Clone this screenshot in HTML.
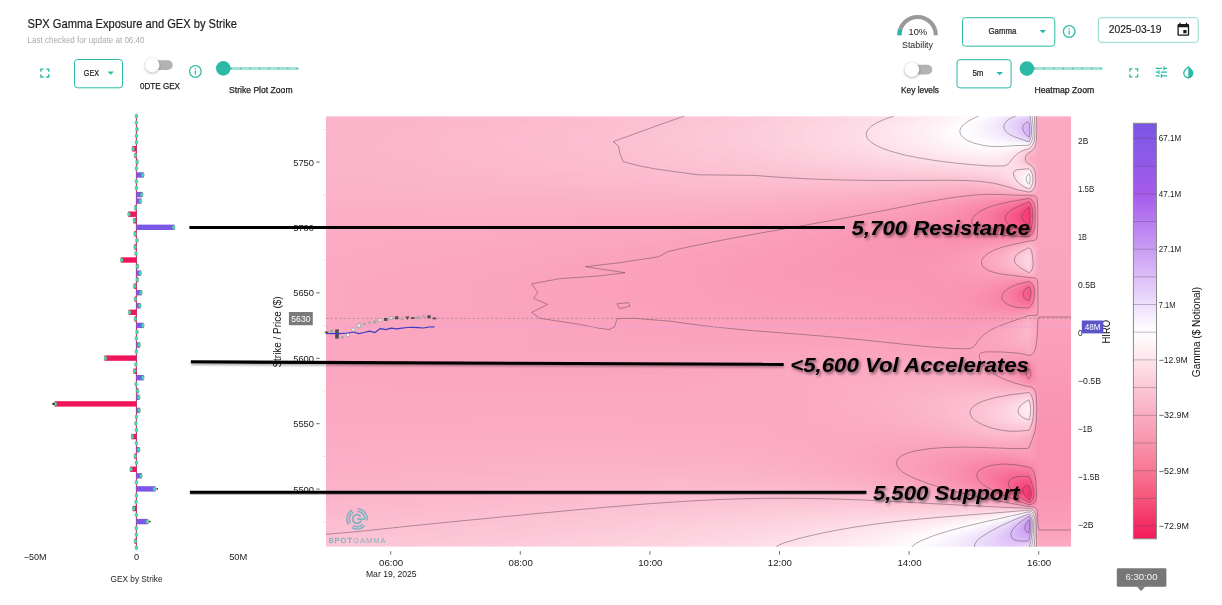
<!DOCTYPE html>
<html><head><meta charset="utf-8"><title>SPX Gamma Exposure and GEX by Strike</title>
<style>
html,body{margin:0;padding:0;background:#fff;}
body{width:1222px;height:605px;overflow:hidden;font-family:"Liberation Sans", sans-serif;}
svg{display:block;position:absolute;left:0;top:0;will-change:transform;}
svg text{font-family:"Liberation Sans", sans-serif;}
</style></head><body>
<svg width="1222" height="605" viewBox="0 0 1222 605">
<defs>
<filter id="b1" x="-50%" y="-50%" width="200%" height="200%"><feGaussianBlur stdDeviation="1"/></filter>
<filter id="b2" x="-10%" y="-300%" width="120%" height="700%"><feGaussianBlur stdDeviation="1.3"/></filter>
<linearGradient id="g0"><stop offset="0.0000" stop-color="#fbb3c9"/><stop offset="0.1244" stop-color="#fbb5cb"/><stop offset="0.2519" stop-color="#fcb9cd"/><stop offset="0.3660" stop-color="#fcbdd0"/><stop offset="0.4667" stop-color="#fcc1d3"/><stop offset="0.5540" stop-color="#fcc7d7"/><stop offset="0.6278" stop-color="#fdcedc"/><stop offset="0.6882" stop-color="#fdd5e1"/><stop offset="0.7352" stop-color="#fddce6"/><stop offset="0.7754" stop-color="#fee3eb"/><stop offset="0.8090" stop-color="#feeaf0"/><stop offset="0.8358" stop-color="#fef1f5"/><stop offset="0.8573" stop-color="#fff8fa"/><stop offset="0.8748" stop-color="#ffffff"/><stop offset="0.8895" stop-color="#fbf7fe"/><stop offset="0.9016" stop-color="#f6effd"/><stop offset="0.9110" stop-color="#f2e8fc"/><stop offset="0.9191" stop-color="#efe1fb"/><stop offset="0.9258" stop-color="#ebdbfb"/><stop offset="0.9311" stop-color="#e8d6fa"/><stop offset="0.9352" stop-color="#e6d2fa"/><stop offset="0.9385" stop-color="#e5cff9"/><stop offset="0.9412" stop-color="#e4cdf9"/><stop offset="0.9436" stop-color="#e3ccf9"/><stop offset="0.9455" stop-color="#efe2fb"/><stop offset="0.9468" stop-color="#f8f2fd"/><stop offset="0.9482" stop-color="#fffdfd"/><stop offset="0.9495" stop-color="#feeef3"/><stop offset="0.9509" stop-color="#fddfe9"/><stop offset="0.9522" stop-color="#fdd1de"/><stop offset="0.9536" stop-color="#fcc2d4"/><stop offset="0.9549" stop-color="#fbb3c9"/><stop offset="0.9559" stop-color="#fba9c2"/><stop offset="1.0000" stop-color="#fba9c2"/></linearGradient>
<linearGradient id="g1"><stop offset="0.0000" stop-color="#fbb3c9"/><stop offset="0.1244" stop-color="#fbb6cb"/><stop offset="0.2519" stop-color="#fcb9cd"/><stop offset="0.3660" stop-color="#fcbdd0"/><stop offset="0.4667" stop-color="#fcc2d4"/><stop offset="0.5540" stop-color="#fcc8d8"/><stop offset="0.6278" stop-color="#fdcfdd"/><stop offset="0.6882" stop-color="#fdd6e2"/><stop offset="0.7352" stop-color="#fddde7"/><stop offset="0.7754" stop-color="#fee5ec"/><stop offset="0.8090" stop-color="#feedf2"/><stop offset="0.8358" stop-color="#fef4f7"/><stop offset="0.8573" stop-color="#fffbfc"/><stop offset="0.8748" stop-color="#fdfbff"/><stop offset="0.8895" stop-color="#f8f3fe"/><stop offset="0.9016" stop-color="#f4eafc"/><stop offset="0.9110" stop-color="#efe3fc"/><stop offset="0.9191" stop-color="#ebdbfb"/><stop offset="0.9258" stop-color="#e7d4fa"/><stop offset="0.9311" stop-color="#e4cdf9"/><stop offset="0.9352" stop-color="#e1c9f8"/><stop offset="0.9385" stop-color="#dfc5f8"/><stop offset="0.9412" stop-color="#dec3f8"/><stop offset="0.9436" stop-color="#ddc1f7"/><stop offset="0.9455" stop-color="#ead9fa"/><stop offset="0.9468" stop-color="#f3eafc"/><stop offset="0.9482" stop-color="#fdfbfe"/><stop offset="0.9495" stop-color="#fef3f7"/><stop offset="0.9509" stop-color="#fee3eb"/><stop offset="0.9522" stop-color="#fdd4e0"/><stop offset="0.9536" stop-color="#fcc4d5"/><stop offset="0.9549" stop-color="#fbb4ca"/><stop offset="0.9559" stop-color="#fba9c2"/><stop offset="1.0000" stop-color="#fba9c2"/></linearGradient>
<linearGradient id="g2"><stop offset="0.0000" stop-color="#fbb4ca"/><stop offset="0.1244" stop-color="#fcb6cb"/><stop offset="0.2519" stop-color="#fcb9ce"/><stop offset="0.3660" stop-color="#fcbed1"/><stop offset="0.4667" stop-color="#fcc3d4"/><stop offset="0.5540" stop-color="#fcc9d9"/><stop offset="0.6278" stop-color="#fdd0de"/><stop offset="0.6882" stop-color="#fdd7e3"/><stop offset="0.7352" stop-color="#fddfe8"/><stop offset="0.7754" stop-color="#fee7ee"/><stop offset="0.8090" stop-color="#feeff3"/><stop offset="0.8358" stop-color="#fff6f9"/><stop offset="0.8573" stop-color="#fffefe"/><stop offset="0.8748" stop-color="#fbf9fe"/><stop offset="0.8895" stop-color="#f7f0fd"/><stop offset="0.9016" stop-color="#f2e8fc"/><stop offset="0.9110" stop-color="#eedffb"/><stop offset="0.9191" stop-color="#e9d7fa"/><stop offset="0.9258" stop-color="#e4cff9"/><stop offset="0.9311" stop-color="#e1c8f8"/><stop offset="0.9352" stop-color="#dec2f8"/><stop offset="0.9385" stop-color="#dbbef7"/><stop offset="0.9412" stop-color="#d9baf7"/><stop offset="0.9436" stop-color="#d8b8f6"/><stop offset="0.9455" stop-color="#e6d1f9"/><stop offset="0.9468" stop-color="#f0e3fc"/><stop offset="0.9482" stop-color="#faf5fe"/><stop offset="0.9495" stop-color="#fff7fa"/><stop offset="0.9509" stop-color="#fee7ee"/><stop offset="0.9522" stop-color="#fdd6e2"/><stop offset="0.9536" stop-color="#fcc5d6"/><stop offset="0.9549" stop-color="#fbb5ca"/><stop offset="0.9559" stop-color="#fba9c2"/><stop offset="1.0000" stop-color="#fba9c2"/></linearGradient>
<linearGradient id="g3"><stop offset="0.0000" stop-color="#fbb4ca"/><stop offset="0.1244" stop-color="#fcb6cc"/><stop offset="0.2519" stop-color="#fcbace"/><stop offset="0.3660" stop-color="#fcbed1"/><stop offset="0.4667" stop-color="#fcc3d5"/><stop offset="0.5540" stop-color="#fcc9d9"/><stop offset="0.6278" stop-color="#fdd1de"/><stop offset="0.6882" stop-color="#fdd8e3"/><stop offset="0.7352" stop-color="#fee0e9"/><stop offset="0.7754" stop-color="#fee8ef"/><stop offset="0.8090" stop-color="#fef0f4"/><stop offset="0.8358" stop-color="#fff8fa"/><stop offset="0.8573" stop-color="#ffffff"/><stop offset="0.8748" stop-color="#fbf7fe"/><stop offset="0.8895" stop-color="#f6effd"/><stop offset="0.9016" stop-color="#f1e6fc"/><stop offset="0.9110" stop-color="#eddefb"/><stop offset="0.9191" stop-color="#e8d5fa"/><stop offset="0.9258" stop-color="#e3cdf9"/><stop offset="0.9311" stop-color="#dfc5f8"/><stop offset="0.9352" stop-color="#dcbef7"/><stop offset="0.9385" stop-color="#d9b9f6"/><stop offset="0.9412" stop-color="#d6b5f6"/><stop offset="0.9436" stop-color="#d4b1f6"/><stop offset="0.9455" stop-color="#e3ccf9"/><stop offset="0.9468" stop-color="#eddefb"/><stop offset="0.9482" stop-color="#f7f1fd"/><stop offset="0.9495" stop-color="#fffafc"/><stop offset="0.9509" stop-color="#fee9ef"/><stop offset="0.9522" stop-color="#fdd8e3"/><stop offset="0.9536" stop-color="#fcc6d7"/><stop offset="0.9549" stop-color="#fbb5cb"/><stop offset="0.9559" stop-color="#fba9c2"/><stop offset="1.0000" stop-color="#fba9c2"/></linearGradient>
<linearGradient id="g4"><stop offset="0.0000" stop-color="#fbb4ca"/><stop offset="0.1244" stop-color="#fcb7cc"/><stop offset="0.2519" stop-color="#fcbace"/><stop offset="0.3660" stop-color="#fcbed1"/><stop offset="0.4667" stop-color="#fcc4d5"/><stop offset="0.5540" stop-color="#fccad9"/><stop offset="0.6278" stop-color="#fdd1de"/><stop offset="0.6882" stop-color="#fdd9e4"/><stop offset="0.7352" stop-color="#fee0e9"/><stop offset="0.7754" stop-color="#fee9ef"/><stop offset="0.8090" stop-color="#fef1f5"/><stop offset="0.8358" stop-color="#fff9fa"/><stop offset="0.8573" stop-color="#fefeff"/><stop offset="0.8748" stop-color="#faf6fe"/><stop offset="0.8895" stop-color="#f6effd"/><stop offset="0.9016" stop-color="#f2e7fc"/><stop offset="0.9110" stop-color="#eddffb"/><stop offset="0.9191" stop-color="#e9d7fa"/><stop offset="0.9258" stop-color="#e4cef9"/><stop offset="0.9311" stop-color="#dfc5f8"/><stop offset="0.9352" stop-color="#dcbef7"/><stop offset="0.9385" stop-color="#d8b8f6"/><stop offset="0.9412" stop-color="#d5b3f6"/><stop offset="0.9436" stop-color="#d2aef5"/><stop offset="0.9455" stop-color="#e1c9f8"/><stop offset="0.9468" stop-color="#ecdcfb"/><stop offset="0.9482" stop-color="#f6effd"/><stop offset="0.9495" stop-color="#fffcfd"/><stop offset="0.9509" stop-color="#feeaf0"/><stop offset="0.9522" stop-color="#fdd9e4"/><stop offset="0.9536" stop-color="#fcc7d7"/><stop offset="0.9549" stop-color="#fbb5cb"/><stop offset="0.9559" stop-color="#fba9c2"/><stop offset="1.0000" stop-color="#fba9c2"/></linearGradient>
<linearGradient id="g5"><stop offset="0.0000" stop-color="#fbb4ca"/><stop offset="0.1244" stop-color="#fcb7cc"/><stop offset="0.2519" stop-color="#fcbace"/><stop offset="0.3660" stop-color="#fcbfd1"/><stop offset="0.4667" stop-color="#fcc4d5"/><stop offset="0.5540" stop-color="#fccada"/><stop offset="0.6278" stop-color="#fdd1df"/><stop offset="0.6882" stop-color="#fdd9e4"/><stop offset="0.7352" stop-color="#fee1ea"/><stop offset="0.7754" stop-color="#fee9ef"/><stop offset="0.8090" stop-color="#fef1f5"/><stop offset="0.8358" stop-color="#fff9fb"/><stop offset="0.8573" stop-color="#fefeff"/><stop offset="0.8748" stop-color="#fbf7fe"/><stop offset="0.8895" stop-color="#f7f0fd"/><stop offset="0.9016" stop-color="#f3e9fc"/><stop offset="0.9110" stop-color="#efe2fb"/><stop offset="0.9191" stop-color="#ebdafb"/><stop offset="0.9258" stop-color="#e6d2fa"/><stop offset="0.9311" stop-color="#e2caf9"/><stop offset="0.9352" stop-color="#dec3f8"/><stop offset="0.9385" stop-color="#dabbf7"/><stop offset="0.9412" stop-color="#d6b5f6"/><stop offset="0.9436" stop-color="#d3aff5"/><stop offset="0.9455" stop-color="#e2caf8"/><stop offset="0.9468" stop-color="#ecddfb"/><stop offset="0.9482" stop-color="#f7f0fd"/><stop offset="0.9495" stop-color="#fffcfd"/><stop offset="0.9509" stop-color="#feeaf0"/><stop offset="0.9522" stop-color="#fdd8e4"/><stop offset="0.9536" stop-color="#fcc7d7"/><stop offset="0.9549" stop-color="#fbb5cb"/><stop offset="0.9559" stop-color="#fba9c2"/><stop offset="1.0000" stop-color="#fba9c2"/></linearGradient>
<linearGradient id="g6"><stop offset="0.0000" stop-color="#fbb4ca"/><stop offset="0.1244" stop-color="#fcb7cc"/><stop offset="0.2519" stop-color="#fcbace"/><stop offset="0.3660" stop-color="#fcbfd2"/><stop offset="0.4667" stop-color="#fcc4d5"/><stop offset="0.5540" stop-color="#fccada"/><stop offset="0.6278" stop-color="#fdd2df"/><stop offset="0.6882" stop-color="#fdd9e4"/><stop offset="0.7352" stop-color="#fee1ea"/><stop offset="0.7754" stop-color="#fee9ef"/><stop offset="0.8090" stop-color="#fef1f5"/><stop offset="0.8358" stop-color="#fff9fa"/><stop offset="0.8573" stop-color="#ffffff"/><stop offset="0.8748" stop-color="#fbf8fe"/><stop offset="0.8895" stop-color="#f8f2fd"/><stop offset="0.9016" stop-color="#f5ecfd"/><stop offset="0.9110" stop-color="#f2e7fc"/><stop offset="0.9191" stop-color="#eee0fb"/><stop offset="0.9258" stop-color="#ead9fa"/><stop offset="0.9311" stop-color="#e6d2fa"/><stop offset="0.9352" stop-color="#e3cbf9"/><stop offset="0.9385" stop-color="#dfc4f8"/><stop offset="0.9412" stop-color="#dbbdf7"/><stop offset="0.9436" stop-color="#d7b6f6"/><stop offset="0.9455" stop-color="#e5d0f9"/><stop offset="0.9468" stop-color="#efe2fb"/><stop offset="0.9482" stop-color="#f9f4fe"/><stop offset="0.9495" stop-color="#fff8fa"/><stop offset="0.9509" stop-color="#fee7ee"/><stop offset="0.9522" stop-color="#fdd6e2"/><stop offset="0.9536" stop-color="#fcc5d6"/><stop offset="0.9549" stop-color="#fbb4ca"/><stop offset="0.9559" stop-color="#fba8c2"/><stop offset="1.0000" stop-color="#fba8c2"/></linearGradient>
<linearGradient id="g7"><stop offset="0.0000" stop-color="#fbb4ca"/><stop offset="0.1244" stop-color="#fcb7cc"/><stop offset="0.2519" stop-color="#fcbbcf"/><stop offset="0.3660" stop-color="#fcbfd2"/><stop offset="0.4667" stop-color="#fcc4d5"/><stop offset="0.5540" stop-color="#fccada"/><stop offset="0.6278" stop-color="#fdd1df"/><stop offset="0.6882" stop-color="#fdd9e4"/><stop offset="0.7352" stop-color="#fee1e9"/><stop offset="0.7754" stop-color="#fee9ef"/><stop offset="0.8090" stop-color="#fef0f5"/><stop offset="0.8358" stop-color="#fff8fa"/><stop offset="0.8573" stop-color="#fffefe"/><stop offset="0.8748" stop-color="#fcfafe"/><stop offset="0.8895" stop-color="#faf5fe"/><stop offset="0.9016" stop-color="#f7f1fd"/><stop offset="0.9110" stop-color="#f5edfd"/><stop offset="0.9191" stop-color="#f3e8fc"/><stop offset="0.9258" stop-color="#f0e3fc"/><stop offset="0.9311" stop-color="#eddefb"/><stop offset="0.9352" stop-color="#ead8fa"/><stop offset="0.9385" stop-color="#e6d2fa"/><stop offset="0.9412" stop-color="#e3ccf9"/><stop offset="0.9436" stop-color="#dfc5f8"/><stop offset="0.9455" stop-color="#ecdcfb"/><stop offset="0.9468" stop-color="#f5edfd"/><stop offset="0.9482" stop-color="#fefeff"/><stop offset="0.9495" stop-color="#fef1f5"/><stop offset="0.9509" stop-color="#fee1ea"/><stop offset="0.9522" stop-color="#fdd2df"/><stop offset="0.9536" stop-color="#fcc3d4"/><stop offset="0.9549" stop-color="#fbb3c9"/><stop offset="0.9559" stop-color="#fba8c2"/><stop offset="1.0000" stop-color="#fba8c2"/></linearGradient>
<linearGradient id="g8"><stop offset="0.0000" stop-color="#fbb5ca"/><stop offset="0.1244" stop-color="#fcb7cc"/><stop offset="0.2519" stop-color="#fcbbcf"/><stop offset="0.3660" stop-color="#fcbfd2"/><stop offset="0.4667" stop-color="#fcc4d5"/><stop offset="0.5540" stop-color="#fccada"/><stop offset="0.6278" stop-color="#fdd1df"/><stop offset="0.6882" stop-color="#fdd9e4"/><stop offset="0.7352" stop-color="#fee0e9"/><stop offset="0.7754" stop-color="#fee8ee"/><stop offset="0.8090" stop-color="#feeff4"/><stop offset="0.8358" stop-color="#fff6f9"/><stop offset="0.8573" stop-color="#fffcfd"/><stop offset="0.8748" stop-color="#fefdff"/><stop offset="0.8895" stop-color="#fcf9fe"/><stop offset="0.9016" stop-color="#faf6fe"/><stop offset="0.9110" stop-color="#f9f4fe"/><stop offset="0.9191" stop-color="#f8f2fd"/><stop offset="0.9258" stop-color="#f6effd"/><stop offset="0.9311" stop-color="#f5ecfd"/><stop offset="0.9352" stop-color="#f3e9fc"/><stop offset="0.9385" stop-color="#f1e5fc"/><stop offset="0.9412" stop-color="#eee1fb"/><stop offset="0.9436" stop-color="#ebdbfb"/><stop offset="0.9455" stop-color="#f6effd"/><stop offset="0.9468" stop-color="#fefeff"/><stop offset="0.9482" stop-color="#fef3f7"/><stop offset="0.9495" stop-color="#fee6ed"/><stop offset="0.9509" stop-color="#fdd9e4"/><stop offset="0.9522" stop-color="#fdccdb"/><stop offset="0.9536" stop-color="#fcbfd1"/><stop offset="0.9549" stop-color="#fbb1c8"/><stop offset="0.9559" stop-color="#fba8c2"/><stop offset="1.0000" stop-color="#fba8c2"/></linearGradient>
<linearGradient id="g9"><stop offset="0.0000" stop-color="#fbb5ca"/><stop offset="0.1244" stop-color="#fcb7cc"/><stop offset="0.2519" stop-color="#fcbbcf"/><stop offset="0.3660" stop-color="#fcbfd2"/><stop offset="0.4667" stop-color="#fcc4d5"/><stop offset="0.5540" stop-color="#fccad9"/><stop offset="0.6278" stop-color="#fdd1de"/><stop offset="0.6882" stop-color="#fdd8e3"/><stop offset="0.7352" stop-color="#fddfe8"/><stop offset="0.7754" stop-color="#fee6ee"/><stop offset="0.8090" stop-color="#feeef3"/><stop offset="0.8358" stop-color="#fef4f7"/><stop offset="0.8573" stop-color="#fff9fb"/><stop offset="0.8748" stop-color="#fffdfe"/><stop offset="0.8895" stop-color="#fefeff"/><stop offset="0.9016" stop-color="#fdfcff"/><stop offset="0.9110" stop-color="#fdfbff"/><stop offset="0.9191" stop-color="#fdfcff"/><stop offset="0.9352" stop-color="#fdfcff"/><stop offset="0.9385" stop-color="#fdfbfe"/><stop offset="0.9412" stop-color="#fcfafe"/><stop offset="0.9436" stop-color="#fbf8fe"/><stop offset="0.9455" stop-color="#fff8fa"/><stop offset="0.9468" stop-color="#feedf2"/><stop offset="0.9482" stop-color="#fee3eb"/><stop offset="0.9495" stop-color="#fdd9e4"/><stop offset="0.9509" stop-color="#fdcedc"/><stop offset="0.9522" stop-color="#fcc4d5"/><stop offset="0.9536" stop-color="#fcbace"/><stop offset="0.9549" stop-color="#fbafc7"/><stop offset="0.9559" stop-color="#fba8c1"/><stop offset="1.0000" stop-color="#fba8c1"/></linearGradient>
<linearGradient id="g10"><stop offset="0.0000" stop-color="#fbb5ca"/><stop offset="0.1244" stop-color="#fcb7cc"/><stop offset="0.2519" stop-color="#fcbbce"/><stop offset="0.3660" stop-color="#fcbfd1"/><stop offset="0.4667" stop-color="#fcc4d5"/><stop offset="0.5540" stop-color="#fccad9"/><stop offset="0.6278" stop-color="#fdd0de"/><stop offset="0.6882" stop-color="#fdd7e3"/><stop offset="0.7352" stop-color="#fddee7"/><stop offset="0.7754" stop-color="#fee5ec"/><stop offset="0.8090" stop-color="#feecf1"/><stop offset="0.8358" stop-color="#fef2f5"/><stop offset="0.8573" stop-color="#fff6f9"/><stop offset="0.8748" stop-color="#fffafb"/><stop offset="0.8895" stop-color="#fffcfd"/><stop offset="0.9016" stop-color="#fffcfd"/><stop offset="0.9110" stop-color="#fffbfc"/><stop offset="0.9191" stop-color="#fff9fb"/><stop offset="0.9258" stop-color="#fff6f9"/><stop offset="0.9311" stop-color="#fef3f7"/><stop offset="0.9352" stop-color="#fef0f5"/><stop offset="0.9385" stop-color="#feeef3"/><stop offset="0.9412" stop-color="#feecf1"/><stop offset="0.9436" stop-color="#feeaf0"/><stop offset="0.9455" stop-color="#fee0e9"/><stop offset="0.9468" stop-color="#fdd8e4"/><stop offset="0.9482" stop-color="#fdd1df"/><stop offset="0.9495" stop-color="#fccad9"/><stop offset="0.9509" stop-color="#fcc3d4"/><stop offset="0.9522" stop-color="#fcbccf"/><stop offset="0.9536" stop-color="#fbb4ca"/><stop offset="0.9549" stop-color="#fbadc5"/><stop offset="0.9559" stop-color="#fba8c1"/><stop offset="1.0000" stop-color="#fba8c1"/></linearGradient>
<linearGradient id="g11"><stop offset="0.0000" stop-color="#fbb5ca"/><stop offset="0.1244" stop-color="#fcb7cc"/><stop offset="0.2519" stop-color="#fcbace"/><stop offset="0.3660" stop-color="#fcbed1"/><stop offset="0.4667" stop-color="#fcc3d5"/><stop offset="0.5540" stop-color="#fcc9d9"/><stop offset="0.6278" stop-color="#fdcfdd"/><stop offset="0.6882" stop-color="#fdd6e2"/><stop offset="0.7352" stop-color="#fddce6"/><stop offset="0.7754" stop-color="#fee3eb"/><stop offset="0.8090" stop-color="#fee9ef"/><stop offset="0.8358" stop-color="#feeff3"/><stop offset="0.8573" stop-color="#fef3f6"/><stop offset="0.8748" stop-color="#fff6f8"/><stop offset="0.8895" stop-color="#fff7f9"/><stop offset="0.9016" stop-color="#fff6f9"/><stop offset="0.9110" stop-color="#fef4f7"/><stop offset="0.9191" stop-color="#fef1f5"/><stop offset="0.9258" stop-color="#feecf1"/><stop offset="0.9311" stop-color="#fee6ed"/><stop offset="0.9352" stop-color="#fee0e9"/><stop offset="0.9385" stop-color="#fddbe5"/><stop offset="0.9412" stop-color="#fdd5e1"/><stop offset="0.9436" stop-color="#fdcfdd"/><stop offset="0.9455" stop-color="#fcc9d9"/><stop offset="0.9468" stop-color="#fcc5d6"/><stop offset="0.9482" stop-color="#fcc1d3"/><stop offset="0.9495" stop-color="#fcbcd0"/><stop offset="0.9509" stop-color="#fcb8cd"/><stop offset="0.9522" stop-color="#fbb4ca"/><stop offset="0.9536" stop-color="#fbafc7"/><stop offset="0.9549" stop-color="#fbabc3"/><stop offset="0.9559" stop-color="#fba8c1"/><stop offset="1.0000" stop-color="#fba8c1"/></linearGradient>
<linearGradient id="g12"><stop offset="0.0000" stop-color="#fbb4ca"/><stop offset="0.1244" stop-color="#fcb7cc"/><stop offset="0.2519" stop-color="#fcbace"/><stop offset="0.3660" stop-color="#fcbed1"/><stop offset="0.4667" stop-color="#fcc3d4"/><stop offset="0.5540" stop-color="#fcc8d8"/><stop offset="0.6278" stop-color="#fdcedc"/><stop offset="0.6882" stop-color="#fdd4e1"/><stop offset="0.7352" stop-color="#fddae5"/><stop offset="0.7754" stop-color="#fee0e9"/><stop offset="0.8090" stop-color="#fee6ed"/><stop offset="0.8358" stop-color="#feebf1"/><stop offset="0.8573" stop-color="#feeff4"/><stop offset="0.8748" stop-color="#fef2f5"/><stop offset="0.8895" stop-color="#fef2f6"/><stop offset="0.9016" stop-color="#fef1f5"/><stop offset="0.9110" stop-color="#feeef3"/><stop offset="0.9191" stop-color="#fee9f0"/><stop offset="0.9258" stop-color="#fee3eb"/><stop offset="0.9311" stop-color="#fddbe6"/><stop offset="0.9352" stop-color="#fdd4e0"/><stop offset="0.9385" stop-color="#fdccdb"/><stop offset="0.9412" stop-color="#fcc4d5"/><stop offset="0.9436" stop-color="#fcbbcf"/><stop offset="0.9455" stop-color="#fcb8cd"/><stop offset="0.9468" stop-color="#fcb6cb"/><stop offset="0.9482" stop-color="#fbb4ca"/><stop offset="0.9495" stop-color="#fbb2c8"/><stop offset="0.9509" stop-color="#fbb0c7"/><stop offset="0.9522" stop-color="#fbaec5"/><stop offset="0.9536" stop-color="#fbabc4"/><stop offset="0.9549" stop-color="#fba9c2"/><stop offset="0.9559" stop-color="#fba8c1"/><stop offset="1.0000" stop-color="#fba8c1"/></linearGradient>
<linearGradient id="g13"><stop offset="0.0000" stop-color="#fbb4ca"/><stop offset="0.1244" stop-color="#fcb7cc"/><stop offset="0.2519" stop-color="#fcbace"/><stop offset="0.3660" stop-color="#fcbed1"/><stop offset="0.4667" stop-color="#fcc2d4"/><stop offset="0.5540" stop-color="#fcc7d8"/><stop offset="0.6278" stop-color="#fdcddb"/><stop offset="0.6882" stop-color="#fdd3e0"/><stop offset="0.7352" stop-color="#fdd8e3"/><stop offset="0.7754" stop-color="#fddde7"/><stop offset="0.8090" stop-color="#fee3eb"/><stop offset="0.8358" stop-color="#fee7ee"/><stop offset="0.8573" stop-color="#feebf1"/><stop offset="0.8748" stop-color="#feedf2"/><stop offset="0.8895" stop-color="#feeef3"/><stop offset="0.9016" stop-color="#feecf2"/><stop offset="0.9110" stop-color="#fee9ef"/><stop offset="0.9191" stop-color="#fee4ec"/><stop offset="0.9258" stop-color="#fddde7"/><stop offset="0.9311" stop-color="#fdd5e1"/><stop offset="0.9352" stop-color="#fdccdb"/><stop offset="0.9385" stop-color="#fcc3d4"/><stop offset="0.9412" stop-color="#fcbace"/><stop offset="0.9436" stop-color="#fbb0c7"/><stop offset="0.9455" stop-color="#fbafc6"/><stop offset="0.9468" stop-color="#fbaec5"/><stop offset="0.9482" stop-color="#fbadc5"/><stop offset="0.9495" stop-color="#fbacc4"/><stop offset="0.9509" stop-color="#fbabc3"/><stop offset="0.9522" stop-color="#fbaac3"/><stop offset="0.9536" stop-color="#fba9c2"/><stop offset="0.9549" stop-color="#fba8c2"/><stop offset="0.9559" stop-color="#fba8c1"/><stop offset="1.0000" stop-color="#fba8c1"/></linearGradient>
<linearGradient id="g14"><stop offset="0.0000" stop-color="#fbb4ca"/><stop offset="0.1244" stop-color="#fcb7cc"/><stop offset="0.2519" stop-color="#fcbace"/><stop offset="0.3660" stop-color="#fcbdd0"/><stop offset="0.4667" stop-color="#fcc2d4"/><stop offset="0.5540" stop-color="#fcc6d7"/><stop offset="0.6278" stop-color="#fdccdb"/><stop offset="0.6882" stop-color="#fdd1de"/><stop offset="0.7352" stop-color="#fdd6e2"/><stop offset="0.7754" stop-color="#fddae5"/><stop offset="0.8090" stop-color="#fddfe8"/><stop offset="0.8358" stop-color="#fee3eb"/><stop offset="0.8573" stop-color="#fee6ee"/><stop offset="0.8748" stop-color="#fee8ef"/><stop offset="0.8895" stop-color="#fee9ef"/><stop offset="0.9016" stop-color="#fee8ef"/><stop offset="0.9110" stop-color="#fee5ed"/><stop offset="0.9191" stop-color="#fee0e9"/><stop offset="0.9258" stop-color="#fddae5"/><stop offset="0.9311" stop-color="#fdd2df"/><stop offset="0.9352" stop-color="#fccad9"/><stop offset="0.9385" stop-color="#fcc1d3"/><stop offset="0.9412" stop-color="#fcb8cd"/><stop offset="0.9436" stop-color="#fbafc6"/><stop offset="0.9455" stop-color="#fbaec6"/><stop offset="0.9468" stop-color="#fbadc5"/><stop offset="0.9482" stop-color="#fbacc4"/><stop offset="0.9495" stop-color="#fbabc4"/><stop offset="0.9509" stop-color="#fbabc3"/><stop offset="0.9522" stop-color="#fbaac3"/><stop offset="0.9536" stop-color="#fba9c2"/><stop offset="0.9549" stop-color="#fba8c1"/><stop offset="1.0000" stop-color="#fba8c1"/></linearGradient>
<linearGradient id="g15"><stop offset="0.0000" stop-color="#fbb4ca"/><stop offset="0.1244" stop-color="#fcb6cc"/><stop offset="0.2519" stop-color="#fcb9ce"/><stop offset="0.3660" stop-color="#fcbdd0"/><stop offset="0.4667" stop-color="#fcc1d3"/><stop offset="0.5540" stop-color="#fcc5d6"/><stop offset="0.6278" stop-color="#fccad9"/><stop offset="0.6882" stop-color="#fdcfdd"/><stop offset="0.7352" stop-color="#fdd3e0"/><stop offset="0.7754" stop-color="#fdd7e3"/><stop offset="0.8090" stop-color="#fddbe6"/><stop offset="0.8358" stop-color="#fddfe8"/><stop offset="0.8573" stop-color="#fee2ea"/><stop offset="0.8748" stop-color="#fee4ec"/><stop offset="0.9016" stop-color="#fee4ec"/><stop offset="0.9110" stop-color="#fee2ea"/><stop offset="0.9191" stop-color="#fddee8"/><stop offset="0.9258" stop-color="#fdd9e4"/><stop offset="0.9311" stop-color="#fdd3e0"/><stop offset="0.9352" stop-color="#fdcddb"/><stop offset="0.9385" stop-color="#fcc6d7"/><stop offset="0.9412" stop-color="#fcbfd2"/><stop offset="0.9436" stop-color="#fcb8cd"/><stop offset="0.9455" stop-color="#fbb6cb"/><stop offset="0.9468" stop-color="#fbb4ca"/><stop offset="0.9482" stop-color="#fbb2c8"/><stop offset="0.9495" stop-color="#fbb0c7"/><stop offset="0.9509" stop-color="#fbaec6"/><stop offset="0.9522" stop-color="#fbacc5"/><stop offset="0.9536" stop-color="#fbabc3"/><stop offset="0.9549" stop-color="#fba9c2"/><stop offset="0.9559" stop-color="#fba7c1"/><stop offset="1.0000" stop-color="#fba7c1"/></linearGradient>
<linearGradient id="g16"><stop offset="0.0000" stop-color="#fbb4ca"/><stop offset="0.1244" stop-color="#fcb6cb"/><stop offset="0.2519" stop-color="#fcb9cd"/><stop offset="0.3660" stop-color="#fcbcd0"/><stop offset="0.4667" stop-color="#fcc0d2"/><stop offset="0.5540" stop-color="#fcc4d5"/><stop offset="0.6278" stop-color="#fcc8d8"/><stop offset="0.6882" stop-color="#fdccdb"/><stop offset="0.7352" stop-color="#fdd0de"/><stop offset="0.7754" stop-color="#fdd4e0"/><stop offset="0.8090" stop-color="#fdd7e3"/><stop offset="0.8358" stop-color="#fddae5"/><stop offset="0.8573" stop-color="#fddde7"/><stop offset="0.8748" stop-color="#fddfe8"/><stop offset="0.8895" stop-color="#fee0e9"/><stop offset="0.9016" stop-color="#fee0e9"/><stop offset="0.9110" stop-color="#fddfe9"/><stop offset="0.9191" stop-color="#fddee7"/><stop offset="0.9258" stop-color="#fddbe5"/><stop offset="0.9311" stop-color="#fdd7e3"/><stop offset="0.9352" stop-color="#fdd4e0"/><stop offset="0.9385" stop-color="#fdd0de"/><stop offset="0.9412" stop-color="#fdcddb"/><stop offset="0.9436" stop-color="#fcc9d9"/><stop offset="0.9455" stop-color="#fcc4d5"/><stop offset="0.9468" stop-color="#fcc0d2"/><stop offset="0.9482" stop-color="#fcbcd0"/><stop offset="0.9495" stop-color="#fcb9cd"/><stop offset="0.9509" stop-color="#fbb5cb"/><stop offset="0.9522" stop-color="#fbb1c8"/><stop offset="0.9536" stop-color="#fbaec5"/><stop offset="0.9549" stop-color="#fbaac3"/><stop offset="0.9559" stop-color="#fba7c1"/><stop offset="1.0000" stop-color="#fba7c1"/></linearGradient>
<linearGradient id="g17"><stop offset="0.0000" stop-color="#fbb4ca"/><stop offset="0.1244" stop-color="#fcb6cb"/><stop offset="0.2519" stop-color="#fcb9cd"/><stop offset="0.3660" stop-color="#fcbccf"/><stop offset="0.4667" stop-color="#fcbfd2"/><stop offset="0.5540" stop-color="#fcc3d4"/><stop offset="0.6278" stop-color="#fcc7d7"/><stop offset="0.6882" stop-color="#fccada"/><stop offset="0.7352" stop-color="#fdcddc"/><stop offset="0.7754" stop-color="#fdd0de"/><stop offset="0.8090" stop-color="#fdd3e0"/><stop offset="0.8358" stop-color="#fdd5e1"/><stop offset="0.8573" stop-color="#fdd7e3"/><stop offset="0.8748" stop-color="#fdd9e4"/><stop offset="0.8895" stop-color="#fddbe5"/><stop offset="0.9016" stop-color="#fddce6"/><stop offset="0.9110" stop-color="#fddde7"/><stop offset="0.9191" stop-color="#fddde7"/><stop offset="0.9258" stop-color="#fddee7"/><stop offset="0.9311" stop-color="#fddde7"/><stop offset="0.9436" stop-color="#fddde7"/><stop offset="0.9455" stop-color="#fdd5e1"/><stop offset="0.9468" stop-color="#fdcfdd"/><stop offset="0.9482" stop-color="#fcc9d9"/><stop offset="0.9495" stop-color="#fcc3d5"/><stop offset="0.9509" stop-color="#fcbdd0"/><stop offset="0.9522" stop-color="#fcb7cc"/><stop offset="0.9536" stop-color="#fbb1c8"/><stop offset="0.9549" stop-color="#fbabc4"/><stop offset="0.9559" stop-color="#fba7c1"/><stop offset="1.0000" stop-color="#fba7c1"/></linearGradient>
<linearGradient id="g18"><stop offset="0.0000" stop-color="#fbb4ca"/><stop offset="0.1244" stop-color="#fbb6cb"/><stop offset="0.2519" stop-color="#fcb8cd"/><stop offset="0.3660" stop-color="#fcbbcf"/><stop offset="0.4667" stop-color="#fcbed1"/><stop offset="0.5540" stop-color="#fcc2d3"/><stop offset="0.6278" stop-color="#fcc5d6"/><stop offset="0.6882" stop-color="#fcc8d8"/><stop offset="0.7352" stop-color="#fccada"/><stop offset="0.7754" stop-color="#fdccdb"/><stop offset="0.8090" stop-color="#fdcedc"/><stop offset="0.8358" stop-color="#fdd0de"/><stop offset="0.8573" stop-color="#fdd2df"/><stop offset="0.8748" stop-color="#fdd4e0"/><stop offset="0.8895" stop-color="#fdd6e2"/><stop offset="0.9016" stop-color="#fdd8e4"/><stop offset="0.9110" stop-color="#fddbe5"/><stop offset="0.9191" stop-color="#fddde7"/><stop offset="0.9258" stop-color="#fee0e9"/><stop offset="0.9311" stop-color="#fee3eb"/><stop offset="0.9352" stop-color="#fee7ee"/><stop offset="0.9385" stop-color="#feeaf0"/><stop offset="0.9412" stop-color="#feedf3"/><stop offset="0.9436" stop-color="#fef1f5"/><stop offset="0.9455" stop-color="#fee6ed"/><stop offset="0.9468" stop-color="#fddee7"/><stop offset="0.9482" stop-color="#fdd6e2"/><stop offset="0.9495" stop-color="#fdcddc"/><stop offset="0.9509" stop-color="#fcc5d6"/><stop offset="0.9522" stop-color="#fcbdd0"/><stop offset="0.9536" stop-color="#fbb5cb"/><stop offset="0.9549" stop-color="#fbadc5"/><stop offset="0.9559" stop-color="#fba7c1"/><stop offset="1.0000" stop-color="#fba7c1"/></linearGradient>
<linearGradient id="g19"><stop offset="0.0000" stop-color="#fbb3c9"/><stop offset="0.1244" stop-color="#fbb5cb"/><stop offset="0.2519" stop-color="#fcb8cc"/><stop offset="0.3660" stop-color="#fcbace"/><stop offset="0.4667" stop-color="#fcbdd0"/><stop offset="0.5540" stop-color="#fcc0d2"/><stop offset="0.6278" stop-color="#fcc3d4"/><stop offset="0.6882" stop-color="#fcc5d6"/><stop offset="0.7352" stop-color="#fcc7d7"/><stop offset="0.7754" stop-color="#fcc8d8"/><stop offset="0.8090" stop-color="#fccad9"/><stop offset="0.8358" stop-color="#fdcbda"/><stop offset="0.8573" stop-color="#fdccdb"/><stop offset="0.8748" stop-color="#fdcedc"/><stop offset="0.8895" stop-color="#fdd1de"/><stop offset="0.9016" stop-color="#fdd4e0"/><stop offset="0.9110" stop-color="#fdd8e3"/><stop offset="0.9191" stop-color="#fddce6"/><stop offset="0.9258" stop-color="#fee2ea"/><stop offset="0.9311" stop-color="#fee8ef"/><stop offset="0.9352" stop-color="#feeef3"/><stop offset="0.9385" stop-color="#fef4f7"/><stop offset="0.9412" stop-color="#fffbfc"/><stop offset="0.9436" stop-color="#fefdff"/><stop offset="0.9455" stop-color="#fef3f7"/><stop offset="0.9468" stop-color="#fee9f0"/><stop offset="0.9482" stop-color="#fddfe9"/><stop offset="0.9495" stop-color="#fdd6e2"/><stop offset="0.9509" stop-color="#fdccdb"/><stop offset="0.9522" stop-color="#fcc2d4"/><stop offset="0.9536" stop-color="#fcb8cd"/><stop offset="0.9549" stop-color="#fbaec6"/><stop offset="0.9559" stop-color="#fba7c1"/><stop offset="1.0000" stop-color="#fba7c1"/></linearGradient>
<linearGradient id="g20"><stop offset="0.0000" stop-color="#fbb3c9"/><stop offset="0.1244" stop-color="#fbb5ca"/><stop offset="0.2519" stop-color="#fcb7cc"/><stop offset="0.3660" stop-color="#fcb9ce"/><stop offset="0.4667" stop-color="#fcbcd0"/><stop offset="0.5540" stop-color="#fcbfd1"/><stop offset="0.6278" stop-color="#fcc1d3"/><stop offset="0.6882" stop-color="#fcc3d4"/><stop offset="0.7352" stop-color="#fcc4d5"/><stop offset="0.7754" stop-color="#fcc4d5"/><stop offset="0.8090" stop-color="#fcc5d6"/><stop offset="0.8358" stop-color="#fcc5d6"/><stop offset="0.8573" stop-color="#fcc6d7"/><stop offset="0.8748" stop-color="#fcc8d8"/><stop offset="0.8895" stop-color="#fdcbda"/><stop offset="0.9016" stop-color="#fdcfdd"/><stop offset="0.9110" stop-color="#fdd4e0"/><stop offset="0.9191" stop-color="#fddae5"/><stop offset="0.9258" stop-color="#fee1ea"/><stop offset="0.9311" stop-color="#feeaf0"/><stop offset="0.9352" stop-color="#fef2f6"/><stop offset="0.9385" stop-color="#fffafb"/><stop offset="0.9412" stop-color="#fdfcff"/><stop offset="0.9436" stop-color="#f8f3fe"/><stop offset="0.9455" stop-color="#fffbfc"/><stop offset="0.9468" stop-color="#fef0f4"/><stop offset="0.9482" stop-color="#fee5ed"/><stop offset="0.9495" stop-color="#fddae5"/><stop offset="0.9509" stop-color="#fdcfdd"/><stop offset="0.9522" stop-color="#fcc4d5"/><stop offset="0.9536" stop-color="#fcb9ce"/><stop offset="0.9549" stop-color="#fbafc6"/><stop offset="0.9559" stop-color="#fba7c1"/><stop offset="1.0000" stop-color="#fba7c1"/></linearGradient>
<linearGradient id="g21"><stop offset="0.0000" stop-color="#fbb3c9"/><stop offset="0.1244" stop-color="#fbb4ca"/><stop offset="0.2519" stop-color="#fcb6cc"/><stop offset="0.3660" stop-color="#fcb9cd"/><stop offset="0.4667" stop-color="#fcbbcf"/><stop offset="0.5540" stop-color="#fcbdd0"/><stop offset="0.6278" stop-color="#fcbfd2"/><stop offset="0.6882" stop-color="#fcc0d2"/><stop offset="0.7352" stop-color="#fcc0d3"/><stop offset="0.7754" stop-color="#fcc0d3"/><stop offset="0.8090" stop-color="#fcc0d2"/><stop offset="0.8358" stop-color="#fcc0d2"/><stop offset="0.8573" stop-color="#fcc1d3"/><stop offset="0.8748" stop-color="#fcc2d4"/><stop offset="0.8895" stop-color="#fcc5d6"/><stop offset="0.9016" stop-color="#fcc9d9"/><stop offset="0.9110" stop-color="#fdcedc"/><stop offset="0.9191" stop-color="#fdd5e1"/><stop offset="0.9258" stop-color="#fddee7"/><stop offset="0.9311" stop-color="#fee7ee"/><stop offset="0.9352" stop-color="#fef0f4"/><stop offset="0.9385" stop-color="#fff9fb"/><stop offset="0.9412" stop-color="#fdfcff"/><stop offset="0.9436" stop-color="#f8f3fd"/><stop offset="0.9455" stop-color="#fffbfc"/><stop offset="0.9468" stop-color="#fef0f5"/><stop offset="0.9482" stop-color="#fee5ed"/><stop offset="0.9495" stop-color="#fddae5"/><stop offset="0.9509" stop-color="#fdcfdd"/><stop offset="0.9522" stop-color="#fcc4d5"/><stop offset="0.9536" stop-color="#fcb9ce"/><stop offset="0.9549" stop-color="#fbaec6"/><stop offset="0.9559" stop-color="#fba7c0"/><stop offset="1.0000" stop-color="#fba7c0"/></linearGradient>
<linearGradient id="g22"><stop offset="0.0000" stop-color="#fbb3c9"/><stop offset="0.1244" stop-color="#fbb4ca"/><stop offset="0.2519" stop-color="#fcb6cb"/><stop offset="0.3660" stop-color="#fcb8cd"/><stop offset="0.4667" stop-color="#fcbace"/><stop offset="0.5540" stop-color="#fcbbcf"/><stop offset="0.6278" stop-color="#fcbdd0"/><stop offset="0.7352" stop-color="#fcbdd0"/><stop offset="0.7754" stop-color="#fcbcd0"/><stop offset="0.8090" stop-color="#fcbbcf"/><stop offset="0.8358" stop-color="#fcbbcf"/><stop offset="0.8573" stop-color="#fcbace"/><stop offset="0.8748" stop-color="#fcbbcf"/><stop offset="0.8895" stop-color="#fcbed1"/><stop offset="0.9016" stop-color="#fcc2d4"/><stop offset="0.9110" stop-color="#fcc7d7"/><stop offset="0.9191" stop-color="#fdcedd"/><stop offset="0.9258" stop-color="#fdd7e3"/><stop offset="0.9311" stop-color="#fee0e9"/><stop offset="0.9352" stop-color="#fee9ef"/><stop offset="0.9385" stop-color="#fef2f6"/><stop offset="0.9412" stop-color="#fffafb"/><stop offset="0.9436" stop-color="#fdfcff"/><stop offset="0.9455" stop-color="#fef4f7"/><stop offset="0.9468" stop-color="#feeaf0"/><stop offset="0.9482" stop-color="#fee0e9"/><stop offset="0.9495" stop-color="#fdd6e2"/><stop offset="0.9509" stop-color="#fdccdb"/><stop offset="0.9522" stop-color="#fcc2d4"/><stop offset="0.9536" stop-color="#fcb8cc"/><stop offset="0.9549" stop-color="#fbaec5"/><stop offset="0.9559" stop-color="#fba7c0"/><stop offset="1.0000" stop-color="#fba7c0"/></linearGradient>
<linearGradient id="g23"><stop offset="0.0000" stop-color="#fbb2c9"/><stop offset="0.1244" stop-color="#fbb4ca"/><stop offset="0.2519" stop-color="#fbb5cb"/><stop offset="0.3660" stop-color="#fcb7cc"/><stop offset="0.4667" stop-color="#fcb9cd"/><stop offset="0.5540" stop-color="#fcbace"/><stop offset="0.6278" stop-color="#fcbbcf"/><stop offset="0.6882" stop-color="#fcbbcf"/><stop offset="0.7352" stop-color="#fcbace"/><stop offset="0.7754" stop-color="#fcb8cd"/><stop offset="0.8090" stop-color="#fcb7cc"/><stop offset="0.8358" stop-color="#fbb5cb"/><stop offset="0.8573" stop-color="#fbb4ca"/><stop offset="0.8748" stop-color="#fbb5ca"/><stop offset="0.8895" stop-color="#fcb6cc"/><stop offset="0.9016" stop-color="#fcbace"/><stop offset="0.9110" stop-color="#fcbfd1"/><stop offset="0.9191" stop-color="#fcc5d6"/><stop offset="0.9258" stop-color="#fdcddb"/><stop offset="0.9311" stop-color="#fdd5e1"/><stop offset="0.9352" stop-color="#fddce7"/><stop offset="0.9385" stop-color="#fee4ec"/><stop offset="0.9412" stop-color="#feebf0"/><stop offset="0.9436" stop-color="#fef1f5"/><stop offset="0.9455" stop-color="#fee6ed"/><stop offset="0.9468" stop-color="#fddee7"/><stop offset="0.9482" stop-color="#fdd5e1"/><stop offset="0.9495" stop-color="#fdcddc"/><stop offset="0.9509" stop-color="#fcc5d6"/><stop offset="0.9522" stop-color="#fcbdd0"/><stop offset="0.9536" stop-color="#fbb5ca"/><stop offset="0.9549" stop-color="#fbacc4"/><stop offset="0.9559" stop-color="#fba7c0"/><stop offset="1.0000" stop-color="#fba7c0"/></linearGradient>
<linearGradient id="g24"><stop offset="0.0000" stop-color="#fbb2c8"/><stop offset="0.1244" stop-color="#fbb3c9"/><stop offset="0.2519" stop-color="#fbb5ca"/><stop offset="0.3660" stop-color="#fcb6cb"/><stop offset="0.4667" stop-color="#fcb7cc"/><stop offset="0.5540" stop-color="#fcb8cd"/><stop offset="0.6882" stop-color="#fcb8cd"/><stop offset="0.7352" stop-color="#fcb7cc"/><stop offset="0.7754" stop-color="#fbb5ca"/><stop offset="0.8090" stop-color="#fbb2c9"/><stop offset="0.8358" stop-color="#fbb0c7"/><stop offset="0.8573" stop-color="#fbaec6"/><stop offset="0.8748" stop-color="#fbaec5"/><stop offset="0.8895" stop-color="#fbafc6"/><stop offset="0.9016" stop-color="#fbb1c8"/><stop offset="0.9110" stop-color="#fbb5cb"/><stop offset="0.9191" stop-color="#fcbace"/><stop offset="0.9258" stop-color="#fcc0d2"/><stop offset="0.9311" stop-color="#fcc6d6"/><stop offset="0.9352" stop-color="#fdcbda"/><stop offset="0.9385" stop-color="#fdd0de"/><stop offset="0.9412" stop-color="#fdd5e1"/><stop offset="0.9436" stop-color="#fddae4"/><stop offset="0.9455" stop-color="#fdd2df"/><stop offset="0.9468" stop-color="#fdccdb"/><stop offset="0.9482" stop-color="#fcc6d7"/><stop offset="0.9495" stop-color="#fcc1d3"/><stop offset="0.9509" stop-color="#fcbbcf"/><stop offset="0.9522" stop-color="#fbb6cb"/><stop offset="0.9536" stop-color="#fbb0c7"/><stop offset="0.9549" stop-color="#fbaac3"/><stop offset="0.9559" stop-color="#fba6c0"/><stop offset="1.0000" stop-color="#fba6c0"/></linearGradient>
<linearGradient id="g25"><stop offset="0.0000" stop-color="#fbb2c8"/><stop offset="0.1244" stop-color="#fbb3c9"/><stop offset="0.2519" stop-color="#fbb4ca"/><stop offset="0.3660" stop-color="#fbb5cb"/><stop offset="0.4667" stop-color="#fcb6cb"/><stop offset="0.5540" stop-color="#fcb7cc"/><stop offset="0.6278" stop-color="#fcb6cc"/><stop offset="0.6882" stop-color="#fbb5cb"/><stop offset="0.7352" stop-color="#fbb3c9"/><stop offset="0.7754" stop-color="#fbb1c8"/><stop offset="0.8090" stop-color="#fbaec5"/><stop offset="0.8358" stop-color="#fbabc3"/><stop offset="0.8573" stop-color="#fba8c2"/><stop offset="0.8748" stop-color="#fba7c1"/><stop offset="0.8895" stop-color="#fba7c0"/><stop offset="0.9016" stop-color="#fba8c1"/><stop offset="0.9110" stop-color="#fbaac3"/><stop offset="0.9191" stop-color="#fbadc5"/><stop offset="0.9258" stop-color="#fbb1c7"/><stop offset="0.9311" stop-color="#fbb4ca"/><stop offset="0.9352" stop-color="#fcb7cc"/><stop offset="0.9385" stop-color="#fcb9ce"/><stop offset="0.9412" stop-color="#fcbbcf"/><stop offset="0.9436" stop-color="#fcbdd0"/><stop offset="0.9455" stop-color="#fcbace"/><stop offset="0.9468" stop-color="#fcb7cc"/><stop offset="0.9482" stop-color="#fbb5ca"/><stop offset="0.9495" stop-color="#fbb2c9"/><stop offset="0.9509" stop-color="#fbb0c7"/><stop offset="0.9522" stop-color="#fbadc5"/><stop offset="0.9536" stop-color="#fbabc3"/><stop offset="0.9549" stop-color="#fba8c1"/><stop offset="0.9559" stop-color="#fba6c0"/><stop offset="1.0000" stop-color="#fba6c0"/></linearGradient>
<linearGradient id="g26"><stop offset="0.0000" stop-color="#fbb1c8"/><stop offset="0.1244" stop-color="#fbb2c8"/><stop offset="0.2519" stop-color="#fbb3c9"/><stop offset="0.3660" stop-color="#fbb4ca"/><stop offset="0.4667" stop-color="#fbb5ca"/><stop offset="0.5540" stop-color="#fbb5ca"/><stop offset="0.6278" stop-color="#fbb4ca"/><stop offset="0.6882" stop-color="#fbb3c9"/><stop offset="0.7352" stop-color="#fbb0c7"/><stop offset="0.7754" stop-color="#fbadc5"/><stop offset="0.8090" stop-color="#fbaac2"/><stop offset="0.8358" stop-color="#fba6c0"/><stop offset="0.8573" stop-color="#fba3be"/><stop offset="0.8748" stop-color="#faa0bc"/><stop offset="0.8895" stop-color="#fa9fbb"/><stop offset="0.9016" stop-color="#fa9eba"/><stop offset="0.9110" stop-color="#fa9ebb"/><stop offset="0.9191" stop-color="#fa9fbb"/><stop offset="0.9258" stop-color="#faa0bc"/><stop offset="0.9311" stop-color="#faa1bc"/><stop offset="0.9352" stop-color="#faa1bc"/><stop offset="0.9385" stop-color="#faa0bc"/><stop offset="0.9412" stop-color="#faa0bc"/><stop offset="0.9436" stop-color="#fa9fbb"/><stop offset="0.9455" stop-color="#faa0bc"/><stop offset="0.9468" stop-color="#fba1bc"/><stop offset="0.9482" stop-color="#fba2bd"/><stop offset="0.9495" stop-color="#fba3bd"/><stop offset="0.9509" stop-color="#fba3be"/><stop offset="0.9522" stop-color="#fba4bf"/><stop offset="0.9536" stop-color="#fba5bf"/><stop offset="0.9549" stop-color="#fba6c0"/><stop offset="1.0000" stop-color="#fba6c0"/></linearGradient>
<linearGradient id="g27"><stop offset="0.0000" stop-color="#fbb1c8"/><stop offset="0.1244" stop-color="#fbb2c8"/><stop offset="0.2519" stop-color="#fbb2c9"/><stop offset="0.3660" stop-color="#fbb3c9"/><stop offset="0.5540" stop-color="#fbb3c9"/><stop offset="0.6278" stop-color="#fbb2c9"/><stop offset="0.6882" stop-color="#fbb0c7"/><stop offset="0.7352" stop-color="#fbadc5"/><stop offset="0.7754" stop-color="#fbaac3"/><stop offset="0.8090" stop-color="#fba6c0"/><stop offset="0.8358" stop-color="#fba1bd"/><stop offset="0.8573" stop-color="#fa9dba"/><stop offset="0.8748" stop-color="#fa9ab7"/><stop offset="0.8895" stop-color="#fa97b5"/><stop offset="0.9016" stop-color="#fa95b4"/><stop offset="0.9110" stop-color="#fa93b2"/><stop offset="0.9191" stop-color="#fa91b1"/><stop offset="0.9258" stop-color="#fa8fb0"/><stop offset="0.9311" stop-color="#fa8dae"/><stop offset="0.9352" stop-color="#f98bad"/><stop offset="0.9385" stop-color="#f988ab"/><stop offset="0.9412" stop-color="#f985a9"/><stop offset="0.9436" stop-color="#f982a6"/><stop offset="0.9455" stop-color="#f987aa"/><stop offset="0.9468" stop-color="#f98bad"/><stop offset="0.9482" stop-color="#fa8fb0"/><stop offset="0.9495" stop-color="#fa93b3"/><stop offset="0.9509" stop-color="#fa97b6"/><stop offset="0.9522" stop-color="#fa9bb8"/><stop offset="0.9536" stop-color="#fa9fbb"/><stop offset="0.9549" stop-color="#fba3be"/><stop offset="0.9559" stop-color="#fba6c0"/><stop offset="1.0000" stop-color="#fba6c0"/></linearGradient>
<linearGradient id="g28"><stop offset="0.0000" stop-color="#fbb0c7"/><stop offset="0.1244" stop-color="#fbb1c8"/><stop offset="0.2519" stop-color="#fbb2c8"/><stop offset="0.3660" stop-color="#fbb2c9"/><stop offset="0.4667" stop-color="#fbb2c9"/><stop offset="0.5540" stop-color="#fbb2c8"/><stop offset="0.6278" stop-color="#fbb0c7"/><stop offset="0.6882" stop-color="#fbaec5"/><stop offset="0.7352" stop-color="#fbabc3"/><stop offset="0.7754" stop-color="#fba7c0"/><stop offset="0.8090" stop-color="#fba2bd"/><stop offset="0.8358" stop-color="#fa9dba"/><stop offset="0.8573" stop-color="#fa98b6"/><stop offset="0.8748" stop-color="#fa94b3"/><stop offset="0.8895" stop-color="#fa8fb0"/><stop offset="0.9016" stop-color="#f98bad"/><stop offset="0.9110" stop-color="#f988aa"/><stop offset="0.9191" stop-color="#f984a7"/><stop offset="0.9258" stop-color="#f97fa4"/><stop offset="0.9311" stop-color="#f97ba1"/><stop offset="0.9352" stop-color="#f8769e"/><stop offset="0.9385" stop-color="#f8719b"/><stop offset="0.9412" stop-color="#f86d97"/><stop offset="0.9436" stop-color="#f86894"/><stop offset="0.9455" stop-color="#f8719b"/><stop offset="0.9468" stop-color="#f9789f"/><stop offset="0.9482" stop-color="#f97fa4"/><stop offset="0.9495" stop-color="#f986a9"/><stop offset="0.9509" stop-color="#fa8dae"/><stop offset="0.9522" stop-color="#fa94b3"/><stop offset="0.9536" stop-color="#fa9ab8"/><stop offset="0.9549" stop-color="#fba1bd"/><stop offset="0.9559" stop-color="#fba6c0"/><stop offset="1.0000" stop-color="#fba6c0"/></linearGradient>
<linearGradient id="g29"><stop offset="0.0000" stop-color="#fbb0c7"/><stop offset="0.1244" stop-color="#fbb1c7"/><stop offset="0.2519" stop-color="#fbb1c8"/><stop offset="0.4667" stop-color="#fbb1c8"/><stop offset="0.5540" stop-color="#fbb0c7"/><stop offset="0.6278" stop-color="#fbaec6"/><stop offset="0.6882" stop-color="#fbabc4"/><stop offset="0.7352" stop-color="#fba8c1"/><stop offset="0.7754" stop-color="#fba4be"/><stop offset="0.8090" stop-color="#fa9fbb"/><stop offset="0.8358" stop-color="#fa99b7"/><stop offset="0.8573" stop-color="#fa94b3"/><stop offset="0.8748" stop-color="#fa8eaf"/><stop offset="0.8895" stop-color="#f989ab"/><stop offset="0.9016" stop-color="#f983a7"/><stop offset="0.9110" stop-color="#f97da3"/><stop offset="0.9191" stop-color="#f9779f"/><stop offset="0.9258" stop-color="#f8719a"/><stop offset="0.9311" stop-color="#f86a96"/><stop offset="0.9352" stop-color="#f86491"/><stop offset="0.9385" stop-color="#f75f8d"/><stop offset="0.9412" stop-color="#f75989"/><stop offset="0.9436" stop-color="#f75385"/><stop offset="0.9455" stop-color="#f7608e"/><stop offset="0.9468" stop-color="#f86995"/><stop offset="0.9482" stop-color="#f8729b"/><stop offset="0.9495" stop-color="#f97ba2"/><stop offset="0.9509" stop-color="#f984a8"/><stop offset="0.9522" stop-color="#fa8dae"/><stop offset="0.9536" stop-color="#fa96b5"/><stop offset="0.9549" stop-color="#faa0bb"/><stop offset="0.9559" stop-color="#fba6c0"/><stop offset="1.0000" stop-color="#fba6c0"/></linearGradient>
<linearGradient id="g30"><stop offset="0.0000" stop-color="#fbb0c7"/><stop offset="0.4667" stop-color="#fbb0c7"/><stop offset="0.5540" stop-color="#fbaec6"/><stop offset="0.6278" stop-color="#fbacc4"/><stop offset="0.6882" stop-color="#fba9c2"/><stop offset="0.7352" stop-color="#fba6c0"/><stop offset="0.7754" stop-color="#fba1bc"/><stop offset="0.8090" stop-color="#fa9cb9"/><stop offset="0.8358" stop-color="#fa96b4"/><stop offset="0.8573" stop-color="#fa90b0"/><stop offset="0.8748" stop-color="#f989ac"/><stop offset="0.8895" stop-color="#f983a7"/><stop offset="0.9016" stop-color="#f97ba2"/><stop offset="0.9110" stop-color="#f8749d"/><stop offset="0.9191" stop-color="#f86d97"/><stop offset="0.9258" stop-color="#f86592"/><stop offset="0.9311" stop-color="#f75d8c"/><stop offset="0.9352" stop-color="#f75688"/><stop offset="0.9385" stop-color="#f75083"/><stop offset="0.9412" stop-color="#f64b7f"/><stop offset="0.9436" stop-color="#f6457b"/><stop offset="0.9455" stop-color="#f75486"/><stop offset="0.9468" stop-color="#f75e8d"/><stop offset="0.9482" stop-color="#f86995"/><stop offset="0.9495" stop-color="#f8749c"/><stop offset="0.9509" stop-color="#f97ea4"/><stop offset="0.9522" stop-color="#f989ab"/><stop offset="0.9536" stop-color="#fa94b3"/><stop offset="0.9549" stop-color="#fa9ebb"/><stop offset="0.9559" stop-color="#fba6c0"/><stop offset="1.0000" stop-color="#fba6c0"/></linearGradient>
<linearGradient id="g31"><stop offset="0.0000" stop-color="#fbafc6"/><stop offset="0.1244" stop-color="#fbafc7"/><stop offset="0.2519" stop-color="#fbb0c7"/><stop offset="0.3660" stop-color="#fbafc6"/><stop offset="0.4667" stop-color="#fbaec6"/><stop offset="0.5540" stop-color="#fbadc5"/><stop offset="0.6278" stop-color="#fbaac3"/><stop offset="0.6882" stop-color="#fba7c1"/><stop offset="0.7352" stop-color="#fba3be"/><stop offset="0.7754" stop-color="#fa9ebb"/><stop offset="0.8090" stop-color="#fa99b7"/><stop offset="0.8358" stop-color="#fa93b2"/><stop offset="0.8573" stop-color="#fa8dae"/><stop offset="0.8748" stop-color="#f986a9"/><stop offset="0.8895" stop-color="#f97ea3"/><stop offset="0.9016" stop-color="#f8759e"/><stop offset="0.9110" stop-color="#f86d98"/><stop offset="0.9191" stop-color="#f86491"/><stop offset="0.9258" stop-color="#f75b8b"/><stop offset="0.9311" stop-color="#f75385"/><stop offset="0.9352" stop-color="#f64c80"/><stop offset="0.9385" stop-color="#f6467c"/><stop offset="0.9412" stop-color="#f64178"/><stop offset="0.9436" stop-color="#f63c75"/><stop offset="0.9455" stop-color="#f64d81"/><stop offset="0.9468" stop-color="#f75889"/><stop offset="0.9482" stop-color="#f86491"/><stop offset="0.9495" stop-color="#f86f99"/><stop offset="0.9509" stop-color="#f97ba1"/><stop offset="0.9522" stop-color="#f986aa"/><stop offset="0.9536" stop-color="#fa92b2"/><stop offset="0.9549" stop-color="#fa9eba"/><stop offset="0.9559" stop-color="#fba6c0"/><stop offset="1.0000" stop-color="#fba6c0"/></linearGradient>
<linearGradient id="g32"><stop offset="0.0000" stop-color="#fbafc6"/><stop offset="0.2519" stop-color="#fbafc6"/><stop offset="0.3660" stop-color="#fbaec6"/><stop offset="0.4667" stop-color="#fbadc5"/><stop offset="0.5540" stop-color="#fbabc4"/><stop offset="0.6278" stop-color="#fba9c2"/><stop offset="0.6882" stop-color="#fba5bf"/><stop offset="0.7352" stop-color="#fba1bc"/><stop offset="0.7754" stop-color="#fa9cb9"/><stop offset="0.8090" stop-color="#fa97b5"/><stop offset="0.8358" stop-color="#fa91b1"/><stop offset="0.8573" stop-color="#f98aac"/><stop offset="0.8748" stop-color="#f983a7"/><stop offset="0.8895" stop-color="#f97aa1"/><stop offset="0.9016" stop-color="#f8719b"/><stop offset="0.9110" stop-color="#f86894"/><stop offset="0.9191" stop-color="#f75f8d"/><stop offset="0.9258" stop-color="#f75587"/><stop offset="0.9311" stop-color="#f64d81"/><stop offset="0.9352" stop-color="#f6467c"/><stop offset="0.9385" stop-color="#f64178"/><stop offset="0.9412" stop-color="#f63c75"/><stop offset="0.9436" stop-color="#f63972"/><stop offset="0.9455" stop-color="#f6497e"/><stop offset="0.9468" stop-color="#f75587"/><stop offset="0.9482" stop-color="#f7618f"/><stop offset="0.9495" stop-color="#f86d98"/><stop offset="0.9509" stop-color="#f979a0"/><stop offset="0.9522" stop-color="#f985a9"/><stop offset="0.9536" stop-color="#fa91b1"/><stop offset="0.9549" stop-color="#fa9dba"/><stop offset="0.9559" stop-color="#fba6c0"/><stop offset="1.0000" stop-color="#fba6c0"/></linearGradient>
<linearGradient id="g33"><stop offset="0.0000" stop-color="#fbaec6"/><stop offset="0.2519" stop-color="#fbaec6"/><stop offset="0.3660" stop-color="#fbadc5"/><stop offset="0.4667" stop-color="#fbacc4"/><stop offset="0.5540" stop-color="#fbaac3"/><stop offset="0.6278" stop-color="#fba7c1"/><stop offset="0.6882" stop-color="#fba3be"/><stop offset="0.7352" stop-color="#fa9fbb"/><stop offset="0.7754" stop-color="#fa9ab8"/><stop offset="0.8090" stop-color="#fa95b4"/><stop offset="0.8358" stop-color="#fa8faf"/><stop offset="0.8573" stop-color="#f988ab"/><stop offset="0.8748" stop-color="#f981a5"/><stop offset="0.8895" stop-color="#f9789f"/><stop offset="0.9016" stop-color="#f86f99"/><stop offset="0.9110" stop-color="#f86692"/><stop offset="0.9191" stop-color="#f75c8c"/><stop offset="0.9258" stop-color="#f75385"/><stop offset="0.9311" stop-color="#f64b7f"/><stop offset="0.9352" stop-color="#f6447b"/><stop offset="0.9385" stop-color="#f63f77"/><stop offset="0.9412" stop-color="#f63b74"/><stop offset="0.9436" stop-color="#f53872"/><stop offset="0.9455" stop-color="#f6497e"/><stop offset="0.9468" stop-color="#f75587"/><stop offset="0.9482" stop-color="#f7618f"/><stop offset="0.9495" stop-color="#f86d98"/><stop offset="0.9509" stop-color="#f979a0"/><stop offset="0.9522" stop-color="#f985a9"/><stop offset="0.9536" stop-color="#fa91b1"/><stop offset="0.9549" stop-color="#fa9dba"/><stop offset="0.9559" stop-color="#fba6c0"/><stop offset="1.0000" stop-color="#fba6c0"/></linearGradient>
<linearGradient id="g34"><stop offset="0.0000" stop-color="#fbaec6"/><stop offset="0.1244" stop-color="#fbaec6"/><stop offset="0.2519" stop-color="#fbadc5"/><stop offset="0.3660" stop-color="#fbacc4"/><stop offset="0.4667" stop-color="#fbabc3"/><stop offset="0.5540" stop-color="#fba9c2"/><stop offset="0.6278" stop-color="#fba5bf"/><stop offset="0.6882" stop-color="#fba2bd"/><stop offset="0.7352" stop-color="#fa9eba"/><stop offset="0.7754" stop-color="#fa99b7"/><stop offset="0.8090" stop-color="#fa93b3"/><stop offset="0.8358" stop-color="#fa8daf"/><stop offset="0.8573" stop-color="#f987aa"/><stop offset="0.8748" stop-color="#f980a5"/><stop offset="0.8895" stop-color="#f9779f"/><stop offset="0.9016" stop-color="#f86e98"/><stop offset="0.9110" stop-color="#f86592"/><stop offset="0.9191" stop-color="#f75c8c"/><stop offset="0.9258" stop-color="#f75385"/><stop offset="0.9311" stop-color="#f64c80"/><stop offset="0.9352" stop-color="#f6467c"/><stop offset="0.9385" stop-color="#f64178"/><stop offset="0.9412" stop-color="#f63d76"/><stop offset="0.9436" stop-color="#f63a74"/><stop offset="0.9455" stop-color="#f64b7f"/><stop offset="0.9468" stop-color="#f75788"/><stop offset="0.9482" stop-color="#f86290"/><stop offset="0.9495" stop-color="#f86e98"/><stop offset="0.9509" stop-color="#f97aa1"/><stop offset="0.9522" stop-color="#f986a9"/><stop offset="0.9536" stop-color="#fa91b1"/><stop offset="0.9549" stop-color="#fa9dba"/><stop offset="0.9559" stop-color="#fba5c0"/><stop offset="1.0000" stop-color="#fba5c0"/></linearGradient>
<linearGradient id="g35"><stop offset="0.0000" stop-color="#fbaec5"/><stop offset="0.1244" stop-color="#fbadc5"/><stop offset="0.2519" stop-color="#fbadc5"/><stop offset="0.3660" stop-color="#fbacc4"/><stop offset="0.4667" stop-color="#fbaac3"/><stop offset="0.5540" stop-color="#fba7c1"/><stop offset="0.6278" stop-color="#fba4be"/><stop offset="0.6882" stop-color="#faa0bc"/><stop offset="0.7352" stop-color="#fa9cb9"/><stop offset="0.7754" stop-color="#fa97b6"/><stop offset="0.8090" stop-color="#fa92b2"/><stop offset="0.8358" stop-color="#fa8dae"/><stop offset="0.8573" stop-color="#f987aa"/><stop offset="0.8748" stop-color="#f980a5"/><stop offset="0.8895" stop-color="#f9789f"/><stop offset="0.9016" stop-color="#f86f99"/><stop offset="0.9110" stop-color="#f86793"/><stop offset="0.9191" stop-color="#f75f8d"/><stop offset="0.9258" stop-color="#f75788"/><stop offset="0.9311" stop-color="#f75083"/><stop offset="0.9352" stop-color="#f64b7f"/><stop offset="0.9385" stop-color="#f6467c"/><stop offset="0.9412" stop-color="#f64279"/><stop offset="0.9436" stop-color="#f63f77"/><stop offset="0.9455" stop-color="#f74f82"/><stop offset="0.9468" stop-color="#f75a8a"/><stop offset="0.9482" stop-color="#f86592"/><stop offset="0.9495" stop-color="#f8709a"/><stop offset="0.9509" stop-color="#f97ca2"/><stop offset="0.9522" stop-color="#f987aa"/><stop offset="0.9536" stop-color="#fa92b2"/><stop offset="0.9549" stop-color="#fa9dba"/><stop offset="0.9559" stop-color="#fba5bf"/><stop offset="1.0000" stop-color="#fba5bf"/></linearGradient>
<linearGradient id="g36"><stop offset="0.0000" stop-color="#fbadc5"/><stop offset="0.1244" stop-color="#fbadc5"/><stop offset="0.2519" stop-color="#fbacc4"/><stop offset="0.3660" stop-color="#fbabc3"/><stop offset="0.4667" stop-color="#fba9c2"/><stop offset="0.5540" stop-color="#fba6c0"/><stop offset="0.6278" stop-color="#fba3bd"/><stop offset="0.6882" stop-color="#fa9fbb"/><stop offset="0.7352" stop-color="#fa9bb8"/><stop offset="0.7754" stop-color="#fa96b5"/><stop offset="0.8090" stop-color="#fa91b1"/><stop offset="0.8358" stop-color="#fa8cae"/><stop offset="0.8573" stop-color="#f987aa"/><stop offset="0.8748" stop-color="#f981a6"/><stop offset="0.8895" stop-color="#f97aa1"/><stop offset="0.9016" stop-color="#f8729b"/><stop offset="0.9110" stop-color="#f86b96"/><stop offset="0.9191" stop-color="#f86491"/><stop offset="0.9258" stop-color="#f75d8c"/><stop offset="0.9311" stop-color="#f75788"/><stop offset="0.9352" stop-color="#f75385"/><stop offset="0.9385" stop-color="#f74e82"/><stop offset="0.9412" stop-color="#f64b7f"/><stop offset="0.9436" stop-color="#f6477c"/><stop offset="0.9455" stop-color="#f75587"/><stop offset="0.9468" stop-color="#f7608e"/><stop offset="0.9482" stop-color="#f86a95"/><stop offset="0.9495" stop-color="#f8749d"/><stop offset="0.9509" stop-color="#f97fa4"/><stop offset="0.9522" stop-color="#f989ac"/><stop offset="0.9536" stop-color="#fa94b3"/><stop offset="0.9549" stop-color="#fa9eba"/><stop offset="0.9559" stop-color="#fba5bf"/><stop offset="1.0000" stop-color="#fba5bf"/></linearGradient>
<linearGradient id="g37"><stop offset="0.0000" stop-color="#fbadc5"/><stop offset="0.1244" stop-color="#fbacc4"/><stop offset="0.2519" stop-color="#fbabc4"/><stop offset="0.3660" stop-color="#fbaac3"/><stop offset="0.4667" stop-color="#fba8c1"/><stop offset="0.5540" stop-color="#fba5bf"/><stop offset="0.6278" stop-color="#fba1bd"/><stop offset="0.6882" stop-color="#fa9dba"/><stop offset="0.7352" stop-color="#fa9ab7"/><stop offset="0.7754" stop-color="#fa95b4"/><stop offset="0.8090" stop-color="#fa91b1"/><stop offset="0.8358" stop-color="#fa8dae"/><stop offset="0.8573" stop-color="#f988ab"/><stop offset="0.8748" stop-color="#f983a7"/><stop offset="0.8895" stop-color="#f97da3"/><stop offset="0.9016" stop-color="#f8779e"/><stop offset="0.9110" stop-color="#f8719a"/><stop offset="0.9191" stop-color="#f86b96"/><stop offset="0.9258" stop-color="#f86693"/><stop offset="0.9311" stop-color="#f7618f"/><stop offset="0.9352" stop-color="#f75d8c"/><stop offset="0.9385" stop-color="#f75a8a"/><stop offset="0.9412" stop-color="#f75687"/><stop offset="0.9436" stop-color="#f75285"/><stop offset="0.9455" stop-color="#f75f8e"/><stop offset="0.9468" stop-color="#f86894"/><stop offset="0.9482" stop-color="#f8719b"/><stop offset="0.9495" stop-color="#f97aa1"/><stop offset="0.9509" stop-color="#f984a8"/><stop offset="0.9522" stop-color="#fa8dae"/><stop offset="0.9536" stop-color="#fa96b4"/><stop offset="0.9549" stop-color="#fa9fbb"/><stop offset="0.9559" stop-color="#fba5bf"/><stop offset="1.0000" stop-color="#fba5bf"/></linearGradient>
<linearGradient id="g38"><stop offset="0.0000" stop-color="#fbadc5"/><stop offset="0.1244" stop-color="#fbacc4"/><stop offset="0.2519" stop-color="#fbabc3"/><stop offset="0.3660" stop-color="#fba9c2"/><stop offset="0.4667" stop-color="#fba7c0"/><stop offset="0.5540" stop-color="#fba4be"/><stop offset="0.6278" stop-color="#faa0bc"/><stop offset="0.6882" stop-color="#fa9cb9"/><stop offset="0.7352" stop-color="#fa99b6"/><stop offset="0.7754" stop-color="#fa95b4"/><stop offset="0.8090" stop-color="#fa91b1"/><stop offset="0.8358" stop-color="#fa8dae"/><stop offset="0.8573" stop-color="#f989ac"/><stop offset="0.8748" stop-color="#f985a9"/><stop offset="0.8895" stop-color="#f981a5"/><stop offset="0.9016" stop-color="#f97ca2"/><stop offset="0.9110" stop-color="#f9789f"/><stop offset="0.9191" stop-color="#f8749c"/><stop offset="0.9258" stop-color="#f8709a"/><stop offset="0.9311" stop-color="#f86d98"/><stop offset="0.9352" stop-color="#f86b96"/><stop offset="0.9385" stop-color="#f86894"/><stop offset="0.9412" stop-color="#f86592"/><stop offset="0.9436" stop-color="#f86290"/><stop offset="0.9455" stop-color="#f86c97"/><stop offset="0.9468" stop-color="#f8749c"/><stop offset="0.9482" stop-color="#f97ba2"/><stop offset="0.9495" stop-color="#f983a7"/><stop offset="0.9509" stop-color="#f98aac"/><stop offset="0.9522" stop-color="#fa91b1"/><stop offset="0.9536" stop-color="#fa99b6"/><stop offset="0.9549" stop-color="#faa0bc"/><stop offset="0.9559" stop-color="#fba5bf"/><stop offset="1.0000" stop-color="#fba5bf"/></linearGradient>
<linearGradient id="g39"><stop offset="0.0000" stop-color="#fbacc4"/><stop offset="0.1244" stop-color="#fbabc4"/><stop offset="0.2519" stop-color="#fbaac3"/><stop offset="0.3660" stop-color="#fba8c1"/><stop offset="0.4667" stop-color="#fba6c0"/><stop offset="0.5540" stop-color="#fba3be"/><stop offset="0.6278" stop-color="#fa9fbb"/><stop offset="0.6882" stop-color="#fa9bb8"/><stop offset="0.7352" stop-color="#fa98b6"/><stop offset="0.7754" stop-color="#fa94b3"/><stop offset="0.8090" stop-color="#fa91b1"/><stop offset="0.8358" stop-color="#fa8eaf"/><stop offset="0.8573" stop-color="#f98bad"/><stop offset="0.8748" stop-color="#f988ab"/><stop offset="0.8895" stop-color="#f985a9"/><stop offset="0.9016" stop-color="#f983a7"/><stop offset="0.9110" stop-color="#f980a5"/><stop offset="0.9191" stop-color="#f97ea4"/><stop offset="0.9258" stop-color="#f97ca2"/><stop offset="0.9311" stop-color="#f97ba1"/><stop offset="0.9352" stop-color="#f979a0"/><stop offset="0.9385" stop-color="#f9789f"/><stop offset="0.9412" stop-color="#f8779e"/><stop offset="0.9436" stop-color="#f8759d"/><stop offset="0.9455" stop-color="#f97da3"/><stop offset="0.9468" stop-color="#f982a6"/><stop offset="0.9482" stop-color="#f987aa"/><stop offset="0.9495" stop-color="#fa8cae"/><stop offset="0.9509" stop-color="#fa92b1"/><stop offset="0.9522" stop-color="#fa97b5"/><stop offset="0.9536" stop-color="#fa9cb9"/><stop offset="0.9549" stop-color="#fba1bd"/><stop offset="0.9559" stop-color="#fba5bf"/><stop offset="1.0000" stop-color="#fba5bf"/></linearGradient>
<linearGradient id="g40"><stop offset="0.0000" stop-color="#fbacc4"/><stop offset="0.1244" stop-color="#fbabc3"/><stop offset="0.2519" stop-color="#fba9c2"/><stop offset="0.3660" stop-color="#fba7c1"/><stop offset="0.4667" stop-color="#fba5bf"/><stop offset="0.5540" stop-color="#fba2bd"/><stop offset="0.6278" stop-color="#fa9eba"/><stop offset="0.6882" stop-color="#fa9ab8"/><stop offset="0.7352" stop-color="#fa97b5"/><stop offset="0.7754" stop-color="#fa94b3"/><stop offset="0.8090" stop-color="#fa91b1"/><stop offset="0.8358" stop-color="#fa8fb0"/><stop offset="0.8573" stop-color="#fa8dae"/><stop offset="0.8748" stop-color="#f98cad"/><stop offset="0.8895" stop-color="#f98aac"/><stop offset="0.9016" stop-color="#f989ac"/><stop offset="0.9110" stop-color="#f989ab"/><stop offset="0.9191" stop-color="#f989ab"/><stop offset="0.9258" stop-color="#f988ab"/><stop offset="0.9311" stop-color="#f989ab"/><stop offset="0.9385" stop-color="#f989ab"/><stop offset="0.9412" stop-color="#f98aac"/><stop offset="0.9436" stop-color="#f98aac"/><stop offset="0.9455" stop-color="#fa8eaf"/><stop offset="0.9468" stop-color="#fa91b1"/><stop offset="0.9482" stop-color="#fa94b3"/><stop offset="0.9495" stop-color="#fa97b5"/><stop offset="0.9509" stop-color="#fa9ab7"/><stop offset="0.9522" stop-color="#fa9dba"/><stop offset="0.9536" stop-color="#faa0bc"/><stop offset="0.9549" stop-color="#fba3be"/><stop offset="0.9559" stop-color="#fba5bf"/><stop offset="1.0000" stop-color="#fba5bf"/></linearGradient>
<linearGradient id="g41"><stop offset="0.0000" stop-color="#fbabc4"/><stop offset="0.1244" stop-color="#fbaac3"/><stop offset="0.2519" stop-color="#fba9c2"/><stop offset="0.3660" stop-color="#fba7c0"/><stop offset="0.4667" stop-color="#fba4bf"/><stop offset="0.5540" stop-color="#faa1bc"/><stop offset="0.6278" stop-color="#fa9dba"/><stop offset="0.6882" stop-color="#fa9ab7"/><stop offset="0.7352" stop-color="#fa97b5"/><stop offset="0.7754" stop-color="#fa94b3"/><stop offset="0.8090" stop-color="#fa92b2"/><stop offset="0.8358" stop-color="#fa90b1"/><stop offset="0.8573" stop-color="#fa8fb0"/><stop offset="0.8748" stop-color="#fa8fb0"/><stop offset="0.8895" stop-color="#fa90b0"/><stop offset="0.9016" stop-color="#fa91b1"/><stop offset="0.9110" stop-color="#fa92b2"/><stop offset="0.9191" stop-color="#fa93b3"/><stop offset="0.9258" stop-color="#fa95b4"/><stop offset="0.9311" stop-color="#fa96b5"/><stop offset="0.9352" stop-color="#fa98b6"/><stop offset="0.9385" stop-color="#fa9ab7"/><stop offset="0.9412" stop-color="#fa9cb9"/><stop offset="0.9436" stop-color="#fa9eba"/><stop offset="0.9455" stop-color="#fa9fbb"/><stop offset="0.9468" stop-color="#faa0bc"/><stop offset="0.9482" stop-color="#faa1bc"/><stop offset="0.9495" stop-color="#fba1bd"/><stop offset="0.9509" stop-color="#fba2bd"/><stop offset="0.9522" stop-color="#fba3be"/><stop offset="0.9536" stop-color="#fba4be"/><stop offset="0.9549" stop-color="#fba4bf"/><stop offset="0.9559" stop-color="#fba5bf"/><stop offset="1.0000" stop-color="#fba5bf"/></linearGradient>
<linearGradient id="g42"><stop offset="0.0000" stop-color="#fbabc4"/><stop offset="0.1244" stop-color="#fbaac3"/><stop offset="0.2519" stop-color="#fba8c2"/><stop offset="0.3660" stop-color="#fba6c0"/><stop offset="0.4667" stop-color="#fba3be"/><stop offset="0.5540" stop-color="#faa0bc"/><stop offset="0.6278" stop-color="#fa9cb9"/><stop offset="0.6882" stop-color="#fa99b7"/><stop offset="0.7352" stop-color="#fa96b5"/><stop offset="0.7754" stop-color="#fa94b3"/><stop offset="0.8090" stop-color="#fa92b2"/><stop offset="0.8358" stop-color="#fa92b1"/><stop offset="0.8573" stop-color="#fa92b2"/><stop offset="0.8748" stop-color="#fa93b2"/><stop offset="0.8895" stop-color="#fa95b4"/><stop offset="0.9016" stop-color="#fa97b6"/><stop offset="0.9110" stop-color="#fa9ab8"/><stop offset="0.9191" stop-color="#fa9dba"/><stop offset="0.9258" stop-color="#faa1bc"/><stop offset="0.9311" stop-color="#fba4be"/><stop offset="0.9352" stop-color="#fba6c0"/><stop offset="0.9385" stop-color="#fba9c2"/><stop offset="0.9412" stop-color="#fbacc4"/><stop offset="0.9436" stop-color="#fbb0c7"/><stop offset="0.9455" stop-color="#fbaec6"/><stop offset="0.9468" stop-color="#fbadc5"/><stop offset="0.9482" stop-color="#fbacc4"/><stop offset="0.9495" stop-color="#fbabc3"/><stop offset="0.9509" stop-color="#fba9c2"/><stop offset="0.9522" stop-color="#fba8c1"/><stop offset="0.9536" stop-color="#fba7c1"/><stop offset="0.9549" stop-color="#fba6c0"/><stop offset="0.9559" stop-color="#fba5bf"/><stop offset="1.0000" stop-color="#fba5bf"/></linearGradient>
<linearGradient id="g43"><stop offset="0.0000" stop-color="#fbabc3"/><stop offset="0.1244" stop-color="#fbaac3"/><stop offset="0.2519" stop-color="#fba8c1"/><stop offset="0.3660" stop-color="#fba5c0"/><stop offset="0.4667" stop-color="#fba3bd"/><stop offset="0.5540" stop-color="#fa9fbb"/><stop offset="0.6278" stop-color="#fa9cb9"/><stop offset="0.6882" stop-color="#fa99b6"/><stop offset="0.7352" stop-color="#fa96b5"/><stop offset="0.7754" stop-color="#fa94b3"/><stop offset="0.8090" stop-color="#fa93b2"/><stop offset="0.8358" stop-color="#fa93b2"/><stop offset="0.8573" stop-color="#fa94b3"/><stop offset="0.8748" stop-color="#fa96b5"/><stop offset="0.8895" stop-color="#fa9ab7"/><stop offset="0.9016" stop-color="#fa9eba"/><stop offset="0.9110" stop-color="#fba2bd"/><stop offset="0.9191" stop-color="#fba7c0"/><stop offset="0.9258" stop-color="#fbabc4"/><stop offset="0.9311" stop-color="#fbafc7"/><stop offset="0.9352" stop-color="#fbb3c9"/><stop offset="0.9385" stop-color="#fcb6cc"/><stop offset="0.9412" stop-color="#fcbace"/><stop offset="0.9436" stop-color="#fcbed1"/><stop offset="0.9455" stop-color="#fcbace"/><stop offset="0.9468" stop-color="#fcb7cc"/><stop offset="0.9482" stop-color="#fbb4ca"/><stop offset="0.9495" stop-color="#fbb2c8"/><stop offset="0.9509" stop-color="#fbafc6"/><stop offset="0.9522" stop-color="#fbacc4"/><stop offset="0.9536" stop-color="#fba9c2"/><stop offset="0.9549" stop-color="#fba7c0"/><stop offset="0.9559" stop-color="#fba5bf"/><stop offset="1.0000" stop-color="#fba5bf"/></linearGradient>
<linearGradient id="g44"><stop offset="0.0000" stop-color="#fbabc3"/><stop offset="0.1244" stop-color="#fba9c2"/><stop offset="0.2519" stop-color="#fba7c1"/><stop offset="0.3660" stop-color="#fba5bf"/><stop offset="0.4667" stop-color="#fba2bd"/><stop offset="0.5540" stop-color="#fa9fbb"/><stop offset="0.6278" stop-color="#fa9bb8"/><stop offset="0.6882" stop-color="#fa98b6"/><stop offset="0.7352" stop-color="#fa96b4"/><stop offset="0.7754" stop-color="#fa94b3"/><stop offset="0.8358" stop-color="#fa94b3"/><stop offset="0.8573" stop-color="#fa96b5"/><stop offset="0.8748" stop-color="#fa99b7"/><stop offset="0.8895" stop-color="#fa9eba"/><stop offset="0.9016" stop-color="#fba3be"/><stop offset="0.9110" stop-color="#fba9c2"/><stop offset="0.9191" stop-color="#fbafc6"/><stop offset="0.9258" stop-color="#fbb4ca"/><stop offset="0.9311" stop-color="#fcb9cd"/><stop offset="0.9352" stop-color="#fcbdd0"/><stop offset="0.9385" stop-color="#fcc1d3"/><stop offset="0.9412" stop-color="#fcc4d5"/><stop offset="0.9436" stop-color="#fcc7d7"/><stop offset="0.9455" stop-color="#fcc2d4"/><stop offset="0.9468" stop-color="#fcbed1"/><stop offset="0.9482" stop-color="#fcbace"/><stop offset="0.9495" stop-color="#fcb6cc"/><stop offset="0.9509" stop-color="#fbb3c9"/><stop offset="0.9522" stop-color="#fbafc6"/><stop offset="0.9536" stop-color="#fbabc4"/><stop offset="0.9549" stop-color="#fba7c1"/><stop offset="0.9559" stop-color="#fba5bf"/><stop offset="1.0000" stop-color="#fba5bf"/></linearGradient>
<linearGradient id="g45"><stop offset="0.0000" stop-color="#fbaac3"/><stop offset="0.1244" stop-color="#fba9c2"/><stop offset="0.2519" stop-color="#fba7c1"/><stop offset="0.3660" stop-color="#fba4bf"/><stop offset="0.4667" stop-color="#fba1bd"/><stop offset="0.5540" stop-color="#fa9eba"/><stop offset="0.6278" stop-color="#fa9bb8"/><stop offset="0.6882" stop-color="#fa98b6"/><stop offset="0.7352" stop-color="#fa96b4"/><stop offset="0.7754" stop-color="#fa94b4"/><stop offset="0.8090" stop-color="#fa94b3"/><stop offset="0.8358" stop-color="#fa96b4"/><stop offset="0.8573" stop-color="#fa98b6"/><stop offset="0.8748" stop-color="#fa9cb9"/><stop offset="0.8895" stop-color="#fba1bd"/><stop offset="0.9016" stop-color="#fba8c1"/><stop offset="0.9110" stop-color="#fbaec6"/><stop offset="0.9191" stop-color="#fbb5ca"/><stop offset="0.9258" stop-color="#fcbbcf"/><stop offset="0.9311" stop-color="#fcc1d3"/><stop offset="0.9352" stop-color="#fcc5d6"/><stop offset="0.9385" stop-color="#fcc9d9"/><stop offset="0.9412" stop-color="#fdcbda"/><stop offset="0.9436" stop-color="#fdcedc"/><stop offset="0.9455" stop-color="#fcc7d8"/><stop offset="0.9468" stop-color="#fcc3d4"/><stop offset="0.9482" stop-color="#fcbed1"/><stop offset="0.9495" stop-color="#fcbace"/><stop offset="0.9509" stop-color="#fbb5cb"/><stop offset="0.9522" stop-color="#fbb1c8"/><stop offset="0.9536" stop-color="#fbacc4"/><stop offset="0.9549" stop-color="#fba8c1"/><stop offset="0.9559" stop-color="#fba4bf"/><stop offset="1.0000" stop-color="#fba4bf"/></linearGradient>
<linearGradient id="g46"><stop offset="0.0000" stop-color="#fbaac3"/><stop offset="0.1244" stop-color="#fba9c2"/><stop offset="0.2519" stop-color="#fba6c0"/><stop offset="0.3660" stop-color="#fba4be"/><stop offset="0.4667" stop-color="#faa1bc"/><stop offset="0.5540" stop-color="#fa9dba"/><stop offset="0.6278" stop-color="#fa9ab8"/><stop offset="0.6882" stop-color="#fa98b6"/><stop offset="0.7352" stop-color="#fa96b4"/><stop offset="0.7754" stop-color="#fa95b4"/><stop offset="0.8090" stop-color="#fa95b4"/><stop offset="0.8358" stop-color="#fa97b5"/><stop offset="0.8573" stop-color="#fa9ab7"/><stop offset="0.8748" stop-color="#fa9eba"/><stop offset="0.8895" stop-color="#fba4be"/><stop offset="0.9016" stop-color="#fbabc3"/><stop offset="0.9110" stop-color="#fbb2c8"/><stop offset="0.9191" stop-color="#fcb9cd"/><stop offset="0.9258" stop-color="#fcc0d2"/><stop offset="0.9311" stop-color="#fcc6d7"/><stop offset="0.9352" stop-color="#fccbda"/><stop offset="0.9385" stop-color="#fdcedc"/><stop offset="0.9412" stop-color="#fdd0de"/><stop offset="0.9436" stop-color="#fdd2df"/><stop offset="0.9455" stop-color="#fdcbda"/><stop offset="0.9468" stop-color="#fcc6d7"/><stop offset="0.9482" stop-color="#fcc1d3"/><stop offset="0.9495" stop-color="#fcbccf"/><stop offset="0.9509" stop-color="#fcb7cc"/><stop offset="0.9522" stop-color="#fbb2c8"/><stop offset="0.9536" stop-color="#fbadc5"/><stop offset="0.9549" stop-color="#fba8c1"/><stop offset="0.9559" stop-color="#fba4bf"/><stop offset="1.0000" stop-color="#fba4bf"/></linearGradient>
<linearGradient id="g47"><stop offset="0.0000" stop-color="#fbaac3"/><stop offset="0.1244" stop-color="#fba8c1"/><stop offset="0.2519" stop-color="#fba6c0"/><stop offset="0.3660" stop-color="#fba3be"/><stop offset="0.4667" stop-color="#faa0bc"/><stop offset="0.5540" stop-color="#fa9dba"/><stop offset="0.6278" stop-color="#fa9ab7"/><stop offset="0.6882" stop-color="#fa97b6"/><stop offset="0.7352" stop-color="#fa96b4"/><stop offset="0.7754" stop-color="#fa95b4"/><stop offset="0.8090" stop-color="#fa96b4"/><stop offset="0.8358" stop-color="#fa97b6"/><stop offset="0.8573" stop-color="#fa9bb8"/><stop offset="0.8748" stop-color="#fa9fbb"/><stop offset="0.8895" stop-color="#fba5bf"/><stop offset="0.9016" stop-color="#fbacc4"/><stop offset="0.9110" stop-color="#fbb4ca"/><stop offset="0.9191" stop-color="#fcbbcf"/><stop offset="0.9258" stop-color="#fcc2d4"/><stop offset="0.9311" stop-color="#fcc9d9"/><stop offset="0.9352" stop-color="#fdcedc"/><stop offset="0.9385" stop-color="#fdd1df"/><stop offset="0.9412" stop-color="#fdd4e0"/><stop offset="0.9436" stop-color="#fdd5e1"/><stop offset="0.9455" stop-color="#fdcedc"/><stop offset="0.9468" stop-color="#fcc8d8"/><stop offset="0.9482" stop-color="#fcc3d4"/><stop offset="0.9495" stop-color="#fcbed1"/><stop offset="0.9509" stop-color="#fcb8cd"/><stop offset="0.9522" stop-color="#fbb3c9"/><stop offset="0.9536" stop-color="#fbadc5"/><stop offset="0.9549" stop-color="#fba8c1"/><stop offset="0.9559" stop-color="#fba4bf"/><stop offset="1.0000" stop-color="#fba4bf"/></linearGradient>
<linearGradient id="g48"><stop offset="0.0000" stop-color="#fba9c2"/><stop offset="0.1244" stop-color="#fba8c1"/><stop offset="0.2519" stop-color="#fba6c0"/><stop offset="0.3660" stop-color="#fba3be"/><stop offset="0.4667" stop-color="#faa0bc"/><stop offset="0.5540" stop-color="#fa9db9"/><stop offset="0.6278" stop-color="#fa9ab7"/><stop offset="0.6882" stop-color="#fa97b6"/><stop offset="0.7352" stop-color="#fa96b5"/><stop offset="0.7754" stop-color="#fa95b4"/><stop offset="0.8090" stop-color="#fa96b5"/><stop offset="0.8358" stop-color="#fa98b6"/><stop offset="0.8573" stop-color="#fa9bb8"/><stop offset="0.8748" stop-color="#faa0bc"/><stop offset="0.8895" stop-color="#fba6c0"/><stop offset="0.9016" stop-color="#fbadc5"/><stop offset="0.9110" stop-color="#fbb4ca"/><stop offset="0.9191" stop-color="#fcbbcf"/><stop offset="0.9258" stop-color="#fcc2d4"/><stop offset="0.9311" stop-color="#fcc9d8"/><stop offset="0.9352" stop-color="#fdcedc"/><stop offset="0.9385" stop-color="#fdd2df"/><stop offset="0.9412" stop-color="#fdd5e1"/><stop offset="0.9436" stop-color="#fdd7e3"/><stop offset="0.9455" stop-color="#fdcfdd"/><stop offset="0.9468" stop-color="#fccad9"/><stop offset="0.9482" stop-color="#fcc4d5"/><stop offset="0.9495" stop-color="#fcbfd1"/><stop offset="0.9509" stop-color="#fcb9cd"/><stop offset="0.9522" stop-color="#fbb3c9"/><stop offset="0.9536" stop-color="#fbaec5"/><stop offset="0.9549" stop-color="#fba8c1"/><stop offset="0.9559" stop-color="#fba4bf"/><stop offset="1.0000" stop-color="#fba4bf"/></linearGradient>
<linearGradient id="g49"><stop offset="0.0000" stop-color="#fba9c2"/><stop offset="0.1244" stop-color="#fba8c1"/><stop offset="0.2519" stop-color="#fba5bf"/><stop offset="0.3660" stop-color="#fba3be"/><stop offset="0.4667" stop-color="#faa0bb"/><stop offset="0.5540" stop-color="#fa9cb9"/><stop offset="0.6278" stop-color="#fa9ab7"/><stop offset="0.6882" stop-color="#fa97b6"/><stop offset="0.7352" stop-color="#fa96b5"/><stop offset="0.7754" stop-color="#fa96b4"/><stop offset="0.8090" stop-color="#fa97b5"/><stop offset="0.8358" stop-color="#fa99b6"/><stop offset="0.8573" stop-color="#fa9cb9"/><stop offset="0.8748" stop-color="#faa0bc"/><stop offset="0.8895" stop-color="#fba5bf"/><stop offset="0.9016" stop-color="#fbacc4"/><stop offset="0.9110" stop-color="#fbb2c8"/><stop offset="0.9191" stop-color="#fcb9cd"/><stop offset="0.9258" stop-color="#fcbfd2"/><stop offset="0.9311" stop-color="#fcc6d6"/><stop offset="0.9352" stop-color="#fdcbda"/><stop offset="0.9385" stop-color="#fdd0de"/><stop offset="0.9412" stop-color="#fdd4e0"/><stop offset="0.9436" stop-color="#fdd8e3"/><stop offset="0.9455" stop-color="#fdd0dd"/><stop offset="0.9468" stop-color="#fccad9"/><stop offset="0.9482" stop-color="#fcc4d5"/><stop offset="0.9495" stop-color="#fcbfd1"/><stop offset="0.9509" stop-color="#fcb9cd"/><stop offset="0.9522" stop-color="#fbb3c9"/><stop offset="0.9536" stop-color="#fbaec5"/><stop offset="0.9549" stop-color="#fba8c1"/><stop offset="0.9559" stop-color="#fba4bf"/><stop offset="1.0000" stop-color="#fba4bf"/></linearGradient>
<linearGradient id="g50"><stop offset="0.0000" stop-color="#fba9c2"/><stop offset="0.1244" stop-color="#fba7c1"/><stop offset="0.2519" stop-color="#fba5bf"/><stop offset="0.3660" stop-color="#fba2bd"/><stop offset="0.4667" stop-color="#fa9fbb"/><stop offset="0.5540" stop-color="#fa9cb9"/><stop offset="0.6278" stop-color="#fa99b7"/><stop offset="0.6882" stop-color="#fa97b6"/><stop offset="0.7352" stop-color="#fa96b5"/><stop offset="0.7754" stop-color="#fa96b5"/><stop offset="0.8090" stop-color="#fa97b5"/><stop offset="0.8358" stop-color="#fa99b7"/><stop offset="0.8573" stop-color="#fa9cb9"/><stop offset="0.8748" stop-color="#fa9fbb"/><stop offset="0.8895" stop-color="#fba4be"/><stop offset="0.9016" stop-color="#fba9c2"/><stop offset="0.9110" stop-color="#fbafc6"/><stop offset="0.9191" stop-color="#fbb4ca"/><stop offset="0.9258" stop-color="#fcbace"/><stop offset="0.9311" stop-color="#fcc0d2"/><stop offset="0.9352" stop-color="#fcc5d6"/><stop offset="0.9385" stop-color="#fccada"/><stop offset="0.9412" stop-color="#fdcfdd"/><stop offset="0.9436" stop-color="#fdd4e1"/><stop offset="0.9455" stop-color="#fdcddb"/><stop offset="0.9468" stop-color="#fcc7d8"/><stop offset="0.9482" stop-color="#fcc2d4"/><stop offset="0.9495" stop-color="#fcbdd0"/><stop offset="0.9509" stop-color="#fcb8cc"/><stop offset="0.9522" stop-color="#fbb2c9"/><stop offset="0.9536" stop-color="#fbadc5"/><stop offset="0.9549" stop-color="#fba8c1"/><stop offset="0.9559" stop-color="#fba4bf"/><stop offset="1.0000" stop-color="#fba4bf"/></linearGradient>
<linearGradient id="g51"><stop offset="0.0000" stop-color="#fba9c2"/><stop offset="0.1244" stop-color="#fba7c1"/><stop offset="0.2519" stop-color="#fba5bf"/><stop offset="0.3660" stop-color="#fba2bd"/><stop offset="0.4667" stop-color="#fa9fbb"/><stop offset="0.5540" stop-color="#fa9cb9"/><stop offset="0.6278" stop-color="#fa99b7"/><stop offset="0.6882" stop-color="#fa97b6"/><stop offset="0.7352" stop-color="#fa96b5"/><stop offset="0.7754" stop-color="#fa96b5"/><stop offset="0.8090" stop-color="#fa97b5"/><stop offset="0.8358" stop-color="#fa99b7"/><stop offset="0.8573" stop-color="#fa9bb8"/><stop offset="0.8748" stop-color="#fa9eba"/><stop offset="0.8895" stop-color="#fba2bd"/><stop offset="0.9016" stop-color="#fba6c0"/><stop offset="0.9110" stop-color="#fbaac3"/><stop offset="0.9191" stop-color="#fbaec6"/><stop offset="0.9258" stop-color="#fbb3c9"/><stop offset="0.9311" stop-color="#fcb8cc"/><stop offset="0.9352" stop-color="#fcbcd0"/><stop offset="0.9385" stop-color="#fcc1d3"/><stop offset="0.9412" stop-color="#fcc6d7"/><stop offset="0.9436" stop-color="#fdcbda"/><stop offset="0.9455" stop-color="#fcc5d6"/><stop offset="0.9468" stop-color="#fcc1d3"/><stop offset="0.9482" stop-color="#fcbdd0"/><stop offset="0.9495" stop-color="#fcb8cd"/><stop offset="0.9509" stop-color="#fbb4ca"/><stop offset="0.9522" stop-color="#fbb0c7"/><stop offset="0.9536" stop-color="#fbabc4"/><stop offset="0.9549" stop-color="#fba7c1"/><stop offset="0.9559" stop-color="#fba4be"/><stop offset="1.0000" stop-color="#fba4be"/></linearGradient>
<linearGradient id="g52"><stop offset="0.0000" stop-color="#fba9c2"/><stop offset="0.1244" stop-color="#fba7c1"/><stop offset="0.2519" stop-color="#fba5bf"/><stop offset="0.3660" stop-color="#fba2bd"/><stop offset="0.4667" stop-color="#fa9fbb"/><stop offset="0.5540" stop-color="#fa9cb9"/><stop offset="0.6278" stop-color="#fa99b7"/><stop offset="0.6882" stop-color="#fa98b6"/><stop offset="0.7352" stop-color="#fa97b5"/><stop offset="0.8090" stop-color="#fa97b5"/><stop offset="0.8358" stop-color="#fa99b6"/><stop offset="0.8573" stop-color="#fa9ab8"/><stop offset="0.8748" stop-color="#fa9db9"/><stop offset="0.8895" stop-color="#fa9fbb"/><stop offset="0.9016" stop-color="#fba2bd"/><stop offset="0.9110" stop-color="#fba4bf"/><stop offset="0.9191" stop-color="#fba7c0"/><stop offset="0.9258" stop-color="#fbaac3"/><stop offset="0.9311" stop-color="#fbadc5"/><stop offset="0.9352" stop-color="#fbb0c7"/><stop offset="0.9385" stop-color="#fbb4ca"/><stop offset="0.9412" stop-color="#fcb8cd"/><stop offset="0.9436" stop-color="#fcbdd0"/><stop offset="0.9455" stop-color="#fcb9cd"/><stop offset="0.9468" stop-color="#fcb6cb"/><stop offset="0.9482" stop-color="#fbb3c9"/><stop offset="0.9495" stop-color="#fbb1c8"/><stop offset="0.9509" stop-color="#fbaec6"/><stop offset="0.9522" stop-color="#fbabc4"/><stop offset="0.9536" stop-color="#fba9c2"/><stop offset="0.9549" stop-color="#fba6c0"/><stop offset="0.9559" stop-color="#fba4be"/><stop offset="1.0000" stop-color="#fba4be"/></linearGradient>
<linearGradient id="g53"><stop offset="0.0000" stop-color="#fba8c2"/><stop offset="0.1244" stop-color="#fba7c0"/><stop offset="0.2519" stop-color="#fba4bf"/><stop offset="0.3660" stop-color="#fba2bd"/><stop offset="0.4667" stop-color="#fa9fbb"/><stop offset="0.5540" stop-color="#fa9cb9"/><stop offset="0.6278" stop-color="#fa99b7"/><stop offset="0.6882" stop-color="#fa98b6"/><stop offset="0.7352" stop-color="#fa97b5"/><stop offset="0.7754" stop-color="#fa97b5"/><stop offset="0.8090" stop-color="#fa97b6"/><stop offset="0.8358" stop-color="#fa98b6"/><stop offset="0.8573" stop-color="#fa99b7"/><stop offset="0.8748" stop-color="#fa9bb8"/><stop offset="0.8895" stop-color="#fa9cb9"/><stop offset="0.9016" stop-color="#fa9db9"/><stop offset="0.9110" stop-color="#fa9eba"/><stop offset="0.9191" stop-color="#fa9ebb"/><stop offset="0.9258" stop-color="#fa9fbb"/><stop offset="0.9311" stop-color="#faa1bc"/><stop offset="0.9352" stop-color="#fba2bd"/><stop offset="0.9385" stop-color="#fba4bf"/><stop offset="0.9412" stop-color="#fba6c0"/><stop offset="0.9436" stop-color="#fba9c2"/><stop offset="0.9455" stop-color="#fba8c2"/><stop offset="0.9468" stop-color="#fba8c1"/><stop offset="0.9482" stop-color="#fba7c1"/><stop offset="0.9495" stop-color="#fba7c0"/><stop offset="0.9509" stop-color="#fba6c0"/><stop offset="0.9522" stop-color="#fba5bf"/><stop offset="0.9536" stop-color="#fba5bf"/><stop offset="0.9549" stop-color="#fba4bf"/><stop offset="0.9559" stop-color="#fba4be"/><stop offset="1.0000" stop-color="#fba4be"/></linearGradient>
<linearGradient id="g54"><stop offset="0.0000" stop-color="#fba8c2"/><stop offset="0.1244" stop-color="#fba7c0"/><stop offset="0.2519" stop-color="#fba4bf"/><stop offset="0.3660" stop-color="#fba2bd"/><stop offset="0.4667" stop-color="#fa9fbb"/><stop offset="0.5540" stop-color="#fa9cb9"/><stop offset="0.6278" stop-color="#fa9ab7"/><stop offset="0.6882" stop-color="#fa98b6"/><stop offset="0.7352" stop-color="#fa97b5"/><stop offset="0.7754" stop-color="#fa97b5"/><stop offset="0.8090" stop-color="#fa97b6"/><stop offset="0.8358" stop-color="#fa98b6"/><stop offset="0.8573" stop-color="#fa98b6"/><stop offset="0.8748" stop-color="#fa99b6"/><stop offset="0.8895" stop-color="#fa98b6"/><stop offset="0.9016" stop-color="#fa98b6"/><stop offset="0.9110" stop-color="#fa97b5"/><stop offset="0.9191" stop-color="#fa96b5"/><stop offset="0.9258" stop-color="#fa95b4"/><stop offset="0.9311" stop-color="#fa94b3"/><stop offset="0.9352" stop-color="#fa93b3"/><stop offset="0.9385" stop-color="#fa93b2"/><stop offset="0.9412" stop-color="#fa92b2"/><stop offset="0.9436" stop-color="#fa92b2"/><stop offset="0.9455" stop-color="#fa95b4"/><stop offset="0.9468" stop-color="#fa97b5"/><stop offset="0.9482" stop-color="#fa99b7"/><stop offset="0.9495" stop-color="#fa9bb8"/><stop offset="0.9509" stop-color="#fa9db9"/><stop offset="0.9522" stop-color="#fa9ebb"/><stop offset="0.9536" stop-color="#faa0bc"/><stop offset="0.9549" stop-color="#fba2bd"/><stop offset="0.9559" stop-color="#fba4be"/><stop offset="1.0000" stop-color="#fba4be"/></linearGradient>
<linearGradient id="g55"><stop offset="0.0000" stop-color="#fba8c1"/><stop offset="0.1244" stop-color="#fba6c0"/><stop offset="0.2519" stop-color="#fba4bf"/><stop offset="0.3660" stop-color="#fba1bd"/><stop offset="0.4667" stop-color="#fa9fbb"/><stop offset="0.5540" stop-color="#fa9cb9"/><stop offset="0.6278" stop-color="#fa9ab7"/><stop offset="0.6882" stop-color="#fa98b6"/><stop offset="0.7352" stop-color="#fa97b6"/><stop offset="0.7754" stop-color="#fa97b5"/><stop offset="0.8090" stop-color="#fa97b6"/><stop offset="0.8358" stop-color="#fa97b6"/><stop offset="0.8573" stop-color="#fa97b5"/><stop offset="0.8748" stop-color="#fa97b5"/><stop offset="0.8895" stop-color="#fa95b4"/><stop offset="0.9016" stop-color="#fa93b3"/><stop offset="0.9110" stop-color="#fa91b1"/><stop offset="0.9191" stop-color="#fa8eaf"/><stop offset="0.9258" stop-color="#f98bac"/><stop offset="0.9311" stop-color="#f987aa"/><stop offset="0.9352" stop-color="#f984a8"/><stop offset="0.9385" stop-color="#f981a6"/><stop offset="0.9412" stop-color="#f97fa4"/><stop offset="0.9436" stop-color="#f97ca2"/><stop offset="0.9455" stop-color="#f982a6"/><stop offset="0.9468" stop-color="#f986a9"/><stop offset="0.9482" stop-color="#f98bac"/><stop offset="0.9495" stop-color="#fa8fb0"/><stop offset="0.9509" stop-color="#fa93b3"/><stop offset="0.9522" stop-color="#fa98b6"/><stop offset="0.9536" stop-color="#fa9cb9"/><stop offset="0.9549" stop-color="#faa0bc"/><stop offset="0.9559" stop-color="#fba3be"/><stop offset="1.0000" stop-color="#fba3be"/></linearGradient>
<linearGradient id="g56"><stop offset="0.0000" stop-color="#fba8c1"/><stop offset="0.1244" stop-color="#fba6c0"/><stop offset="0.2519" stop-color="#fba4be"/><stop offset="0.3660" stop-color="#fba1bd"/><stop offset="0.4667" stop-color="#fa9fbb"/><stop offset="0.5540" stop-color="#fa9cb9"/><stop offset="0.6278" stop-color="#fa9ab7"/><stop offset="0.6882" stop-color="#fa99b6"/><stop offset="0.7352" stop-color="#fa98b6"/><stop offset="0.7754" stop-color="#fa97b6"/><stop offset="0.8090" stop-color="#fa97b6"/><stop offset="0.8358" stop-color="#fa97b5"/><stop offset="0.8573" stop-color="#fa96b5"/><stop offset="0.8748" stop-color="#fa95b4"/><stop offset="0.8895" stop-color="#fa92b2"/><stop offset="0.9016" stop-color="#fa8faf"/><stop offset="0.9110" stop-color="#f98bad"/><stop offset="0.9191" stop-color="#f986aa"/><stop offset="0.9258" stop-color="#f981a6"/><stop offset="0.9311" stop-color="#f97ca2"/><stop offset="0.9352" stop-color="#f9779f"/><stop offset="0.9385" stop-color="#f8729b"/><stop offset="0.9412" stop-color="#f86e98"/><stop offset="0.9436" stop-color="#f86894"/><stop offset="0.9455" stop-color="#f8719b"/><stop offset="0.9468" stop-color="#f9789f"/><stop offset="0.9482" stop-color="#f97ea4"/><stop offset="0.9495" stop-color="#f985a8"/><stop offset="0.9509" stop-color="#f98bad"/><stop offset="0.9522" stop-color="#fa92b2"/><stop offset="0.9536" stop-color="#fa98b6"/><stop offset="0.9549" stop-color="#fa9fbb"/><stop offset="0.9559" stop-color="#fba3be"/><stop offset="1.0000" stop-color="#fba3be"/></linearGradient>
<linearGradient id="g57"><stop offset="0.0000" stop-color="#fba8c1"/><stop offset="0.1244" stop-color="#fba6c0"/><stop offset="0.2519" stop-color="#fba4be"/><stop offset="0.3660" stop-color="#fba1bd"/><stop offset="0.4667" stop-color="#fa9fbb"/><stop offset="0.5540" stop-color="#fa9cb9"/><stop offset="0.6278" stop-color="#fa9ab8"/><stop offset="0.6882" stop-color="#fa99b7"/><stop offset="0.7352" stop-color="#fa98b6"/><stop offset="0.7754" stop-color="#fa98b6"/><stop offset="0.8090" stop-color="#fa97b5"/><stop offset="0.8358" stop-color="#fa97b5"/><stop offset="0.8573" stop-color="#fa95b4"/><stop offset="0.8748" stop-color="#fa93b2"/><stop offset="0.8895" stop-color="#fa90b0"/><stop offset="0.9016" stop-color="#f98bad"/><stop offset="0.9110" stop-color="#f986a9"/><stop offset="0.9191" stop-color="#f981a5"/><stop offset="0.9258" stop-color="#f97aa1"/><stop offset="0.9311" stop-color="#f8749c"/><stop offset="0.9352" stop-color="#f86d98"/><stop offset="0.9385" stop-color="#f86793"/><stop offset="0.9412" stop-color="#f7618f"/><stop offset="0.9436" stop-color="#f75a8a"/><stop offset="0.9455" stop-color="#f86692"/><stop offset="0.9468" stop-color="#f86e98"/><stop offset="0.9482" stop-color="#f8769e"/><stop offset="0.9495" stop-color="#f97ea3"/><stop offset="0.9509" stop-color="#f986a9"/><stop offset="0.9522" stop-color="#fa8eaf"/><stop offset="0.9536" stop-color="#fa96b4"/><stop offset="0.9549" stop-color="#fa9eba"/><stop offset="0.9559" stop-color="#fba3be"/><stop offset="1.0000" stop-color="#fba3be"/></linearGradient>
<linearGradient id="g58"><stop offset="0.0000" stop-color="#fba8c1"/><stop offset="0.1244" stop-color="#fba6c0"/><stop offset="0.2519" stop-color="#fba4be"/><stop offset="0.3660" stop-color="#fba1bd"/><stop offset="0.4667" stop-color="#fa9fbb"/><stop offset="0.5540" stop-color="#fa9db9"/><stop offset="0.6278" stop-color="#fa9bb8"/><stop offset="0.6882" stop-color="#fa99b7"/><stop offset="0.7352" stop-color="#fa98b6"/><stop offset="0.7754" stop-color="#fa98b6"/><stop offset="0.8090" stop-color="#fa97b6"/><stop offset="0.8358" stop-color="#fa96b5"/><stop offset="0.8573" stop-color="#fa94b3"/><stop offset="0.8748" stop-color="#fa92b1"/><stop offset="0.8895" stop-color="#fa8eaf"/><stop offset="0.9016" stop-color="#f988ab"/><stop offset="0.9110" stop-color="#f983a7"/><stop offset="0.9191" stop-color="#f97ca3"/><stop offset="0.9258" stop-color="#f8759d"/><stop offset="0.9311" stop-color="#f86e98"/><stop offset="0.9352" stop-color="#f86794"/><stop offset="0.9385" stop-color="#f7618f"/><stop offset="0.9412" stop-color="#f75a8a"/><stop offset="0.9436" stop-color="#f75485"/><stop offset="0.9455" stop-color="#f7608e"/><stop offset="0.9468" stop-color="#f86994"/><stop offset="0.9482" stop-color="#f8719b"/><stop offset="0.9495" stop-color="#f97aa1"/><stop offset="0.9509" stop-color="#f983a7"/><stop offset="0.9522" stop-color="#f98cad"/><stop offset="0.9536" stop-color="#fa94b3"/><stop offset="0.9549" stop-color="#fa9dba"/><stop offset="0.9559" stop-color="#fba3be"/><stop offset="1.0000" stop-color="#fba3be"/></linearGradient>
<linearGradient id="g59"><stop offset="0.0000" stop-color="#fba8c1"/><stop offset="0.1244" stop-color="#fba6c0"/><stop offset="0.2519" stop-color="#fba4be"/><stop offset="0.3660" stop-color="#fba1bd"/><stop offset="0.4667" stop-color="#fa9fbb"/><stop offset="0.5540" stop-color="#fa9db9"/><stop offset="0.6278" stop-color="#fa9bb8"/><stop offset="0.6882" stop-color="#fa9ab7"/><stop offset="0.7352" stop-color="#fa99b7"/><stop offset="0.7754" stop-color="#fa98b6"/><stop offset="0.8090" stop-color="#fa97b6"/><stop offset="0.8358" stop-color="#fa96b5"/><stop offset="0.8573" stop-color="#fa94b3"/><stop offset="0.8748" stop-color="#fa91b1"/><stop offset="0.8895" stop-color="#fa8cae"/><stop offset="0.9016" stop-color="#f987aa"/><stop offset="0.9110" stop-color="#f981a6"/><stop offset="0.9191" stop-color="#f97aa1"/><stop offset="0.9258" stop-color="#f8739c"/><stop offset="0.9311" stop-color="#f86c97"/><stop offset="0.9352" stop-color="#f86592"/><stop offset="0.9385" stop-color="#f75f8e"/><stop offset="0.9412" stop-color="#f7598a"/><stop offset="0.9436" stop-color="#f75486"/><stop offset="0.9455" stop-color="#f7608e"/><stop offset="0.9468" stop-color="#f86994"/><stop offset="0.9482" stop-color="#f8719b"/><stop offset="0.9495" stop-color="#f97aa1"/><stop offset="0.9509" stop-color="#f983a7"/><stop offset="0.9522" stop-color="#f98bad"/><stop offset="0.9536" stop-color="#fa94b3"/><stop offset="0.9549" stop-color="#fa9db9"/><stop offset="0.9559" stop-color="#fba3be"/><stop offset="1.0000" stop-color="#fba3be"/></linearGradient>
<linearGradient id="g60"><stop offset="0.0000" stop-color="#fba8c1"/><stop offset="0.1244" stop-color="#fba6c0"/><stop offset="0.2519" stop-color="#fba4be"/><stop offset="0.3660" stop-color="#fba1bd"/><stop offset="0.4667" stop-color="#fa9fbb"/><stop offset="0.5540" stop-color="#fa9dba"/><stop offset="0.6278" stop-color="#fa9bb8"/><stop offset="0.6882" stop-color="#fa9ab8"/><stop offset="0.7352" stop-color="#fa99b7"/><stop offset="0.7754" stop-color="#fa98b6"/><stop offset="0.8090" stop-color="#fa97b6"/><stop offset="0.8358" stop-color="#fa96b5"/><stop offset="0.8573" stop-color="#fa93b3"/><stop offset="0.8748" stop-color="#fa90b0"/><stop offset="0.8895" stop-color="#f98cad"/><stop offset="0.9016" stop-color="#f986a9"/><stop offset="0.9110" stop-color="#f981a5"/><stop offset="0.9191" stop-color="#f97aa1"/><stop offset="0.9258" stop-color="#f8749c"/><stop offset="0.9311" stop-color="#f86d98"/><stop offset="0.9352" stop-color="#f86894"/><stop offset="0.9385" stop-color="#f86290"/><stop offset="0.9412" stop-color="#f75e8d"/><stop offset="0.9436" stop-color="#f7598a"/><stop offset="0.9455" stop-color="#f86592"/><stop offset="0.9468" stop-color="#f86d97"/><stop offset="0.9482" stop-color="#f8759d"/><stop offset="0.9495" stop-color="#f97da3"/><stop offset="0.9509" stop-color="#f985a9"/><stop offset="0.9522" stop-color="#fa8dae"/><stop offset="0.9536" stop-color="#fa95b4"/><stop offset="0.9549" stop-color="#fa9dba"/><stop offset="0.9559" stop-color="#fba3be"/><stop offset="1.0000" stop-color="#fba3be"/></linearGradient>
<linearGradient id="g61"><stop offset="0.0000" stop-color="#fba8c1"/><stop offset="0.1244" stop-color="#fba6c0"/><stop offset="0.2519" stop-color="#fba4be"/><stop offset="0.3660" stop-color="#fba2bd"/><stop offset="0.4667" stop-color="#fa9fbb"/><stop offset="0.5540" stop-color="#fa9dba"/><stop offset="0.6278" stop-color="#fa9cb9"/><stop offset="0.6882" stop-color="#fa9bb8"/><stop offset="0.7352" stop-color="#fa9ab7"/><stop offset="0.7754" stop-color="#fa99b7"/><stop offset="0.8090" stop-color="#fa98b6"/><stop offset="0.8358" stop-color="#fa96b5"/><stop offset="0.8573" stop-color="#fa93b3"/><stop offset="0.8748" stop-color="#fa90b0"/><stop offset="0.8895" stop-color="#f98cad"/><stop offset="0.9016" stop-color="#f987aa"/><stop offset="0.9110" stop-color="#f982a6"/><stop offset="0.9191" stop-color="#f97ca2"/><stop offset="0.9258" stop-color="#f8779e"/><stop offset="0.9311" stop-color="#f8719b"/><stop offset="0.9352" stop-color="#f86d98"/><stop offset="0.9385" stop-color="#f86995"/><stop offset="0.9412" stop-color="#f86693"/><stop offset="0.9436" stop-color="#f86491"/><stop offset="0.9455" stop-color="#f86d98"/><stop offset="0.9468" stop-color="#f8749d"/><stop offset="0.9482" stop-color="#f97ba2"/><stop offset="0.9495" stop-color="#f982a6"/><stop offset="0.9509" stop-color="#f989ab"/><stop offset="0.9522" stop-color="#fa90b0"/><stop offset="0.9536" stop-color="#fa97b5"/><stop offset="0.9549" stop-color="#fa9eba"/><stop offset="0.9559" stop-color="#fba3be"/><stop offset="1.0000" stop-color="#fba3be"/></linearGradient>
<linearGradient id="g62"><stop offset="0.0000" stop-color="#fba8c1"/><stop offset="0.1244" stop-color="#fba6c0"/><stop offset="0.2519" stop-color="#fba4be"/><stop offset="0.3660" stop-color="#fba2bd"/><stop offset="0.4667" stop-color="#faa0bb"/><stop offset="0.5540" stop-color="#fa9eba"/><stop offset="0.6278" stop-color="#fa9cb9"/><stop offset="0.6882" stop-color="#fa9bb8"/><stop offset="0.7352" stop-color="#fa9ab8"/><stop offset="0.7754" stop-color="#fa99b7"/><stop offset="0.8090" stop-color="#fa98b6"/><stop offset="0.8358" stop-color="#fa96b5"/><stop offset="0.8573" stop-color="#fa94b3"/><stop offset="0.8748" stop-color="#fa91b1"/><stop offset="0.8895" stop-color="#fa8dae"/><stop offset="0.9016" stop-color="#f988ab"/><stop offset="0.9110" stop-color="#f984a8"/><stop offset="0.9191" stop-color="#f980a5"/><stop offset="0.9258" stop-color="#f97ba2"/><stop offset="0.9311" stop-color="#f9789f"/><stop offset="0.9352" stop-color="#f8759d"/><stop offset="0.9385" stop-color="#f8739c"/><stop offset="0.9412" stop-color="#f8719b"/><stop offset="0.9436" stop-color="#f8709a"/><stop offset="0.9455" stop-color="#f9789f"/><stop offset="0.9468" stop-color="#f97da3"/><stop offset="0.9482" stop-color="#f983a7"/><stop offset="0.9495" stop-color="#f989ab"/><stop offset="0.9509" stop-color="#fa8eaf"/><stop offset="0.9522" stop-color="#fa94b3"/><stop offset="0.9536" stop-color="#fa99b7"/><stop offset="0.9549" stop-color="#fa9fbb"/><stop offset="0.9559" stop-color="#fba3bd"/><stop offset="1.0000" stop-color="#fba3bd"/></linearGradient>
<linearGradient id="g63"><stop offset="0.0000" stop-color="#fba8c1"/><stop offset="0.1244" stop-color="#fba6c0"/><stop offset="0.2519" stop-color="#fba4be"/><stop offset="0.3660" stop-color="#fba2bd"/><stop offset="0.4667" stop-color="#faa0bc"/><stop offset="0.5540" stop-color="#fa9eba"/><stop offset="0.6278" stop-color="#fa9db9"/><stop offset="0.6882" stop-color="#fa9cb9"/><stop offset="0.7352" stop-color="#fa9bb8"/><stop offset="0.7754" stop-color="#fa9ab7"/><stop offset="0.8090" stop-color="#fa98b6"/><stop offset="0.8358" stop-color="#fa97b5"/><stop offset="0.8573" stop-color="#fa94b3"/><stop offset="0.8748" stop-color="#fa92b2"/><stop offset="0.8895" stop-color="#fa8eaf"/><stop offset="0.9016" stop-color="#f98bad"/><stop offset="0.9110" stop-color="#f988aa"/><stop offset="0.9191" stop-color="#f985a8"/><stop offset="0.9258" stop-color="#f982a6"/><stop offset="0.9311" stop-color="#f980a5"/><stop offset="0.9352" stop-color="#f97fa4"/><stop offset="0.9385" stop-color="#f97ea4"/><stop offset="0.9412" stop-color="#f97ea3"/><stop offset="0.9436" stop-color="#f97ea3"/><stop offset="0.9455" stop-color="#f983a7"/><stop offset="0.9468" stop-color="#f987aa"/><stop offset="0.9482" stop-color="#f98bad"/><stop offset="0.9495" stop-color="#fa8fb0"/><stop offset="0.9509" stop-color="#fa94b3"/><stop offset="0.9522" stop-color="#fa98b6"/><stop offset="0.9536" stop-color="#fa9cb9"/><stop offset="0.9549" stop-color="#faa0bb"/><stop offset="0.9559" stop-color="#fba2bd"/><stop offset="1.0000" stop-color="#fba2bd"/></linearGradient>
<linearGradient id="g64"><stop offset="0.0000" stop-color="#fba8c1"/><stop offset="0.1244" stop-color="#fba6c0"/><stop offset="0.2519" stop-color="#fba4bf"/><stop offset="0.3660" stop-color="#fba2bd"/><stop offset="0.4667" stop-color="#faa0bc"/><stop offset="0.5540" stop-color="#fa9fbb"/><stop offset="0.6278" stop-color="#fa9dba"/><stop offset="0.6882" stop-color="#fa9cb9"/><stop offset="0.7352" stop-color="#fa9bb8"/><stop offset="0.7754" stop-color="#fa9ab7"/><stop offset="0.8090" stop-color="#fa99b7"/><stop offset="0.8358" stop-color="#fa97b5"/><stop offset="0.8573" stop-color="#fa95b4"/><stop offset="0.8748" stop-color="#fa93b2"/><stop offset="0.8895" stop-color="#fa90b1"/><stop offset="0.9016" stop-color="#fa8eaf"/><stop offset="0.9110" stop-color="#f98cad"/><stop offset="0.9191" stop-color="#f98aac"/><stop offset="0.9258" stop-color="#f989ab"/><stop offset="0.9352" stop-color="#f989ab"/><stop offset="0.9385" stop-color="#f989ac"/><stop offset="0.9412" stop-color="#f98aac"/><stop offset="0.9436" stop-color="#f98bad"/><stop offset="0.9455" stop-color="#fa8faf"/><stop offset="0.9468" stop-color="#fa91b1"/><stop offset="0.9482" stop-color="#fa94b3"/><stop offset="0.9495" stop-color="#fa96b5"/><stop offset="0.9509" stop-color="#fa99b7"/><stop offset="0.9522" stop-color="#fa9bb8"/><stop offset="0.9536" stop-color="#fa9eba"/><stop offset="0.9549" stop-color="#faa0bc"/><stop offset="0.9559" stop-color="#fba2bd"/><stop offset="1.0000" stop-color="#fba2bd"/></linearGradient>
<linearGradient id="g65"><stop offset="0.0000" stop-color="#fba8c1"/><stop offset="0.1244" stop-color="#fba6c0"/><stop offset="0.2519" stop-color="#fba4bf"/><stop offset="0.3660" stop-color="#fba2bd"/><stop offset="0.4667" stop-color="#faa1bc"/><stop offset="0.5540" stop-color="#fa9fbb"/><stop offset="0.6278" stop-color="#fa9eba"/><stop offset="0.6882" stop-color="#fa9db9"/><stop offset="0.7352" stop-color="#fa9cb9"/><stop offset="0.7754" stop-color="#fa9bb8"/><stop offset="0.8090" stop-color="#fa99b7"/><stop offset="0.8358" stop-color="#fa98b6"/><stop offset="0.8573" stop-color="#fa96b5"/><stop offset="0.8748" stop-color="#fa95b4"/><stop offset="0.8895" stop-color="#fa93b2"/><stop offset="0.9016" stop-color="#fa92b1"/><stop offset="0.9110" stop-color="#fa91b1"/><stop offset="0.9191" stop-color="#fa90b1"/><stop offset="0.9258" stop-color="#fa91b1"/><stop offset="0.9311" stop-color="#fa91b1"/><stop offset="0.9352" stop-color="#fa93b2"/><stop offset="0.9385" stop-color="#fa94b3"/><stop offset="0.9412" stop-color="#fa96b4"/><stop offset="0.9436" stop-color="#fa97b6"/><stop offset="0.9455" stop-color="#fa99b7"/><stop offset="0.9468" stop-color="#fa9ab8"/><stop offset="0.9482" stop-color="#fa9bb8"/><stop offset="0.9495" stop-color="#fa9db9"/><stop offset="0.9509" stop-color="#fa9eba"/><stop offset="0.9522" stop-color="#fa9fbb"/><stop offset="0.9536" stop-color="#faa0bc"/><stop offset="0.9549" stop-color="#fba1bd"/><stop offset="0.9559" stop-color="#fba2bd"/><stop offset="1.0000" stop-color="#fba2bd"/></linearGradient>
<linearGradient id="g66"><stop offset="0.0000" stop-color="#fba8c1"/><stop offset="0.1244" stop-color="#fba6c0"/><stop offset="0.2519" stop-color="#fba4bf"/><stop offset="0.3660" stop-color="#fba3be"/><stop offset="0.4667" stop-color="#fba1bc"/><stop offset="0.5540" stop-color="#faa0bb"/><stop offset="0.6278" stop-color="#fa9ebb"/><stop offset="0.6882" stop-color="#fa9dba"/><stop offset="0.7352" stop-color="#fa9cb9"/><stop offset="0.7754" stop-color="#fa9bb8"/><stop offset="0.8090" stop-color="#fa9ab7"/><stop offset="0.8358" stop-color="#fa99b6"/><stop offset="0.8573" stop-color="#fa97b6"/><stop offset="0.8748" stop-color="#fa96b5"/><stop offset="0.8895" stop-color="#fa96b4"/><stop offset="0.9016" stop-color="#fa95b4"/><stop offset="0.9110" stop-color="#fa96b4"/><stop offset="0.9191" stop-color="#fa96b5"/><stop offset="0.9258" stop-color="#fa98b6"/><stop offset="0.9311" stop-color="#fa9ab7"/><stop offset="0.9352" stop-color="#fa9cb9"/><stop offset="0.9385" stop-color="#fa9eba"/><stop offset="0.9412" stop-color="#faa0bc"/><stop offset="0.9436" stop-color="#fba2bd"/><stop offset="1.0000" stop-color="#fba2bd"/></linearGradient>
<linearGradient id="g67"><stop offset="0.0000" stop-color="#fba8c1"/><stop offset="0.1244" stop-color="#fba6c0"/><stop offset="0.2519" stop-color="#fba4bf"/><stop offset="0.3660" stop-color="#fba3be"/><stop offset="0.4667" stop-color="#fba1bd"/><stop offset="0.5540" stop-color="#faa0bc"/><stop offset="0.6278" stop-color="#fa9fbb"/><stop offset="0.6882" stop-color="#fa9eba"/><stop offset="0.7352" stop-color="#fa9db9"/><stop offset="0.7754" stop-color="#fa9cb9"/><stop offset="0.8090" stop-color="#fa9bb8"/><stop offset="0.8358" stop-color="#fa9ab7"/><stop offset="0.8573" stop-color="#fa99b7"/><stop offset="0.8748" stop-color="#fa98b6"/><stop offset="0.8895" stop-color="#fa99b6"/><stop offset="0.9016" stop-color="#fa99b7"/><stop offset="0.9110" stop-color="#fa9ab8"/><stop offset="0.9191" stop-color="#fa9cb9"/><stop offset="0.9258" stop-color="#fa9fbb"/><stop offset="0.9311" stop-color="#fba1bc"/><stop offset="0.9352" stop-color="#fba4be"/><stop offset="0.9385" stop-color="#fba6c0"/><stop offset="0.9412" stop-color="#fba8c1"/><stop offset="0.9436" stop-color="#fbaac3"/><stop offset="0.9455" stop-color="#fba9c2"/><stop offset="0.9468" stop-color="#fba8c1"/><stop offset="0.9482" stop-color="#fba7c1"/><stop offset="0.9495" stop-color="#fba6c0"/><stop offset="0.9509" stop-color="#fba5bf"/><stop offset="0.9522" stop-color="#fba4bf"/><stop offset="0.9536" stop-color="#fba3be"/><stop offset="0.9549" stop-color="#fba2bd"/><stop offset="1.0000" stop-color="#fba2bd"/></linearGradient>
<linearGradient id="g68"><stop offset="0.0000" stop-color="#fba8c1"/><stop offset="0.1244" stop-color="#fba6c0"/><stop offset="0.2519" stop-color="#fba5bf"/><stop offset="0.3660" stop-color="#fba3be"/><stop offset="0.4667" stop-color="#fba2bd"/><stop offset="0.5540" stop-color="#faa1bc"/><stop offset="0.6278" stop-color="#faa0bb"/><stop offset="0.6882" stop-color="#fa9fbb"/><stop offset="0.7352" stop-color="#fa9eba"/><stop offset="0.7754" stop-color="#fa9cb9"/><stop offset="0.8090" stop-color="#fa9bb8"/><stop offset="0.8358" stop-color="#fa9ab8"/><stop offset="0.8748" stop-color="#fa9ab8"/><stop offset="0.8895" stop-color="#fa9bb8"/><stop offset="0.9016" stop-color="#fa9db9"/><stop offset="0.9110" stop-color="#fa9fbb"/><stop offset="0.9191" stop-color="#fba1bd"/><stop offset="0.9258" stop-color="#fba4bf"/><stop offset="0.9311" stop-color="#fba7c1"/><stop offset="0.9352" stop-color="#fbaac3"/><stop offset="0.9385" stop-color="#fbacc4"/><stop offset="0.9412" stop-color="#fbaec6"/><stop offset="0.9436" stop-color="#fbb0c7"/><stop offset="0.9455" stop-color="#fbaec6"/><stop offset="0.9468" stop-color="#fbacc5"/><stop offset="0.9482" stop-color="#fbabc3"/><stop offset="0.9495" stop-color="#fba9c2"/><stop offset="0.9509" stop-color="#fba8c1"/><stop offset="0.9522" stop-color="#fba6c0"/><stop offset="0.9536" stop-color="#fba4bf"/><stop offset="0.9549" stop-color="#fba3be"/><stop offset="0.9559" stop-color="#fba1bd"/><stop offset="1.0000" stop-color="#fba1bd"/></linearGradient>
<linearGradient id="g69"><stop offset="0.0000" stop-color="#fba8c1"/><stop offset="0.1244" stop-color="#fba6c0"/><stop offset="0.2519" stop-color="#fba5bf"/><stop offset="0.3660" stop-color="#fba3be"/><stop offset="0.4667" stop-color="#fba2bd"/><stop offset="0.5540" stop-color="#fba1bc"/><stop offset="0.6278" stop-color="#faa0bc"/><stop offset="0.6882" stop-color="#fa9fbb"/><stop offset="0.7352" stop-color="#fa9eba"/><stop offset="0.7754" stop-color="#fa9dba"/><stop offset="0.8090" stop-color="#fa9cb9"/><stop offset="0.8358" stop-color="#fa9bb8"/><stop offset="0.8573" stop-color="#fa9bb8"/><stop offset="0.8748" stop-color="#fa9cb9"/><stop offset="0.8895" stop-color="#fa9eba"/><stop offset="0.9016" stop-color="#faa0bc"/><stop offset="0.9110" stop-color="#fba3bd"/><stop offset="0.9191" stop-color="#fba6c0"/><stop offset="0.9258" stop-color="#fba9c2"/><stop offset="0.9311" stop-color="#fbacc4"/><stop offset="0.9352" stop-color="#fbaec6"/><stop offset="0.9385" stop-color="#fbb1c7"/><stop offset="0.9412" stop-color="#fbb3c9"/><stop offset="0.9436" stop-color="#fbb4ca"/><stop offset="0.9455" stop-color="#fbb1c8"/><stop offset="0.9468" stop-color="#fbafc7"/><stop offset="0.9482" stop-color="#fbadc5"/><stop offset="0.9495" stop-color="#fbabc4"/><stop offset="0.9509" stop-color="#fba9c2"/><stop offset="0.9522" stop-color="#fba7c1"/><stop offset="0.9536" stop-color="#fba5bf"/><stop offset="0.9549" stop-color="#fba3be"/><stop offset="0.9559" stop-color="#fba1bc"/><stop offset="1.0000" stop-color="#fba1bc"/></linearGradient>
<linearGradient id="g70"><stop offset="0.0000" stop-color="#fba8c1"/><stop offset="0.1244" stop-color="#fba6c0"/><stop offset="0.2519" stop-color="#fba5bf"/><stop offset="0.3660" stop-color="#fba3be"/><stop offset="0.4667" stop-color="#fba2bd"/><stop offset="0.5540" stop-color="#fba2bd"/><stop offset="0.6278" stop-color="#faa1bc"/><stop offset="0.6882" stop-color="#faa0bc"/><stop offset="0.7352" stop-color="#fa9fbb"/><stop offset="0.7754" stop-color="#fa9eba"/><stop offset="0.8090" stop-color="#fa9db9"/><stop offset="0.8358" stop-color="#fa9cb9"/><stop offset="0.8573" stop-color="#fa9db9"/><stop offset="0.8748" stop-color="#fa9eba"/><stop offset="0.8895" stop-color="#faa0bb"/><stop offset="0.9016" stop-color="#fba2bd"/><stop offset="0.9110" stop-color="#fba6c0"/><stop offset="0.9191" stop-color="#fba9c2"/><stop offset="0.9258" stop-color="#fbacc4"/><stop offset="0.9311" stop-color="#fbafc6"/><stop offset="0.9352" stop-color="#fbb1c8"/><stop offset="0.9385" stop-color="#fbb3c9"/><stop offset="0.9412" stop-color="#fbb5cb"/><stop offset="0.9436" stop-color="#fcb7cc"/><stop offset="0.9455" stop-color="#fbb3c9"/><stop offset="0.9468" stop-color="#fbb1c8"/><stop offset="0.9482" stop-color="#fbaec6"/><stop offset="0.9495" stop-color="#fbacc4"/><stop offset="0.9509" stop-color="#fbaac3"/><stop offset="0.9522" stop-color="#fba7c1"/><stop offset="0.9536" stop-color="#fba5bf"/><stop offset="0.9549" stop-color="#fba2bd"/><stop offset="0.9559" stop-color="#faa1bc"/><stop offset="1.0000" stop-color="#faa1bc"/></linearGradient>
<linearGradient id="g71"><stop offset="0.0000" stop-color="#fba8c1"/><stop offset="0.1244" stop-color="#fba6c0"/><stop offset="0.2519" stop-color="#fba5bf"/><stop offset="0.3660" stop-color="#fba4be"/><stop offset="0.4667" stop-color="#fba3be"/><stop offset="0.5540" stop-color="#fba2bd"/><stop offset="0.6278" stop-color="#fba1bd"/><stop offset="0.6882" stop-color="#faa0bc"/><stop offset="0.7352" stop-color="#fa9fbb"/><stop offset="0.7754" stop-color="#fa9ebb"/><stop offset="0.8090" stop-color="#fa9eba"/><stop offset="0.8358" stop-color="#fa9dba"/><stop offset="0.8573" stop-color="#fa9eba"/><stop offset="0.8748" stop-color="#fa9fbb"/><stop offset="0.8895" stop-color="#fba1bd"/><stop offset="0.9016" stop-color="#fba4bf"/><stop offset="0.9110" stop-color="#fba8c1"/><stop offset="0.9191" stop-color="#fbabc4"/><stop offset="0.9258" stop-color="#fbaec6"/><stop offset="0.9311" stop-color="#fbb1c8"/><stop offset="0.9352" stop-color="#fbb3c9"/><stop offset="0.9385" stop-color="#fbb5ca"/><stop offset="0.9412" stop-color="#fcb6cb"/><stop offset="0.9436" stop-color="#fcb7cc"/><stop offset="0.9455" stop-color="#fbb4ca"/><stop offset="0.9468" stop-color="#fbb1c8"/><stop offset="0.9482" stop-color="#fbafc6"/><stop offset="0.9495" stop-color="#fbacc4"/><stop offset="0.9509" stop-color="#fbaac3"/><stop offset="0.9522" stop-color="#fba7c1"/><stop offset="0.9536" stop-color="#fba5bf"/><stop offset="0.9549" stop-color="#fba2bd"/><stop offset="0.9559" stop-color="#faa0bc"/><stop offset="1.0000" stop-color="#faa0bc"/></linearGradient>
<linearGradient id="g72"><stop offset="0.0000" stop-color="#fba8c1"/><stop offset="0.1244" stop-color="#fba6c0"/><stop offset="0.2519" stop-color="#fba5bf"/><stop offset="0.3660" stop-color="#fba4be"/><stop offset="0.4667" stop-color="#fba3be"/><stop offset="0.5540" stop-color="#fba2bd"/><stop offset="0.6278" stop-color="#fba2bd"/><stop offset="0.6882" stop-color="#fba1bc"/><stop offset="0.7352" stop-color="#faa0bc"/><stop offset="0.7754" stop-color="#fa9fbb"/><stop offset="0.8090" stop-color="#fa9eba"/><stop offset="0.8358" stop-color="#fa9eba"/><stop offset="0.8573" stop-color="#fa9fbb"/><stop offset="0.8748" stop-color="#faa0bc"/><stop offset="0.8895" stop-color="#fba3be"/><stop offset="0.9016" stop-color="#fba6c0"/><stop offset="0.9110" stop-color="#fba9c2"/><stop offset="0.9191" stop-color="#fbacc4"/><stop offset="0.9258" stop-color="#fbafc7"/><stop offset="0.9311" stop-color="#fbb2c8"/><stop offset="0.9352" stop-color="#fbb4c9"/><stop offset="0.9385" stop-color="#fbb5ca"/><stop offset="0.9412" stop-color="#fcb6cb"/><stop offset="0.9436" stop-color="#fcb7cc"/><stop offset="0.9455" stop-color="#fbb3c9"/><stop offset="0.9468" stop-color="#fbb1c7"/><stop offset="0.9482" stop-color="#fbaec6"/><stop offset="0.9495" stop-color="#fbacc4"/><stop offset="0.9509" stop-color="#fba9c2"/><stop offset="0.9522" stop-color="#fba7c0"/><stop offset="0.9536" stop-color="#fba4bf"/><stop offset="0.9549" stop-color="#fba2bd"/><stop offset="0.9559" stop-color="#faa0bc"/><stop offset="1.0000" stop-color="#faa0bc"/></linearGradient>
<linearGradient id="g73"><stop offset="0.0000" stop-color="#fba7c1"/><stop offset="0.1244" stop-color="#fba6c0"/><stop offset="0.2519" stop-color="#fba5bf"/><stop offset="0.3660" stop-color="#fba4be"/><stop offset="0.4667" stop-color="#fba3be"/><stop offset="0.5540" stop-color="#fba3be"/><stop offset="0.6278" stop-color="#fba2bd"/><stop offset="0.6882" stop-color="#fba2bd"/><stop offset="0.7352" stop-color="#faa1bc"/><stop offset="0.7754" stop-color="#faa0bc"/><stop offset="0.8090" stop-color="#fa9fbb"/><stop offset="0.8573" stop-color="#fa9fbb"/><stop offset="0.8748" stop-color="#fba1bc"/><stop offset="0.8895" stop-color="#fba3be"/><stop offset="0.9016" stop-color="#fba6c0"/><stop offset="0.9110" stop-color="#fbaac2"/><stop offset="0.9191" stop-color="#fbadc5"/><stop offset="0.9258" stop-color="#fbafc7"/><stop offset="0.9311" stop-color="#fbb1c8"/><stop offset="0.9352" stop-color="#fbb3c9"/><stop offset="0.9385" stop-color="#fbb4ca"/><stop offset="0.9412" stop-color="#fbb5ca"/><stop offset="0.9436" stop-color="#fbb5cb"/><stop offset="0.9455" stop-color="#fbb2c8"/><stop offset="0.9468" stop-color="#fbb0c7"/><stop offset="0.9482" stop-color="#fbadc5"/><stop offset="0.9495" stop-color="#fbabc3"/><stop offset="0.9509" stop-color="#fba8c2"/><stop offset="0.9522" stop-color="#fba6c0"/><stop offset="0.9536" stop-color="#fba4be"/><stop offset="0.9549" stop-color="#fba1bd"/><stop offset="0.9559" stop-color="#faa0bb"/><stop offset="1.0000" stop-color="#faa0bb"/></linearGradient>
<linearGradient id="g74"><stop offset="0.0000" stop-color="#fba7c1"/><stop offset="0.1244" stop-color="#fba6c0"/><stop offset="0.2519" stop-color="#fba5bf"/><stop offset="0.3660" stop-color="#fba4bf"/><stop offset="0.4667" stop-color="#fba3be"/><stop offset="0.6278" stop-color="#fba3be"/><stop offset="0.6882" stop-color="#fba2bd"/><stop offset="0.7352" stop-color="#fba1bd"/><stop offset="0.7754" stop-color="#faa1bc"/><stop offset="0.8090" stop-color="#faa0bc"/><stop offset="0.8358" stop-color="#faa0bb"/><stop offset="0.8573" stop-color="#faa0bc"/><stop offset="0.8748" stop-color="#fba2bd"/><stop offset="0.8895" stop-color="#fba4be"/><stop offset="0.9016" stop-color="#fba6c0"/><stop offset="0.9110" stop-color="#fba9c2"/><stop offset="0.9191" stop-color="#fbacc4"/><stop offset="0.9258" stop-color="#fbaec6"/><stop offset="0.9311" stop-color="#fbb0c7"/><stop offset="0.9352" stop-color="#fbb2c8"/><stop offset="0.9385" stop-color="#fbb3c9"/><stop offset="0.9412" stop-color="#fbb3c9"/><stop offset="0.9436" stop-color="#fbb4ca"/><stop offset="0.9455" stop-color="#fbb0c7"/><stop offset="0.9468" stop-color="#fbaec6"/><stop offset="0.9482" stop-color="#fbacc4"/><stop offset="0.9495" stop-color="#fbaac3"/><stop offset="0.9509" stop-color="#fba7c1"/><stop offset="0.9522" stop-color="#fba5bf"/><stop offset="0.9536" stop-color="#fba3be"/><stop offset="0.9549" stop-color="#faa1bc"/><stop offset="0.9559" stop-color="#fa9fbb"/><stop offset="1.0000" stop-color="#fa9fbb"/></linearGradient>
<linearGradient id="g75"><stop offset="0.0000" stop-color="#fba7c1"/><stop offset="0.1244" stop-color="#fba6c0"/><stop offset="0.2519" stop-color="#fba5bf"/><stop offset="0.3660" stop-color="#fba4bf"/><stop offset="0.4667" stop-color="#fba4be"/><stop offset="0.5540" stop-color="#fba3be"/><stop offset="0.6882" stop-color="#fba3be"/><stop offset="0.7352" stop-color="#fba2bd"/><stop offset="0.7754" stop-color="#fba1bd"/><stop offset="0.8090" stop-color="#faa1bc"/><stop offset="0.8358" stop-color="#faa0bc"/><stop offset="0.8573" stop-color="#faa1bc"/><stop offset="0.8748" stop-color="#fba2bd"/><stop offset="0.8895" stop-color="#fba4be"/><stop offset="0.9016" stop-color="#fba6c0"/><stop offset="0.9110" stop-color="#fba8c1"/><stop offset="0.9191" stop-color="#fbabc3"/><stop offset="0.9258" stop-color="#fbadc5"/><stop offset="0.9311" stop-color="#fbaec6"/><stop offset="0.9352" stop-color="#fbb0c7"/><stop offset="0.9385" stop-color="#fbb0c7"/><stop offset="0.9412" stop-color="#fbb1c8"/><stop offset="0.9436" stop-color="#fbb1c8"/><stop offset="0.9455" stop-color="#fbaec6"/><stop offset="0.9468" stop-color="#fbacc4"/><stop offset="0.9482" stop-color="#fbaac3"/><stop offset="0.9495" stop-color="#fba8c2"/><stop offset="0.9509" stop-color="#fba6c0"/><stop offset="0.9522" stop-color="#fba4bf"/><stop offset="0.9536" stop-color="#fba2bd"/><stop offset="0.9549" stop-color="#faa0bc"/><stop offset="0.9559" stop-color="#fa9fbb"/><stop offset="1.0000" stop-color="#fa9fbb"/></linearGradient>
<linearGradient id="g76"><stop offset="0.0000" stop-color="#fba7c1"/><stop offset="0.1244" stop-color="#fba6c0"/><stop offset="0.2519" stop-color="#fba5bf"/><stop offset="0.3660" stop-color="#fba4bf"/><stop offset="0.4667" stop-color="#fba4be"/><stop offset="0.6278" stop-color="#fba4be"/><stop offset="0.6882" stop-color="#fba3be"/><stop offset="0.7352" stop-color="#fba3be"/><stop offset="0.7754" stop-color="#fba2bd"/><stop offset="0.8090" stop-color="#fba1bd"/><stop offset="0.8358" stop-color="#fba1bc"/><stop offset="0.8573" stop-color="#fba1bd"/><stop offset="0.8748" stop-color="#fba2bd"/><stop offset="0.8895" stop-color="#fba3be"/><stop offset="0.9016" stop-color="#fba5bf"/><stop offset="0.9110" stop-color="#fba7c0"/><stop offset="0.9191" stop-color="#fba8c2"/><stop offset="0.9258" stop-color="#fbaac3"/><stop offset="0.9311" stop-color="#fbacc4"/><stop offset="0.9352" stop-color="#fbadc5"/><stop offset="0.9385" stop-color="#fbaec5"/><stop offset="0.9412" stop-color="#fbaec6"/><stop offset="0.9436" stop-color="#fbafc6"/><stop offset="0.9455" stop-color="#fbacc4"/><stop offset="0.9468" stop-color="#fbaac3"/><stop offset="0.9482" stop-color="#fba9c2"/><stop offset="0.9495" stop-color="#fba7c0"/><stop offset="0.9509" stop-color="#fba5bf"/><stop offset="0.9522" stop-color="#fba3be"/><stop offset="0.9536" stop-color="#fba1bd"/><stop offset="0.9549" stop-color="#fa9fbb"/><stop offset="0.9559" stop-color="#fa9eba"/><stop offset="1.0000" stop-color="#fa9eba"/></linearGradient>
<linearGradient id="g77"><stop offset="0.0000" stop-color="#fba7c1"/><stop offset="0.1244" stop-color="#fba6c0"/><stop offset="0.2519" stop-color="#fba5bf"/><stop offset="0.3660" stop-color="#fba4bf"/><stop offset="0.6882" stop-color="#fba4bf"/><stop offset="0.7352" stop-color="#fba4be"/><stop offset="0.7754" stop-color="#fba3be"/><stop offset="0.8090" stop-color="#fba2bd"/><stop offset="0.8748" stop-color="#fba2bd"/><stop offset="0.8895" stop-color="#fba3be"/><stop offset="0.9016" stop-color="#fba4be"/><stop offset="0.9110" stop-color="#fba5bf"/><stop offset="0.9191" stop-color="#fba6c0"/><stop offset="0.9258" stop-color="#fba7c1"/><stop offset="0.9311" stop-color="#fba8c2"/><stop offset="0.9352" stop-color="#fba9c2"/><stop offset="0.9385" stop-color="#fbaac3"/><stop offset="0.9412" stop-color="#fbabc4"/><stop offset="0.9436" stop-color="#fbacc4"/><stop offset="0.9455" stop-color="#fbaac3"/><stop offset="0.9468" stop-color="#fba8c2"/><stop offset="0.9482" stop-color="#fba7c0"/><stop offset="0.9495" stop-color="#fba5bf"/><stop offset="0.9509" stop-color="#fba4be"/><stop offset="0.9522" stop-color="#fba2bd"/><stop offset="0.9536" stop-color="#faa0bc"/><stop offset="0.9549" stop-color="#fa9fbb"/><stop offset="0.9559" stop-color="#fa9eba"/><stop offset="1.0000" stop-color="#fa9eba"/></linearGradient>
<linearGradient id="g78"><stop offset="0.0000" stop-color="#fba7c1"/><stop offset="0.1244" stop-color="#fba6c0"/><stop offset="0.2519" stop-color="#fba5bf"/><stop offset="0.3660" stop-color="#fba5bf"/><stop offset="0.4667" stop-color="#fba4bf"/><stop offset="0.5540" stop-color="#fba5bf"/><stop offset="0.6882" stop-color="#fba5bf"/><stop offset="0.7352" stop-color="#fba4bf"/><stop offset="0.7754" stop-color="#fba4be"/><stop offset="0.8090" stop-color="#fba3be"/><stop offset="0.8358" stop-color="#fba3be"/><stop offset="0.8573" stop-color="#fba2bd"/><stop offset="0.9110" stop-color="#fba2bd"/><stop offset="0.9191" stop-color="#fba3be"/><stop offset="0.9258" stop-color="#fba3be"/><stop offset="0.9311" stop-color="#fba4bf"/><stop offset="0.9352" stop-color="#fba5c0"/><stop offset="0.9385" stop-color="#fba6c0"/><stop offset="0.9412" stop-color="#fba7c1"/><stop offset="0.9436" stop-color="#fba8c2"/><stop offset="0.9455" stop-color="#fba7c0"/><stop offset="0.9468" stop-color="#fba5c0"/><stop offset="0.9482" stop-color="#fba4bf"/><stop offset="0.9495" stop-color="#fba3be"/><stop offset="0.9509" stop-color="#fba2bd"/><stop offset="0.9522" stop-color="#faa1bc"/><stop offset="0.9536" stop-color="#fa9fbb"/><stop offset="0.9549" stop-color="#fa9eba"/><stop offset="0.9559" stop-color="#fa9dba"/><stop offset="1.0000" stop-color="#fa9dba"/></linearGradient>
<linearGradient id="g79"><stop offset="0.0000" stop-color="#fba7c1"/><stop offset="0.1244" stop-color="#fba6c0"/><stop offset="0.2519" stop-color="#fba5bf"/><stop offset="0.7754" stop-color="#fba5bf"/><stop offset="0.8090" stop-color="#fba4bf"/><stop offset="0.8358" stop-color="#fba3be"/><stop offset="0.8573" stop-color="#fba3be"/><stop offset="0.8748" stop-color="#fba2bd"/><stop offset="0.8895" stop-color="#fba1bc"/><stop offset="0.9016" stop-color="#faa0bc"/><stop offset="0.9110" stop-color="#faa0bc"/><stop offset="0.9191" stop-color="#faa0bb"/><stop offset="0.9258" stop-color="#faa0bb"/><stop offset="0.9311" stop-color="#faa0bc"/><stop offset="0.9352" stop-color="#faa1bc"/><stop offset="0.9385" stop-color="#fba2bd"/><stop offset="0.9412" stop-color="#fba3be"/><stop offset="0.9436" stop-color="#fba4be"/><stop offset="0.9455" stop-color="#fba3be"/><stop offset="0.9468" stop-color="#fba2bd"/><stop offset="0.9482" stop-color="#fba1bd"/><stop offset="0.9495" stop-color="#faa0bc"/><stop offset="0.9509" stop-color="#faa0bb"/><stop offset="0.9522" stop-color="#fa9fbb"/><stop offset="0.9536" stop-color="#fa9eba"/><stop offset="0.9549" stop-color="#fa9dba"/><stop offset="0.9559" stop-color="#fa9db9"/><stop offset="1.0000" stop-color="#fa9db9"/></linearGradient>
<linearGradient id="g80"><stop offset="0.0000" stop-color="#fba7c1"/><stop offset="0.1244" stop-color="#fba6c0"/><stop offset="0.2519" stop-color="#fba5c0"/><stop offset="0.3660" stop-color="#fba5bf"/><stop offset="0.5540" stop-color="#fba5bf"/><stop offset="0.6278" stop-color="#fba6c0"/><stop offset="0.7754" stop-color="#fba6c0"/><stop offset="0.8090" stop-color="#fba5bf"/><stop offset="0.8358" stop-color="#fba4bf"/><stop offset="0.8573" stop-color="#fba3be"/><stop offset="0.8748" stop-color="#fba2bd"/><stop offset="0.8895" stop-color="#faa0bc"/><stop offset="0.9016" stop-color="#fa9fbb"/><stop offset="0.9110" stop-color="#fa9eba"/><stop offset="0.9191" stop-color="#fa9cb9"/><stop offset="0.9258" stop-color="#fa9cb9"/><stop offset="0.9311" stop-color="#fa9bb8"/><stop offset="0.9352" stop-color="#fa9cb9"/><stop offset="0.9385" stop-color="#fa9cb9"/><stop offset="0.9412" stop-color="#fa9dba"/><stop offset="0.9436" stop-color="#fa9eba"/><stop offset="0.9468" stop-color="#fa9eba"/><stop offset="0.9482" stop-color="#fa9dba"/><stop offset="0.9509" stop-color="#fa9dba"/><stop offset="0.9522" stop-color="#fa9db9"/><stop offset="0.9536" stop-color="#fa9db9"/><stop offset="0.9549" stop-color="#fa9cb9"/><stop offset="1.0000" stop-color="#fa9cb9"/></linearGradient>
<linearGradient id="g81"><stop offset="0.0000" stop-color="#fba7c1"/><stop offset="0.1244" stop-color="#fba6c0"/><stop offset="0.2519" stop-color="#fba6c0"/><stop offset="0.3660" stop-color="#fba5bf"/><stop offset="0.4667" stop-color="#fba5bf"/><stop offset="0.5540" stop-color="#fba6c0"/><stop offset="0.6278" stop-color="#fba6c0"/><stop offset="0.6882" stop-color="#fba7c0"/><stop offset="0.7352" stop-color="#fba7c1"/><stop offset="0.7754" stop-color="#fba7c1"/><stop offset="0.8090" stop-color="#fba6c0"/><stop offset="0.8358" stop-color="#fba5bf"/><stop offset="0.8573" stop-color="#fba4bf"/><stop offset="0.8748" stop-color="#fba2bd"/><stop offset="0.8895" stop-color="#faa0bc"/><stop offset="0.9016" stop-color="#fa9eba"/><stop offset="0.9110" stop-color="#fa9cb9"/><stop offset="0.9191" stop-color="#fa9ab7"/><stop offset="0.9258" stop-color="#fa98b6"/><stop offset="0.9311" stop-color="#fa97b5"/><stop offset="0.9352" stop-color="#fa96b5"/><stop offset="0.9385" stop-color="#fa96b5"/><stop offset="0.9412" stop-color="#fa97b5"/><stop offset="0.9436" stop-color="#fa97b5"/><stop offset="0.9455" stop-color="#fa98b6"/><stop offset="0.9468" stop-color="#fa98b6"/><stop offset="0.9482" stop-color="#fa99b7"/><stop offset="0.9495" stop-color="#fa99b7"/><stop offset="0.9509" stop-color="#fa9ab7"/><stop offset="0.9522" stop-color="#fa9ab8"/><stop offset="0.9536" stop-color="#fa9bb8"/><stop offset="0.9549" stop-color="#fa9cb8"/><stop offset="0.9559" stop-color="#fa9cb9"/><stop offset="1.0000" stop-color="#fa9cb9"/></linearGradient>
<linearGradient id="g82"><stop offset="0.0000" stop-color="#fba7c1"/><stop offset="0.1244" stop-color="#fba6c0"/><stop offset="0.2519" stop-color="#fba6c0"/><stop offset="0.3660" stop-color="#fba5c0"/><stop offset="0.4667" stop-color="#fba6c0"/><stop offset="0.5540" stop-color="#fba6c0"/><stop offset="0.6278" stop-color="#fba7c0"/><stop offset="0.6882" stop-color="#fba7c1"/><stop offset="0.7352" stop-color="#fba8c1"/><stop offset="0.7754" stop-color="#fba8c1"/><stop offset="0.8090" stop-color="#fba7c1"/><stop offset="0.8358" stop-color="#fba6c0"/><stop offset="0.8573" stop-color="#fba5bf"/><stop offset="0.8748" stop-color="#fba3be"/><stop offset="0.8895" stop-color="#faa0bc"/><stop offset="0.9016" stop-color="#fa9dba"/><stop offset="0.9110" stop-color="#fa9ab8"/><stop offset="0.9191" stop-color="#fa97b6"/><stop offset="0.9258" stop-color="#fa95b4"/><stop offset="0.9311" stop-color="#fa93b2"/><stop offset="0.9352" stop-color="#fa91b1"/><stop offset="0.9385" stop-color="#fa90b0"/><stop offset="0.9412" stop-color="#fa90b0"/><stop offset="0.9436" stop-color="#fa8fb0"/><stop offset="0.9455" stop-color="#fa91b1"/><stop offset="0.9468" stop-color="#fa93b2"/><stop offset="0.9482" stop-color="#fa94b3"/><stop offset="0.9495" stop-color="#fa95b4"/><stop offset="0.9509" stop-color="#fa97b5"/><stop offset="0.9522" stop-color="#fa98b6"/><stop offset="0.9536" stop-color="#fa99b7"/><stop offset="0.9549" stop-color="#fa9bb8"/><stop offset="1.0000" stop-color="#fa9bb8"/></linearGradient>
<linearGradient id="g83"><stop offset="0.0000" stop-color="#fba7c1"/><stop offset="0.1244" stop-color="#fba7c0"/><stop offset="0.2519" stop-color="#fba6c0"/><stop offset="0.5540" stop-color="#fba6c0"/><stop offset="0.6278" stop-color="#fba7c1"/><stop offset="0.6882" stop-color="#fba8c1"/><stop offset="0.7352" stop-color="#fba9c2"/><stop offset="0.8090" stop-color="#fba9c2"/><stop offset="0.8358" stop-color="#fba8c1"/><stop offset="0.8573" stop-color="#fba6c0"/><stop offset="0.8748" stop-color="#fba4be"/><stop offset="0.8895" stop-color="#faa1bc"/><stop offset="0.9016" stop-color="#fa9dba"/><stop offset="0.9110" stop-color="#fa9ab7"/><stop offset="0.9191" stop-color="#fa96b5"/><stop offset="0.9258" stop-color="#fa92b2"/><stop offset="0.9311" stop-color="#fa8fb0"/><stop offset="0.9352" stop-color="#fa8dae"/><stop offset="0.9385" stop-color="#f98bad"/><stop offset="0.9412" stop-color="#f989ab"/><stop offset="0.9436" stop-color="#f988aa"/><stop offset="0.9455" stop-color="#f98bad"/><stop offset="0.9468" stop-color="#fa8dae"/><stop offset="0.9482" stop-color="#fa8fb0"/><stop offset="0.9495" stop-color="#fa91b1"/><stop offset="0.9509" stop-color="#fa93b3"/><stop offset="0.9522" stop-color="#fa95b4"/><stop offset="0.9536" stop-color="#fa97b6"/><stop offset="0.9549" stop-color="#fa9ab7"/><stop offset="0.9559" stop-color="#fa9bb8"/><stop offset="1.0000" stop-color="#fa9bb8"/></linearGradient>
<linearGradient id="g84"><stop offset="0.0000" stop-color="#fba7c1"/><stop offset="0.1244" stop-color="#fba7c0"/><stop offset="0.2519" stop-color="#fba6c0"/><stop offset="0.4667" stop-color="#fba6c0"/><stop offset="0.5540" stop-color="#fba7c0"/><stop offset="0.6278" stop-color="#fba8c1"/><stop offset="0.6882" stop-color="#fba9c2"/><stop offset="0.7352" stop-color="#fbaac2"/><stop offset="0.7754" stop-color="#fbaac3"/><stop offset="0.8090" stop-color="#fbaac3"/><stop offset="0.8358" stop-color="#fba9c2"/><stop offset="0.8573" stop-color="#fba7c1"/><stop offset="0.8748" stop-color="#fba5bf"/><stop offset="0.8895" stop-color="#fba2bd"/><stop offset="0.9016" stop-color="#fa9eba"/><stop offset="0.9110" stop-color="#fa9ab7"/><stop offset="0.9191" stop-color="#fa96b4"/><stop offset="0.9258" stop-color="#fa91b1"/><stop offset="0.9311" stop-color="#fa8dae"/><stop offset="0.9352" stop-color="#f98aac"/><stop offset="0.9385" stop-color="#f987aa"/><stop offset="0.9412" stop-color="#f984a8"/><stop offset="0.9436" stop-color="#f981a6"/><stop offset="0.9455" stop-color="#f985a9"/><stop offset="0.9468" stop-color="#f988ab"/><stop offset="0.9482" stop-color="#f98bad"/><stop offset="0.9495" stop-color="#fa8daf"/><stop offset="0.9509" stop-color="#fa90b1"/><stop offset="0.9522" stop-color="#fa93b2"/><stop offset="0.9536" stop-color="#fa96b4"/><stop offset="0.9549" stop-color="#fa99b6"/><stop offset="0.9559" stop-color="#fa9bb8"/><stop offset="1.0000" stop-color="#fa9bb8"/></linearGradient>
<linearGradient id="g85"><stop offset="0.0000" stop-color="#fba7c1"/><stop offset="0.1244" stop-color="#fba7c0"/><stop offset="0.2519" stop-color="#fba6c0"/><stop offset="0.4667" stop-color="#fba6c0"/><stop offset="0.5540" stop-color="#fba7c1"/><stop offset="0.6278" stop-color="#fba8c1"/><stop offset="0.6882" stop-color="#fba9c2"/><stop offset="0.7352" stop-color="#fbaac3"/><stop offset="0.7754" stop-color="#fbabc3"/><stop offset="0.8090" stop-color="#fbabc4"/><stop offset="0.8358" stop-color="#fbaac3"/><stop offset="0.8573" stop-color="#fba9c2"/><stop offset="0.8748" stop-color="#fba6c0"/><stop offset="0.8895" stop-color="#fba3be"/><stop offset="0.9016" stop-color="#fa9fbb"/><stop offset="0.9110" stop-color="#fa9bb8"/><stop offset="0.9191" stop-color="#fa96b5"/><stop offset="0.9258" stop-color="#fa92b1"/><stop offset="0.9311" stop-color="#fa8dae"/><stop offset="0.9352" stop-color="#f989ab"/><stop offset="0.9385" stop-color="#f985a8"/><stop offset="0.9412" stop-color="#f981a6"/><stop offset="0.9436" stop-color="#f97da3"/><stop offset="0.9455" stop-color="#f982a6"/><stop offset="0.9468" stop-color="#f985a8"/><stop offset="0.9482" stop-color="#f988ab"/><stop offset="0.9495" stop-color="#f98bad"/><stop offset="0.9509" stop-color="#fa8eaf"/><stop offset="0.9522" stop-color="#fa92b1"/><stop offset="0.9536" stop-color="#fa95b4"/><stop offset="0.9549" stop-color="#fa98b6"/><stop offset="0.9559" stop-color="#fa9ab8"/><stop offset="1.0000" stop-color="#fa9ab8"/></linearGradient>
<linearGradient id="g86"><stop offset="0.0000" stop-color="#fba7c1"/><stop offset="0.1244" stop-color="#fba7c1"/><stop offset="0.2519" stop-color="#fba6c0"/><stop offset="0.3660" stop-color="#fba6c0"/><stop offset="0.4667" stop-color="#fba7c0"/><stop offset="0.5540" stop-color="#fba7c1"/><stop offset="0.6278" stop-color="#fba9c2"/><stop offset="0.6882" stop-color="#fbaac3"/><stop offset="0.7352" stop-color="#fbabc4"/><stop offset="0.7754" stop-color="#fbacc4"/><stop offset="0.8358" stop-color="#fbacc4"/><stop offset="0.8573" stop-color="#fbaac3"/><stop offset="0.8748" stop-color="#fba8c1"/><stop offset="0.8895" stop-color="#fba5bf"/><stop offset="0.9016" stop-color="#fba1bd"/><stop offset="0.9110" stop-color="#fa9dba"/><stop offset="0.9191" stop-color="#fa99b6"/><stop offset="0.9258" stop-color="#fa94b3"/><stop offset="0.9311" stop-color="#fa8fb0"/><stop offset="0.9352" stop-color="#f98aac"/><stop offset="0.9385" stop-color="#f986a9"/><stop offset="0.9412" stop-color="#f982a6"/><stop offset="0.9436" stop-color="#f97da3"/><stop offset="0.9455" stop-color="#f982a6"/><stop offset="0.9468" stop-color="#f985a8"/><stop offset="0.9482" stop-color="#f988ab"/><stop offset="0.9495" stop-color="#f98bad"/><stop offset="0.9509" stop-color="#fa8eaf"/><stop offset="0.9522" stop-color="#fa91b1"/><stop offset="0.9536" stop-color="#fa94b3"/><stop offset="0.9549" stop-color="#fa98b6"/><stop offset="0.9559" stop-color="#fa9ab7"/><stop offset="1.0000" stop-color="#fa9ab7"/></linearGradient>
<linearGradient id="g87"><stop offset="0.0000" stop-color="#fba7c1"/><stop offset="0.1244" stop-color="#fba7c1"/><stop offset="0.2519" stop-color="#fba7c0"/><stop offset="0.3660" stop-color="#fba6c0"/><stop offset="0.4667" stop-color="#fba7c0"/><stop offset="0.5540" stop-color="#fba8c1"/><stop offset="0.6278" stop-color="#fba9c2"/><stop offset="0.6882" stop-color="#fbaac3"/><stop offset="0.7352" stop-color="#fbacc4"/><stop offset="0.7754" stop-color="#fbadc5"/><stop offset="0.8090" stop-color="#fbaec5"/><stop offset="0.8358" stop-color="#fbadc5"/><stop offset="0.8573" stop-color="#fbacc4"/><stop offset="0.8748" stop-color="#fbaac3"/><stop offset="0.8895" stop-color="#fba8c1"/><stop offset="0.9016" stop-color="#fba4bf"/><stop offset="0.9110" stop-color="#faa1bc"/><stop offset="0.9191" stop-color="#fa9cb9"/><stop offset="0.9258" stop-color="#fa98b6"/><stop offset="0.9311" stop-color="#fa93b2"/><stop offset="0.9352" stop-color="#fa8faf"/><stop offset="0.9385" stop-color="#f98aac"/><stop offset="0.9412" stop-color="#f986a9"/><stop offset="0.9436" stop-color="#f982a6"/><stop offset="0.9455" stop-color="#f986a9"/><stop offset="0.9468" stop-color="#f988ab"/><stop offset="0.9482" stop-color="#f98bad"/><stop offset="0.9495" stop-color="#fa8dae"/><stop offset="0.9509" stop-color="#fa90b0"/><stop offset="0.9522" stop-color="#fa92b2"/><stop offset="0.9536" stop-color="#fa95b4"/><stop offset="0.9549" stop-color="#fa97b6"/><stop offset="0.9559" stop-color="#fa99b7"/><stop offset="1.0000" stop-color="#fa99b7"/></linearGradient>
<linearGradient id="g88"><stop offset="0.0000" stop-color="#fba7c1"/><stop offset="0.1244" stop-color="#fba7c1"/><stop offset="0.2519" stop-color="#fba7c0"/><stop offset="0.3660" stop-color="#fba7c0"/><stop offset="0.4667" stop-color="#fba7c1"/><stop offset="0.5540" stop-color="#fba8c1"/><stop offset="0.6278" stop-color="#fba9c2"/><stop offset="0.6882" stop-color="#fbabc3"/><stop offset="0.7352" stop-color="#fbacc5"/><stop offset="0.7754" stop-color="#fbaec6"/><stop offset="0.8090" stop-color="#fbafc6"/><stop offset="0.8358" stop-color="#fbafc6"/><stop offset="0.8573" stop-color="#fbaec6"/><stop offset="0.8748" stop-color="#fbadc5"/><stop offset="0.8895" stop-color="#fbabc3"/><stop offset="0.9016" stop-color="#fba8c1"/><stop offset="0.9110" stop-color="#fba5bf"/><stop offset="0.9191" stop-color="#fba1bd"/><stop offset="0.9258" stop-color="#fa9dba"/><stop offset="0.9311" stop-color="#fa99b7"/><stop offset="0.9352" stop-color="#fa96b4"/><stop offset="0.9385" stop-color="#fa92b2"/><stop offset="0.9412" stop-color="#fa8faf"/><stop offset="0.9436" stop-color="#f98bad"/><stop offset="0.9455" stop-color="#fa8dae"/><stop offset="0.9468" stop-color="#fa8faf"/><stop offset="0.9482" stop-color="#fa90b1"/><stop offset="0.9495" stop-color="#fa92b2"/><stop offset="0.9509" stop-color="#fa93b3"/><stop offset="0.9522" stop-color="#fa95b4"/><stop offset="0.9536" stop-color="#fa96b5"/><stop offset="0.9549" stop-color="#fa98b6"/><stop offset="0.9559" stop-color="#fa99b7"/><stop offset="1.0000" stop-color="#fa99b7"/></linearGradient>
<linearGradient id="g89"><stop offset="0.0000" stop-color="#fba8c1"/><stop offset="0.1244" stop-color="#fba7c1"/><stop offset="0.4667" stop-color="#fba7c1"/><stop offset="0.5540" stop-color="#fba8c1"/><stop offset="0.6278" stop-color="#fba9c2"/><stop offset="0.6882" stop-color="#fbabc4"/><stop offset="0.7352" stop-color="#fbadc5"/><stop offset="0.7754" stop-color="#fbafc6"/><stop offset="0.8090" stop-color="#fbb0c7"/><stop offset="0.8358" stop-color="#fbb1c7"/><stop offset="0.8573" stop-color="#fbb0c7"/><stop offset="0.8748" stop-color="#fbb0c7"/><stop offset="0.8895" stop-color="#fbaec6"/><stop offset="0.9016" stop-color="#fbacc4"/><stop offset="0.9110" stop-color="#fbaac3"/><stop offset="0.9191" stop-color="#fba8c1"/><stop offset="0.9258" stop-color="#fba5bf"/><stop offset="0.9311" stop-color="#fba2bd"/><stop offset="0.9352" stop-color="#fa9fbb"/><stop offset="0.9385" stop-color="#fa9cb9"/><stop offset="0.9412" stop-color="#fa9ab8"/><stop offset="0.9436" stop-color="#fa98b6"/><stop offset="1.0000" stop-color="#fa98b6"/></linearGradient>
<linearGradient id="g90"><stop offset="0.0000" stop-color="#fba8c1"/><stop offset="0.1244" stop-color="#fba7c1"/><stop offset="0.4667" stop-color="#fba7c1"/><stop offset="0.5540" stop-color="#fba8c2"/><stop offset="0.6278" stop-color="#fbaac3"/><stop offset="0.6882" stop-color="#fbacc4"/><stop offset="0.7352" stop-color="#fbaec5"/><stop offset="0.7754" stop-color="#fbb0c7"/><stop offset="0.8090" stop-color="#fbb1c8"/><stop offset="0.8358" stop-color="#fbb2c9"/><stop offset="0.8573" stop-color="#fbb3c9"/><stop offset="0.8748" stop-color="#fbb3c9"/><stop offset="0.8895" stop-color="#fbb2c8"/><stop offset="0.9016" stop-color="#fbb1c8"/><stop offset="0.9110" stop-color="#fbb0c7"/><stop offset="0.9191" stop-color="#fbaec6"/><stop offset="0.9258" stop-color="#fbadc5"/><stop offset="0.9311" stop-color="#fbabc4"/><stop offset="0.9352" stop-color="#fbaac3"/><stop offset="0.9385" stop-color="#fba9c2"/><stop offset="0.9412" stop-color="#fba8c1"/><stop offset="0.9436" stop-color="#fba7c1"/><stop offset="0.9455" stop-color="#fba5bf"/><stop offset="0.9468" stop-color="#fba3be"/><stop offset="0.9482" stop-color="#fba1bd"/><stop offset="0.9495" stop-color="#faa0bb"/><stop offset="0.9509" stop-color="#fa9eba"/><stop offset="0.9522" stop-color="#fa9cb9"/><stop offset="0.9536" stop-color="#fa9bb8"/><stop offset="0.9549" stop-color="#fa99b7"/><stop offset="0.9559" stop-color="#fa98b6"/><stop offset="1.0000" stop-color="#fa98b6"/></linearGradient>
<linearGradient id="g91"><stop offset="0.0000" stop-color="#fba8c1"/><stop offset="0.1244" stop-color="#fba8c1"/><stop offset="0.2519" stop-color="#fba7c1"/><stop offset="0.3660" stop-color="#fba7c1"/><stop offset="0.4667" stop-color="#fba8c1"/><stop offset="0.5540" stop-color="#fba8c2"/><stop offset="0.6278" stop-color="#fbaac3"/><stop offset="0.6882" stop-color="#fbacc4"/><stop offset="0.7352" stop-color="#fbaec6"/><stop offset="0.7754" stop-color="#fbb0c7"/><stop offset="0.8090" stop-color="#fbb2c9"/><stop offset="0.8358" stop-color="#fbb4ca"/><stop offset="0.8573" stop-color="#fbb5ca"/><stop offset="0.8748" stop-color="#fbb5cb"/><stop offset="0.8895" stop-color="#fcb6cb"/><stop offset="0.9191" stop-color="#fcb6cb"/><stop offset="0.9258" stop-color="#fbb6cb"/><stop offset="0.9352" stop-color="#fbb6cb"/><stop offset="0.9385" stop-color="#fcb6cb"/><stop offset="0.9412" stop-color="#fcb6cb"/><stop offset="0.9436" stop-color="#fcb7cc"/><stop offset="0.9455" stop-color="#fbb2c8"/><stop offset="0.9468" stop-color="#fbafc6"/><stop offset="0.9482" stop-color="#fbabc4"/><stop offset="0.9495" stop-color="#fba8c1"/><stop offset="0.9509" stop-color="#fba4bf"/><stop offset="0.9522" stop-color="#faa1bc"/><stop offset="0.9536" stop-color="#fa9dba"/><stop offset="0.9549" stop-color="#fa9ab7"/><stop offset="0.9559" stop-color="#fa97b6"/><stop offset="1.0000" stop-color="#fa97b6"/></linearGradient>
<linearGradient id="g92"><stop offset="0.0000" stop-color="#fba8c1"/><stop offset="0.4667" stop-color="#fba8c1"/><stop offset="0.5540" stop-color="#fba9c2"/><stop offset="0.6278" stop-color="#fbaac3"/><stop offset="0.6882" stop-color="#fbacc4"/><stop offset="0.7352" stop-color="#fbaec6"/><stop offset="0.7754" stop-color="#fbb1c8"/><stop offset="0.8090" stop-color="#fbb3c9"/><stop offset="0.8358" stop-color="#fbb5cb"/><stop offset="0.8573" stop-color="#fcb7cc"/><stop offset="0.8748" stop-color="#fcb8cd"/><stop offset="0.8895" stop-color="#fcbace"/><stop offset="0.9016" stop-color="#fcbbcf"/><stop offset="0.9110" stop-color="#fcbcd0"/><stop offset="0.9191" stop-color="#fcbdd0"/><stop offset="0.9258" stop-color="#fcbfd1"/><stop offset="0.9311" stop-color="#fcc0d2"/><stop offset="0.9352" stop-color="#fcc1d3"/><stop offset="0.9385" stop-color="#fcc3d4"/><stop offset="0.9412" stop-color="#fcc4d5"/><stop offset="0.9436" stop-color="#fcc6d7"/><stop offset="0.9455" stop-color="#fcbfd1"/><stop offset="0.9468" stop-color="#fcbace"/><stop offset="0.9482" stop-color="#fbb4ca"/><stop offset="0.9495" stop-color="#fbafc7"/><stop offset="0.9509" stop-color="#fbaac3"/><stop offset="0.9522" stop-color="#fba5bf"/><stop offset="0.9536" stop-color="#faa0bc"/><stop offset="0.9549" stop-color="#fa9bb8"/><stop offset="0.9559" stop-color="#fa97b5"/><stop offset="1.0000" stop-color="#fa97b5"/></linearGradient>
<linearGradient id="g93"><stop offset="0.0000" stop-color="#fba8c1"/><stop offset="0.4667" stop-color="#fba8c1"/><stop offset="0.5540" stop-color="#fba9c2"/><stop offset="0.6278" stop-color="#fbaac3"/><stop offset="0.6882" stop-color="#fbacc4"/><stop offset="0.7352" stop-color="#fbafc6"/><stop offset="0.7754" stop-color="#fbb1c8"/><stop offset="0.8090" stop-color="#fbb4ca"/><stop offset="0.8358" stop-color="#fcb7cc"/><stop offset="0.8573" stop-color="#fcb9cd"/><stop offset="0.8748" stop-color="#fcbbcf"/><stop offset="0.8895" stop-color="#fcbdd0"/><stop offset="0.9016" stop-color="#fcc0d2"/><stop offset="0.9110" stop-color="#fcc2d4"/><stop offset="0.9191" stop-color="#fcc4d5"/><stop offset="0.9258" stop-color="#fcc7d7"/><stop offset="0.9311" stop-color="#fccad9"/><stop offset="0.9352" stop-color="#fdccdb"/><stop offset="0.9385" stop-color="#fdcfdd"/><stop offset="0.9412" stop-color="#fdd1de"/><stop offset="0.9436" stop-color="#fdd3e0"/><stop offset="0.9455" stop-color="#fccad9"/><stop offset="0.9468" stop-color="#fcc3d5"/><stop offset="0.9482" stop-color="#fcbdd0"/><stop offset="0.9495" stop-color="#fcb6cb"/><stop offset="0.9509" stop-color="#fbafc7"/><stop offset="0.9522" stop-color="#fba9c2"/><stop offset="0.9536" stop-color="#fba2bd"/><stop offset="0.9549" stop-color="#fa9bb8"/><stop offset="0.9559" stop-color="#fa97b5"/><stop offset="1.0000" stop-color="#fa97b5"/></linearGradient>
<linearGradient id="g94"><stop offset="0.0000" stop-color="#fba8c2"/><stop offset="0.1244" stop-color="#fba8c1"/><stop offset="0.3660" stop-color="#fba8c1"/><stop offset="0.4667" stop-color="#fba8c2"/><stop offset="0.5540" stop-color="#fba9c2"/><stop offset="0.6278" stop-color="#fbaac3"/><stop offset="0.6882" stop-color="#fbacc4"/><stop offset="0.7352" stop-color="#fbafc6"/><stop offset="0.7754" stop-color="#fbb2c8"/><stop offset="0.8090" stop-color="#fbb5ca"/><stop offset="0.8358" stop-color="#fcb8cd"/><stop offset="0.8573" stop-color="#fcbbcf"/><stop offset="0.8748" stop-color="#fcbed1"/><stop offset="0.8895" stop-color="#fcc1d3"/><stop offset="0.9016" stop-color="#fcc4d5"/><stop offset="0.9110" stop-color="#fcc7d7"/><stop offset="0.9191" stop-color="#fdcbda"/><stop offset="0.9258" stop-color="#fdcfdd"/><stop offset="0.9311" stop-color="#fdd2df"/><stop offset="0.9352" stop-color="#fdd6e2"/><stop offset="0.9385" stop-color="#fdd9e4"/><stop offset="0.9412" stop-color="#fddce6"/><stop offset="0.9436" stop-color="#fddee8"/><stop offset="0.9455" stop-color="#fdd3e0"/><stop offset="0.9468" stop-color="#fdcbda"/><stop offset="0.9482" stop-color="#fcc3d5"/><stop offset="0.9495" stop-color="#fcbccf"/><stop offset="0.9509" stop-color="#fbb4ca"/><stop offset="0.9522" stop-color="#fbacc4"/><stop offset="0.9536" stop-color="#fba4be"/><stop offset="0.9549" stop-color="#fa9cb9"/><stop offset="0.9559" stop-color="#fa96b5"/><stop offset="1.0000" stop-color="#fa96b5"/></linearGradient>
<linearGradient id="g95"><stop offset="0.0000" stop-color="#fba8c2"/><stop offset="0.3660" stop-color="#fba8c2"/><stop offset="0.4667" stop-color="#fba9c2"/><stop offset="0.5540" stop-color="#fba9c2"/><stop offset="0.6278" stop-color="#fbaac3"/><stop offset="0.6882" stop-color="#fbacc4"/><stop offset="0.7352" stop-color="#fbafc6"/><stop offset="0.7754" stop-color="#fbb2c8"/><stop offset="0.8090" stop-color="#fbb5cb"/><stop offset="0.8358" stop-color="#fcb9cd"/><stop offset="0.8573" stop-color="#fcbcd0"/><stop offset="0.8748" stop-color="#fcc0d2"/><stop offset="0.8895" stop-color="#fcc4d5"/><stop offset="0.9016" stop-color="#fcc8d8"/><stop offset="0.9110" stop-color="#fdccdb"/><stop offset="0.9191" stop-color="#fdd0de"/><stop offset="0.9258" stop-color="#fdd5e1"/><stop offset="0.9311" stop-color="#fdd9e4"/><stop offset="0.9352" stop-color="#fddde7"/><stop offset="0.9385" stop-color="#fee1e9"/><stop offset="0.9412" stop-color="#fee4ec"/><stop offset="0.9436" stop-color="#fee7ee"/><stop offset="0.9455" stop-color="#fddae5"/><stop offset="0.9468" stop-color="#fdd1df"/><stop offset="0.9482" stop-color="#fcc8d8"/><stop offset="0.9495" stop-color="#fcc0d2"/><stop offset="0.9509" stop-color="#fcb7cc"/><stop offset="0.9522" stop-color="#fbaec6"/><stop offset="0.9536" stop-color="#fba5bf"/><stop offset="0.9549" stop-color="#fa9cb9"/><stop offset="0.9559" stop-color="#fa96b5"/><stop offset="1.0000" stop-color="#fa96b5"/></linearGradient>
<linearGradient id="g96"><stop offset="0.0000" stop-color="#fba9c2"/><stop offset="0.5540" stop-color="#fba9c2"/><stop offset="0.6278" stop-color="#fbaac3"/><stop offset="0.6882" stop-color="#fbacc4"/><stop offset="0.7352" stop-color="#fbafc6"/><stop offset="0.7754" stop-color="#fbb2c8"/><stop offset="0.8090" stop-color="#fbb6cb"/><stop offset="0.8358" stop-color="#fcbace"/><stop offset="0.8573" stop-color="#fcbed1"/><stop offset="0.8748" stop-color="#fcc2d3"/><stop offset="0.8895" stop-color="#fcc6d7"/><stop offset="0.9016" stop-color="#fccada"/><stop offset="0.9110" stop-color="#fdcfdd"/><stop offset="0.9191" stop-color="#fdd4e1"/><stop offset="0.9258" stop-color="#fdd9e4"/><stop offset="0.9311" stop-color="#fddee8"/><stop offset="0.9352" stop-color="#fee2ea"/><stop offset="0.9385" stop-color="#fee6ed"/><stop offset="0.9412" stop-color="#fee9ef"/><stop offset="0.9436" stop-color="#feecf1"/><stop offset="0.9455" stop-color="#fddfe8"/><stop offset="0.9468" stop-color="#fdd5e1"/><stop offset="0.9482" stop-color="#fdccdb"/><stop offset="0.9495" stop-color="#fcc2d4"/><stop offset="0.9509" stop-color="#fcb9cd"/><stop offset="0.9522" stop-color="#fbafc6"/><stop offset="0.9536" stop-color="#fba6c0"/><stop offset="0.9549" stop-color="#fa9cb9"/><stop offset="0.9559" stop-color="#fa96b4"/><stop offset="1.0000" stop-color="#fa96b4"/></linearGradient>
<linearGradient id="g97"><stop offset="0.0000" stop-color="#fba9c2"/><stop offset="0.5540" stop-color="#fba9c2"/><stop offset="0.6278" stop-color="#fbaac3"/><stop offset="0.6882" stop-color="#fbacc4"/><stop offset="0.7352" stop-color="#fbafc6"/><stop offset="0.7754" stop-color="#fbb2c8"/><stop offset="0.8090" stop-color="#fcb6cb"/><stop offset="0.8358" stop-color="#fcbace"/><stop offset="0.8573" stop-color="#fcbed1"/><stop offset="0.8748" stop-color="#fcc3d4"/><stop offset="0.8895" stop-color="#fcc7d8"/><stop offset="0.9016" stop-color="#fdccdb"/><stop offset="0.9110" stop-color="#fdd1df"/><stop offset="0.9191" stop-color="#fdd7e2"/><stop offset="0.9258" stop-color="#fddce6"/><stop offset="0.9311" stop-color="#fee1e9"/><stop offset="0.9352" stop-color="#fee5ec"/><stop offset="0.9385" stop-color="#fee8ef"/><stop offset="0.9412" stop-color="#feebf1"/><stop offset="0.9436" stop-color="#feeef3"/><stop offset="0.9455" stop-color="#fee1e9"/><stop offset="0.9468" stop-color="#fdd7e3"/><stop offset="0.9482" stop-color="#fdcddc"/><stop offset="0.9495" stop-color="#fcc3d5"/><stop offset="0.9509" stop-color="#fcb9ce"/><stop offset="0.9522" stop-color="#fbb0c7"/><stop offset="0.9536" stop-color="#fba6c0"/><stop offset="0.9549" stop-color="#fa9cb9"/><stop offset="0.9559" stop-color="#fa95b4"/><stop offset="1.0000" stop-color="#fa95b4"/></linearGradient>
<linearGradient id="g98"><stop offset="0.0000" stop-color="#fba9c2"/><stop offset="0.4667" stop-color="#fba9c2"/><stop offset="0.5540" stop-color="#fbaac2"/><stop offset="0.6278" stop-color="#fbaac3"/><stop offset="0.6882" stop-color="#fbacc4"/><stop offset="0.7352" stop-color="#fbaec6"/><stop offset="0.7754" stop-color="#fbb2c8"/><stop offset="0.8090" stop-color="#fbb6cb"/><stop offset="0.8358" stop-color="#fcbace"/><stop offset="0.8573" stop-color="#fcbfd1"/><stop offset="0.8748" stop-color="#fcc3d5"/><stop offset="0.8895" stop-color="#fcc8d8"/><stop offset="0.9016" stop-color="#fdcddc"/><stop offset="0.9110" stop-color="#fdd2df"/><stop offset="0.9191" stop-color="#fdd7e3"/><stop offset="0.9258" stop-color="#fddce7"/><stop offset="0.9311" stop-color="#fee1ea"/><stop offset="0.9352" stop-color="#fee5ec"/><stop offset="0.9385" stop-color="#fee8ef"/><stop offset="0.9412" stop-color="#feebf1"/><stop offset="0.9436" stop-color="#feeef3"/><stop offset="0.9455" stop-color="#fee0e9"/><stop offset="0.9468" stop-color="#fdd6e2"/><stop offset="0.9482" stop-color="#fdcddb"/><stop offset="0.9495" stop-color="#fcc3d4"/><stop offset="0.9509" stop-color="#fcb9cd"/><stop offset="0.9522" stop-color="#fbafc7"/><stop offset="0.9536" stop-color="#fba6c0"/><stop offset="0.9549" stop-color="#fa9cb9"/><stop offset="0.9559" stop-color="#fa95b4"/><stop offset="1.0000" stop-color="#fa95b4"/></linearGradient>
<linearGradient id="g99"><stop offset="0.0000" stop-color="#fba9c2"/><stop offset="0.1244" stop-color="#fbaac2"/><stop offset="0.2519" stop-color="#fbaac3"/><stop offset="0.3660" stop-color="#fbaac2"/><stop offset="0.4667" stop-color="#fbaac2"/><stop offset="0.5540" stop-color="#fbaac3"/><stop offset="0.6278" stop-color="#fbaac3"/><stop offset="0.6882" stop-color="#fbacc4"/><stop offset="0.7352" stop-color="#fbaec6"/><stop offset="0.7754" stop-color="#fbb1c8"/><stop offset="0.8090" stop-color="#fbb5cb"/><stop offset="0.8358" stop-color="#fcbace"/><stop offset="0.8573" stop-color="#fcbed1"/><stop offset="0.8748" stop-color="#fcc3d5"/><stop offset="0.8895" stop-color="#fcc8d8"/><stop offset="0.9016" stop-color="#fdcddc"/><stop offset="0.9110" stop-color="#fdd2df"/><stop offset="0.9191" stop-color="#fdd7e3"/><stop offset="0.9258" stop-color="#fddbe6"/><stop offset="0.9311" stop-color="#fde0e9"/><stop offset="0.9352" stop-color="#fee3eb"/><stop offset="0.9385" stop-color="#fee6ed"/><stop offset="0.9412" stop-color="#fee8ef"/><stop offset="0.9436" stop-color="#feebf1"/><stop offset="0.9455" stop-color="#fddde7"/><stop offset="0.9468" stop-color="#fdd4e1"/><stop offset="0.9482" stop-color="#fccbda"/><stop offset="0.9495" stop-color="#fcc1d3"/><stop offset="0.9509" stop-color="#fcb8cc"/><stop offset="0.9522" stop-color="#fbaec6"/><stop offset="0.9536" stop-color="#fba5bf"/><stop offset="0.9549" stop-color="#fa9bb8"/><stop offset="0.9559" stop-color="#fa95b4"/><stop offset="1.0000" stop-color="#fa95b4"/></linearGradient>
<linearGradient id="g100"><stop offset="0.0000" stop-color="#fbaac2"/><stop offset="0.1244" stop-color="#fbaac3"/><stop offset="0.6278" stop-color="#fbaac3"/><stop offset="0.6882" stop-color="#fbacc4"/><stop offset="0.7352" stop-color="#fbaec5"/><stop offset="0.7754" stop-color="#fbb1c7"/><stop offset="0.8090" stop-color="#fbb4ca"/><stop offset="0.8358" stop-color="#fcb9cd"/><stop offset="0.8573" stop-color="#fcbed1"/><stop offset="0.8748" stop-color="#fcc3d4"/><stop offset="0.8895" stop-color="#fcc8d8"/><stop offset="0.9016" stop-color="#fdccdb"/><stop offset="0.9110" stop-color="#fdd1de"/><stop offset="0.9191" stop-color="#fdd5e1"/><stop offset="0.9258" stop-color="#fdd9e4"/><stop offset="0.9311" stop-color="#fddce6"/><stop offset="0.9352" stop-color="#fddfe8"/><stop offset="0.9385" stop-color="#fee1ea"/><stop offset="0.9412" stop-color="#fee3eb"/><stop offset="0.9436" stop-color="#fee5ed"/><stop offset="0.9455" stop-color="#fdd9e4"/><stop offset="0.9468" stop-color="#fdd0de"/><stop offset="0.9482" stop-color="#fcc7d7"/><stop offset="0.9495" stop-color="#fcbed1"/><stop offset="0.9509" stop-color="#fbb5cb"/><stop offset="0.9522" stop-color="#fbacc4"/><stop offset="0.9536" stop-color="#fba3be"/><stop offset="0.9549" stop-color="#fa9bb8"/><stop offset="0.9559" stop-color="#fa94b3"/><stop offset="1.0000" stop-color="#fa94b3"/></linearGradient>
<linearGradient id="g101"><stop offset="0.0000" stop-color="#fbaac3"/><stop offset="0.6278" stop-color="#fbaac3"/><stop offset="0.6882" stop-color="#fbabc4"/><stop offset="0.7352" stop-color="#fbadc5"/><stop offset="0.7754" stop-color="#fbb0c7"/><stop offset="0.8090" stop-color="#fbb3c9"/><stop offset="0.8358" stop-color="#fcb8cd"/><stop offset="0.8573" stop-color="#fcbdd0"/><stop offset="0.8748" stop-color="#fcc1d3"/><stop offset="0.8895" stop-color="#fcc6d7"/><stop offset="0.9016" stop-color="#fccbda"/><stop offset="0.9110" stop-color="#fdcedd"/><stop offset="0.9191" stop-color="#fdd2df"/><stop offset="0.9258" stop-color="#fdd5e1"/><stop offset="0.9311" stop-color="#fdd7e3"/><stop offset="0.9352" stop-color="#fdd9e4"/><stop offset="0.9385" stop-color="#fddbe6"/><stop offset="0.9412" stop-color="#fddde7"/><stop offset="0.9436" stop-color="#fddee8"/><stop offset="0.9455" stop-color="#fdd3e0"/><stop offset="0.9468" stop-color="#fccada"/><stop offset="0.9482" stop-color="#fcc2d4"/><stop offset="0.9495" stop-color="#fcbace"/><stop offset="0.9509" stop-color="#fbb2c9"/><stop offset="0.9522" stop-color="#fbaac3"/><stop offset="0.9536" stop-color="#fba2bd"/><stop offset="0.9549" stop-color="#fa9ab7"/><stop offset="0.9559" stop-color="#fa94b3"/><stop offset="1.0000" stop-color="#fa94b3"/></linearGradient>
<linearGradient id="g102"><stop offset="0.0000" stop-color="#fbaac3"/><stop offset="0.1244" stop-color="#fbaac3"/><stop offset="0.2519" stop-color="#fbabc3"/><stop offset="0.3660" stop-color="#fbabc3"/><stop offset="0.4667" stop-color="#fbaac3"/><stop offset="0.6278" stop-color="#fbaac3"/><stop offset="0.6882" stop-color="#fbabc3"/><stop offset="0.7352" stop-color="#fbacc4"/><stop offset="0.7754" stop-color="#fbafc6"/><stop offset="0.8090" stop-color="#fbb2c9"/><stop offset="0.8358" stop-color="#fcb6cc"/><stop offset="0.8573" stop-color="#fcbbcf"/><stop offset="0.8748" stop-color="#fcc0d2"/><stop offset="0.8895" stop-color="#fcc4d5"/><stop offset="0.9016" stop-color="#fcc8d8"/><stop offset="0.9110" stop-color="#fdcbda"/><stop offset="0.9191" stop-color="#fdcedc"/><stop offset="0.9258" stop-color="#fdd0de"/><stop offset="0.9311" stop-color="#fdd2df"/><stop offset="0.9352" stop-color="#fdd3e0"/><stop offset="0.9385" stop-color="#fdd4e0"/><stop offset="0.9412" stop-color="#fdd5e1"/><stop offset="0.9436" stop-color="#fdd5e1"/><stop offset="0.9455" stop-color="#fdcbda"/><stop offset="0.9468" stop-color="#fcc4d5"/><stop offset="0.9482" stop-color="#fcbdd0"/><stop offset="0.9495" stop-color="#fbb6cb"/><stop offset="0.9509" stop-color="#fbaec6"/><stop offset="0.9522" stop-color="#fba7c1"/><stop offset="0.9536" stop-color="#faa0bc"/><stop offset="0.9549" stop-color="#fa99b7"/><stop offset="0.9559" stop-color="#fa94b3"/><stop offset="1.0000" stop-color="#fa94b3"/></linearGradient>
<linearGradient id="g103"><stop offset="0.0000" stop-color="#fbaac3"/><stop offset="0.1244" stop-color="#fbabc3"/><stop offset="0.2519" stop-color="#fbabc4"/><stop offset="0.3660" stop-color="#fbabc3"/><stop offset="0.4667" stop-color="#fbabc3"/><stop offset="0.5540" stop-color="#fbaac3"/><stop offset="0.6882" stop-color="#fbaac3"/><stop offset="0.7352" stop-color="#fbacc4"/><stop offset="0.7754" stop-color="#fbaec5"/><stop offset="0.8090" stop-color="#fbb1c8"/><stop offset="0.8358" stop-color="#fbb5ca"/><stop offset="0.8573" stop-color="#fcb9cd"/><stop offset="0.8748" stop-color="#fcbdd0"/><stop offset="0.8895" stop-color="#fcc1d3"/><stop offset="0.9016" stop-color="#fcc4d6"/><stop offset="0.9110" stop-color="#fcc7d7"/><stop offset="0.9191" stop-color="#fcc9d9"/><stop offset="0.9258" stop-color="#fccada"/><stop offset="0.9311" stop-color="#fdcbda"/><stop offset="0.9352" stop-color="#fdccdb"/><stop offset="0.9436" stop-color="#fdccdb"/><stop offset="0.9455" stop-color="#fcc3d5"/><stop offset="0.9468" stop-color="#fcbdd0"/><stop offset="0.9482" stop-color="#fcb7cc"/><stop offset="0.9495" stop-color="#fbb1c8"/><stop offset="0.9509" stop-color="#fbabc3"/><stop offset="0.9522" stop-color="#fba4bf"/><stop offset="0.9536" stop-color="#fa9eba"/><stop offset="0.9549" stop-color="#fa98b6"/><stop offset="0.9559" stop-color="#fa94b3"/><stop offset="1.0000" stop-color="#fa94b3"/></linearGradient>
<linearGradient id="g104"><stop offset="0.0000" stop-color="#fbabc3"/><stop offset="0.1244" stop-color="#fbabc4"/><stop offset="0.4667" stop-color="#fbabc4"/><stop offset="0.5540" stop-color="#fbabc3"/><stop offset="0.6278" stop-color="#fbaac3"/><stop offset="0.6882" stop-color="#fbaac3"/><stop offset="0.7352" stop-color="#fbabc3"/><stop offset="0.7754" stop-color="#fbacc4"/><stop offset="0.8090" stop-color="#fbafc6"/><stop offset="0.8358" stop-color="#fbb3c9"/><stop offset="0.8573" stop-color="#fcb6cc"/><stop offset="0.8748" stop-color="#fcbace"/><stop offset="0.8895" stop-color="#fcbed1"/><stop offset="0.9016" stop-color="#fcc1d3"/><stop offset="0.9110" stop-color="#fcc2d4"/><stop offset="0.9191" stop-color="#fcc4d5"/><stop offset="0.9385" stop-color="#fcc4d5"/><stop offset="0.9412" stop-color="#fcc3d5"/><stop offset="0.9436" stop-color="#fcc3d4"/><stop offset="0.9455" stop-color="#fcbbcf"/><stop offset="0.9468" stop-color="#fcb6cb"/><stop offset="0.9482" stop-color="#fbb1c8"/><stop offset="0.9495" stop-color="#fbacc4"/><stop offset="0.9509" stop-color="#fba7c0"/><stop offset="0.9522" stop-color="#fba1bd"/><stop offset="0.9536" stop-color="#fa9cb9"/><stop offset="0.9549" stop-color="#fa97b5"/><stop offset="0.9559" stop-color="#fa93b3"/><stop offset="1.0000" stop-color="#fa93b3"/></linearGradient>
<linearGradient id="g105"><stop offset="0.0000" stop-color="#fbabc3"/><stop offset="0.1244" stop-color="#fbabc4"/><stop offset="0.2519" stop-color="#fbacc4"/><stop offset="0.3660" stop-color="#fbacc4"/><stop offset="0.4667" stop-color="#fbabc4"/><stop offset="0.5540" stop-color="#fbabc3"/><stop offset="0.6278" stop-color="#fbaac3"/><stop offset="0.7352" stop-color="#fbaac3"/><stop offset="0.7754" stop-color="#fbabc4"/><stop offset="0.8090" stop-color="#fbadc5"/><stop offset="0.8358" stop-color="#fbb0c7"/><stop offset="0.8573" stop-color="#fbb3c9"/><stop offset="0.8748" stop-color="#fcb7cc"/><stop offset="0.8895" stop-color="#fcbace"/><stop offset="0.9016" stop-color="#fcbcd0"/><stop offset="0.9110" stop-color="#fcbed1"/><stop offset="0.9311" stop-color="#fcbed1"/><stop offset="0.9352" stop-color="#fcbdd0"/><stop offset="0.9385" stop-color="#fcbccf"/><stop offset="0.9412" stop-color="#fcbbcf"/><stop offset="0.9436" stop-color="#fcbace"/><stop offset="0.9455" stop-color="#fbb4ca"/><stop offset="0.9468" stop-color="#fbb0c7"/><stop offset="0.9482" stop-color="#fbabc4"/><stop offset="0.9495" stop-color="#fba7c1"/><stop offset="0.9509" stop-color="#fba3be"/><stop offset="0.9522" stop-color="#fa9fbb"/><stop offset="0.9536" stop-color="#fa9ab8"/><stop offset="0.9549" stop-color="#fa96b5"/><stop offset="0.9559" stop-color="#fa93b3"/><stop offset="1.0000" stop-color="#fa93b3"/></linearGradient>
<linearGradient id="g106"><stop offset="0.0000" stop-color="#fbabc4"/><stop offset="0.1244" stop-color="#fbacc4"/><stop offset="0.4667" stop-color="#fbacc4"/><stop offset="0.5540" stop-color="#fbabc4"/><stop offset="0.6278" stop-color="#fbaac3"/><stop offset="0.6882" stop-color="#fba9c2"/><stop offset="0.7352" stop-color="#fba9c2"/><stop offset="0.7754" stop-color="#fbaac3"/><stop offset="0.8090" stop-color="#fbabc4"/><stop offset="0.8358" stop-color="#fbaec5"/><stop offset="0.8573" stop-color="#fbb0c7"/><stop offset="0.8748" stop-color="#fbb3c9"/><stop offset="0.8895" stop-color="#fbb6cb"/><stop offset="0.9016" stop-color="#fcb7cc"/><stop offset="0.9110" stop-color="#fcb8cd"/><stop offset="0.9191" stop-color="#fcb9cd"/><stop offset="0.9258" stop-color="#fcb8cd"/><stop offset="0.9311" stop-color="#fcb7cc"/><stop offset="0.9352" stop-color="#fcb6cb"/><stop offset="0.9385" stop-color="#fbb5ca"/><stop offset="0.9412" stop-color="#fbb3c9"/><stop offset="0.9436" stop-color="#fbb2c8"/><stop offset="0.9455" stop-color="#fbadc5"/><stop offset="0.9468" stop-color="#fbaac3"/><stop offset="0.9482" stop-color="#fba6c0"/><stop offset="0.9495" stop-color="#fba3be"/><stop offset="0.9509" stop-color="#faa0bb"/><stop offset="0.9522" stop-color="#fa9cb9"/><stop offset="0.9536" stop-color="#fa99b7"/><stop offset="0.9549" stop-color="#fa95b4"/><stop offset="0.9559" stop-color="#fa93b2"/><stop offset="1.0000" stop-color="#fa93b2"/></linearGradient>
<linearGradient id="g107"><stop offset="0.0000" stop-color="#fbacc4"/><stop offset="0.1244" stop-color="#fbacc4"/><stop offset="0.2519" stop-color="#fbadc5"/><stop offset="0.3660" stop-color="#fbadc5"/><stop offset="0.4667" stop-color="#fbacc4"/><stop offset="0.5540" stop-color="#fbabc4"/><stop offset="0.6278" stop-color="#fbaac3"/><stop offset="0.6882" stop-color="#fba9c2"/><stop offset="0.7352" stop-color="#fba8c2"/><stop offset="0.7754" stop-color="#fba8c2"/><stop offset="0.8090" stop-color="#fba9c2"/><stop offset="0.8358" stop-color="#fbabc3"/><stop offset="0.8573" stop-color="#fbadc5"/><stop offset="0.8748" stop-color="#fbafc6"/><stop offset="0.8895" stop-color="#fbb1c8"/><stop offset="0.9016" stop-color="#fbb3c9"/><stop offset="0.9258" stop-color="#fbb3c9"/><stop offset="0.9311" stop-color="#fbb1c8"/><stop offset="0.9352" stop-color="#fbb0c7"/><stop offset="0.9385" stop-color="#fbafc6"/><stop offset="0.9412" stop-color="#fbadc5"/><stop offset="0.9436" stop-color="#fbacc4"/><stop offset="0.9455" stop-color="#fba8c1"/><stop offset="0.9468" stop-color="#fba5bf"/><stop offset="0.9482" stop-color="#fba2bd"/><stop offset="0.9495" stop-color="#faa0bb"/><stop offset="0.9509" stop-color="#fa9db9"/><stop offset="0.9522" stop-color="#fa9ab8"/><stop offset="0.9536" stop-color="#fa97b6"/><stop offset="0.9549" stop-color="#fa95b4"/><stop offset="0.9559" stop-color="#fa93b2"/><stop offset="1.0000" stop-color="#fa93b2"/></linearGradient>
<linearGradient id="g108"><stop offset="0.0000" stop-color="#fbacc4"/><stop offset="0.1244" stop-color="#fbadc5"/><stop offset="0.4667" stop-color="#fbadc5"/><stop offset="0.5540" stop-color="#fbacc4"/><stop offset="0.6278" stop-color="#fbaac3"/><stop offset="0.6882" stop-color="#fba9c2"/><stop offset="0.7352" stop-color="#fba8c1"/><stop offset="0.7754" stop-color="#fba7c1"/><stop offset="0.8090" stop-color="#fba7c1"/><stop offset="0.8358" stop-color="#fba8c1"/><stop offset="0.8573" stop-color="#fba9c2"/><stop offset="0.8748" stop-color="#fbabc3"/><stop offset="0.8895" stop-color="#fbacc4"/><stop offset="0.9016" stop-color="#fbadc5"/><stop offset="0.9110" stop-color="#fbaec6"/><stop offset="0.9191" stop-color="#fbaec6"/><stop offset="0.9258" stop-color="#fbadc5"/><stop offset="0.9311" stop-color="#fbacc4"/><stop offset="0.9352" stop-color="#fbabc4"/><stop offset="0.9385" stop-color="#fbaac3"/><stop offset="0.9412" stop-color="#fba8c2"/><stop offset="0.9436" stop-color="#fba7c1"/><stop offset="0.9455" stop-color="#fba4be"/><stop offset="0.9468" stop-color="#fba2bd"/><stop offset="0.9482" stop-color="#fa9fbb"/><stop offset="0.9495" stop-color="#fa9dba"/><stop offset="0.9509" stop-color="#fa9bb8"/><stop offset="0.9522" stop-color="#fa99b7"/><stop offset="0.9536" stop-color="#fa96b5"/><stop offset="0.9549" stop-color="#fa94b3"/><stop offset="0.9559" stop-color="#fa93b2"/><stop offset="1.0000" stop-color="#fa93b2"/></linearGradient>
<linearGradient id="g109"><stop offset="0.0000" stop-color="#fbacc4"/><stop offset="0.1244" stop-color="#fbadc5"/><stop offset="0.2519" stop-color="#fbaec5"/><stop offset="0.3660" stop-color="#fbaec6"/><stop offset="0.4667" stop-color="#fbaec5"/><stop offset="0.5540" stop-color="#fbacc4"/><stop offset="0.6278" stop-color="#fbabc3"/><stop offset="0.6882" stop-color="#fba9c2"/><stop offset="0.7352" stop-color="#fba7c1"/><stop offset="0.7754" stop-color="#fba6c0"/><stop offset="0.8090" stop-color="#fba5bf"/><stop offset="0.8573" stop-color="#fba5bf"/><stop offset="0.8748" stop-color="#fba6c0"/><stop offset="0.8895" stop-color="#fba7c1"/><stop offset="0.9016" stop-color="#fba8c1"/><stop offset="0.9110" stop-color="#fba9c2"/><stop offset="0.9191" stop-color="#fba9c2"/><stop offset="0.9258" stop-color="#fba8c2"/><stop offset="0.9311" stop-color="#fba8c1"/><stop offset="0.9352" stop-color="#fba7c1"/><stop offset="0.9385" stop-color="#fba6c0"/><stop offset="0.9412" stop-color="#fba5bf"/><stop offset="0.9436" stop-color="#fba4be"/><stop offset="0.9455" stop-color="#fba1bc"/><stop offset="0.9468" stop-color="#fa9fbb"/><stop offset="0.9482" stop-color="#fa9dba"/><stop offset="0.9495" stop-color="#fa9bb8"/><stop offset="0.9509" stop-color="#fa9ab7"/><stop offset="0.9522" stop-color="#fa98b6"/><stop offset="0.9536" stop-color="#fa96b4"/><stop offset="0.9549" stop-color="#fa94b3"/><stop offset="0.9559" stop-color="#fa93b2"/><stop offset="1.0000" stop-color="#fa93b2"/></linearGradient>
<linearGradient id="g110"><stop offset="0.0000" stop-color="#fbadc5"/><stop offset="0.1244" stop-color="#fbaec5"/><stop offset="0.2519" stop-color="#fbaec6"/><stop offset="0.3660" stop-color="#fbafc6"/><stop offset="0.4667" stop-color="#fbaec6"/><stop offset="0.5540" stop-color="#fbadc5"/><stop offset="0.6278" stop-color="#fbabc3"/><stop offset="0.6882" stop-color="#fba9c2"/><stop offset="0.7352" stop-color="#fba6c0"/><stop offset="0.7754" stop-color="#fba4bf"/><stop offset="0.8090" stop-color="#fba3be"/><stop offset="0.8358" stop-color="#fba2bd"/><stop offset="0.8573" stop-color="#fba1bd"/><stop offset="0.8748" stop-color="#fba2bd"/><stop offset="0.8895" stop-color="#fba2bd"/><stop offset="0.9016" stop-color="#fba3be"/><stop offset="0.9191" stop-color="#fba3be"/><stop offset="0.9258" stop-color="#fba4be"/><stop offset="0.9311" stop-color="#fba3be"/><stop offset="0.9385" stop-color="#fba3be"/><stop offset="0.9412" stop-color="#fba2bd"/><stop offset="0.9436" stop-color="#fba2bd"/><stop offset="0.9455" stop-color="#faa0bb"/><stop offset="0.9468" stop-color="#fa9eba"/><stop offset="0.9482" stop-color="#fa9cb9"/><stop offset="0.9495" stop-color="#fa9ab8"/><stop offset="0.9509" stop-color="#fa99b7"/><stop offset="0.9522" stop-color="#fa97b5"/><stop offset="0.9536" stop-color="#fa95b4"/><stop offset="0.9549" stop-color="#fa94b3"/><stop offset="0.9559" stop-color="#fa93b2"/><stop offset="1.0000" stop-color="#fa93b2"/></linearGradient>
<linearGradient id="g111"><stop offset="0.0000" stop-color="#fbadc5"/><stop offset="0.1244" stop-color="#fbaec6"/><stop offset="0.2519" stop-color="#fbafc6"/><stop offset="0.4667" stop-color="#fbafc6"/><stop offset="0.5540" stop-color="#fbadc5"/><stop offset="0.6278" stop-color="#fbabc4"/><stop offset="0.6882" stop-color="#fba9c2"/><stop offset="0.7352" stop-color="#fba6c0"/><stop offset="0.7754" stop-color="#fba3be"/><stop offset="0.8090" stop-color="#faa1bc"/><stop offset="0.8358" stop-color="#fa9fbb"/><stop offset="0.8573" stop-color="#fa9dba"/><stop offset="0.8748" stop-color="#fa9db9"/><stop offset="0.8895" stop-color="#fa9db9"/><stop offset="0.9016" stop-color="#fa9dba"/><stop offset="0.9110" stop-color="#fa9eba"/><stop offset="0.9191" stop-color="#fa9eba"/><stop offset="0.9258" stop-color="#fa9fbb"/><stop offset="0.9311" stop-color="#fa9fbb"/><stop offset="0.9352" stop-color="#faa0bb"/><stop offset="0.9385" stop-color="#faa0bc"/><stop offset="0.9412" stop-color="#faa0bc"/><stop offset="0.9436" stop-color="#faa1bc"/><stop offset="0.9455" stop-color="#fa9ebb"/><stop offset="0.9468" stop-color="#fa9db9"/><stop offset="0.9482" stop-color="#fa9bb8"/><stop offset="0.9495" stop-color="#fa9ab7"/><stop offset="0.9509" stop-color="#fa98b6"/><stop offset="0.9522" stop-color="#fa97b5"/><stop offset="0.9536" stop-color="#fa95b4"/><stop offset="0.9549" stop-color="#fa94b3"/><stop offset="0.9559" stop-color="#fa92b2"/><stop offset="1.0000" stop-color="#fa92b2"/></linearGradient>
<linearGradient id="g112"><stop offset="0.0000" stop-color="#fbadc5"/><stop offset="0.1244" stop-color="#fbaec6"/><stop offset="0.2519" stop-color="#fbafc7"/><stop offset="0.3660" stop-color="#fbb0c7"/><stop offset="0.4667" stop-color="#fbafc7"/><stop offset="0.5540" stop-color="#fbaec6"/><stop offset="0.6278" stop-color="#fbacc4"/><stop offset="0.6882" stop-color="#fba9c2"/><stop offset="0.7352" stop-color="#fba6c0"/><stop offset="0.7754" stop-color="#fba2bd"/><stop offset="0.8090" stop-color="#fa9fbb"/><stop offset="0.8358" stop-color="#fa9cb9"/><stop offset="0.8573" stop-color="#fa9ab7"/><stop offset="0.8748" stop-color="#fa98b6"/><stop offset="0.9110" stop-color="#fa98b6"/><stop offset="0.9191" stop-color="#fa99b7"/><stop offset="0.9258" stop-color="#fa9ab7"/><stop offset="0.9311" stop-color="#fa9bb8"/><stop offset="0.9352" stop-color="#fa9cb9"/><stop offset="0.9385" stop-color="#fa9dba"/><stop offset="0.9412" stop-color="#fa9eba"/><stop offset="0.9436" stop-color="#fa9fbb"/><stop offset="0.9455" stop-color="#fa9dba"/><stop offset="0.9468" stop-color="#fa9cb9"/><stop offset="0.9482" stop-color="#fa9ab8"/><stop offset="0.9495" stop-color="#fa99b7"/><stop offset="0.9509" stop-color="#fa98b6"/><stop offset="0.9522" stop-color="#fa96b5"/><stop offset="0.9536" stop-color="#fa95b4"/><stop offset="0.9549" stop-color="#fa93b3"/><stop offset="0.9559" stop-color="#fa92b2"/><stop offset="1.0000" stop-color="#fa92b2"/></linearGradient>
<linearGradient id="g113"><stop offset="0.0000" stop-color="#fbaec5"/><stop offset="0.1244" stop-color="#fbafc6"/><stop offset="0.2519" stop-color="#fbb0c7"/><stop offset="0.4667" stop-color="#fbb0c7"/><stop offset="0.5540" stop-color="#fbafc6"/><stop offset="0.6278" stop-color="#fbacc4"/><stop offset="0.6882" stop-color="#fba9c2"/><stop offset="0.7352" stop-color="#fba5c0"/><stop offset="0.7754" stop-color="#fba1bd"/><stop offset="0.8090" stop-color="#fa9dba"/><stop offset="0.8358" stop-color="#fa99b7"/><stop offset="0.8573" stop-color="#fa96b5"/><stop offset="0.8748" stop-color="#fa94b3"/><stop offset="0.8895" stop-color="#fa92b2"/><stop offset="0.9110" stop-color="#fa92b2"/><stop offset="0.9191" stop-color="#fa93b3"/><stop offset="0.9258" stop-color="#fa95b4"/><stop offset="0.9311" stop-color="#fa96b5"/><stop offset="0.9352" stop-color="#fa98b6"/><stop offset="0.9385" stop-color="#fa99b7"/><stop offset="0.9412" stop-color="#fa9bb8"/><stop offset="0.9436" stop-color="#fa9cb9"/><stop offset="0.9455" stop-color="#fa9bb8"/><stop offset="0.9468" stop-color="#fa9ab7"/><stop offset="0.9482" stop-color="#fa99b6"/><stop offset="0.9495" stop-color="#fa98b6"/><stop offset="0.9509" stop-color="#fa96b5"/><stop offset="0.9522" stop-color="#fa95b4"/><stop offset="0.9536" stop-color="#fa94b3"/><stop offset="0.9549" stop-color="#fa93b3"/><stop offset="0.9559" stop-color="#fa92b2"/><stop offset="1.0000" stop-color="#fa92b2"/></linearGradient>
<linearGradient id="g114"><stop offset="0.0000" stop-color="#fbaec6"/><stop offset="0.1244" stop-color="#fbafc7"/><stop offset="0.2519" stop-color="#fbb0c7"/><stop offset="0.3660" stop-color="#fbb1c8"/><stop offset="0.4667" stop-color="#fbb1c7"/><stop offset="0.5540" stop-color="#fbafc7"/><stop offset="0.6278" stop-color="#fbadc5"/><stop offset="0.6882" stop-color="#fba9c2"/><stop offset="0.7352" stop-color="#fba5bf"/><stop offset="0.7754" stop-color="#faa1bc"/><stop offset="0.8090" stop-color="#fa9cb9"/><stop offset="0.8358" stop-color="#fa97b5"/><stop offset="0.8573" stop-color="#fa93b2"/><stop offset="0.8748" stop-color="#fa8fb0"/><stop offset="0.8895" stop-color="#fa8dae"/><stop offset="0.9016" stop-color="#fa8cae"/><stop offset="0.9110" stop-color="#fa8cae"/><stop offset="0.9191" stop-color="#fa8dae"/><stop offset="0.9258" stop-color="#fa8fb0"/><stop offset="0.9311" stop-color="#fa91b1"/><stop offset="0.9352" stop-color="#fa92b2"/><stop offset="0.9385" stop-color="#fa94b3"/><stop offset="0.9412" stop-color="#fa96b4"/><stop offset="0.9436" stop-color="#fa98b6"/><stop offset="0.9455" stop-color="#fa97b5"/><stop offset="0.9468" stop-color="#fa96b5"/><stop offset="0.9482" stop-color="#fa96b4"/><stop offset="0.9495" stop-color="#fa95b4"/><stop offset="0.9509" stop-color="#fa94b4"/><stop offset="0.9522" stop-color="#fa94b3"/><stop offset="0.9536" stop-color="#fa93b3"/><stop offset="0.9549" stop-color="#fa93b2"/><stop offset="0.9559" stop-color="#fa92b2"/><stop offset="1.0000" stop-color="#fa92b2"/></linearGradient>
<linearGradient id="g115"><stop offset="0.0000" stop-color="#fbaec6"/><stop offset="0.1244" stop-color="#fbb0c7"/><stop offset="0.2519" stop-color="#fbb1c8"/><stop offset="0.3660" stop-color="#fbb2c8"/><stop offset="0.4667" stop-color="#fbb1c8"/><stop offset="0.5540" stop-color="#fbb0c7"/><stop offset="0.6278" stop-color="#fbaec5"/><stop offset="0.6882" stop-color="#fbaac3"/><stop offset="0.7352" stop-color="#fba6c0"/><stop offset="0.7754" stop-color="#faa0bc"/><stop offset="0.8090" stop-color="#fa9bb8"/><stop offset="0.8358" stop-color="#fa95b4"/><stop offset="0.8573" stop-color="#fa90b0"/><stop offset="0.8748" stop-color="#f98cad"/><stop offset="0.8895" stop-color="#f988ab"/><stop offset="0.9016" stop-color="#f987aa"/><stop offset="0.9110" stop-color="#f986a9"/><stop offset="0.9191" stop-color="#f987aa"/><stop offset="0.9258" stop-color="#f988ab"/><stop offset="0.9311" stop-color="#f98aac"/><stop offset="0.9352" stop-color="#f98cad"/><stop offset="0.9385" stop-color="#fa8eaf"/><stop offset="0.9412" stop-color="#fa8fb0"/><stop offset="0.9436" stop-color="#fa91b1"/><stop offset="0.9482" stop-color="#fa91b1"/><stop offset="0.9495" stop-color="#fa92b1"/><stop offset="0.9509" stop-color="#fa92b2"/><stop offset="1.0000" stop-color="#fa92b2"/></linearGradient>
<linearGradient id="g116"><stop offset="0.0000" stop-color="#fbafc6"/><stop offset="0.1244" stop-color="#fbb0c7"/><stop offset="0.2519" stop-color="#fbb1c8"/><stop offset="0.3660" stop-color="#fbb2c9"/><stop offset="0.4667" stop-color="#fbb2c8"/><stop offset="0.5540" stop-color="#fbb1c8"/><stop offset="0.6278" stop-color="#fbaec6"/><stop offset="0.6882" stop-color="#fbabc3"/><stop offset="0.7352" stop-color="#fba6c0"/><stop offset="0.7754" stop-color="#faa0bc"/><stop offset="0.8090" stop-color="#fa9ab7"/><stop offset="0.8358" stop-color="#fa94b3"/><stop offset="0.8573" stop-color="#fa8daf"/><stop offset="0.8748" stop-color="#f988ab"/><stop offset="0.8895" stop-color="#f984a8"/><stop offset="0.9016" stop-color="#f981a6"/><stop offset="0.9110" stop-color="#f980a5"/><stop offset="0.9191" stop-color="#f980a5"/><stop offset="0.9258" stop-color="#f982a6"/><stop offset="0.9311" stop-color="#f983a7"/><stop offset="0.9352" stop-color="#f985a8"/><stop offset="0.9385" stop-color="#f986a9"/><stop offset="0.9412" stop-color="#f987aa"/><stop offset="0.9436" stop-color="#f988ab"/><stop offset="0.9455" stop-color="#f98aac"/><stop offset="0.9468" stop-color="#f98bad"/><stop offset="0.9482" stop-color="#f98cad"/><stop offset="0.9495" stop-color="#fa8dae"/><stop offset="0.9509" stop-color="#fa8eaf"/><stop offset="0.9522" stop-color="#fa8fb0"/><stop offset="0.9536" stop-color="#fa90b1"/><stop offset="0.9549" stop-color="#fa91b1"/><stop offset="0.9559" stop-color="#fa92b2"/><stop offset="1.0000" stop-color="#fa92b2"/></linearGradient>
<linearGradient id="g117"><stop offset="0.0000" stop-color="#fbafc6"/><stop offset="0.1244" stop-color="#fbb1c7"/><stop offset="0.2519" stop-color="#fbb2c8"/><stop offset="0.3660" stop-color="#fbb3c9"/><stop offset="0.4667" stop-color="#fbb3c9"/><stop offset="0.5540" stop-color="#fbb2c8"/><stop offset="0.6278" stop-color="#fbafc6"/><stop offset="0.6882" stop-color="#fbabc4"/><stop offset="0.7352" stop-color="#fba7c0"/><stop offset="0.7754" stop-color="#faa1bc"/><stop offset="0.8090" stop-color="#fa9ab7"/><stop offset="0.8358" stop-color="#fa93b2"/><stop offset="0.8573" stop-color="#f98cad"/><stop offset="0.8748" stop-color="#f985a9"/><stop offset="0.8895" stop-color="#f980a5"/><stop offset="0.9016" stop-color="#f97ca2"/><stop offset="0.9110" stop-color="#f97aa1"/><stop offset="0.9191" stop-color="#f97aa0"/><stop offset="0.9258" stop-color="#f97aa1"/><stop offset="0.9311" stop-color="#f97ba2"/><stop offset="0.9352" stop-color="#f97ca2"/><stop offset="0.9385" stop-color="#f97da3"/><stop offset="0.9412" stop-color="#f97ea4"/><stop offset="0.9436" stop-color="#f97fa4"/><stop offset="0.9455" stop-color="#f982a6"/><stop offset="0.9468" stop-color="#f984a8"/><stop offset="0.9482" stop-color="#f986a9"/><stop offset="0.9495" stop-color="#f988ab"/><stop offset="0.9509" stop-color="#f98aac"/><stop offset="0.9522" stop-color="#fa8cae"/><stop offset="0.9536" stop-color="#fa8eaf"/><stop offset="0.9549" stop-color="#fa91b1"/><stop offset="0.9559" stop-color="#fa92b2"/><stop offset="1.0000" stop-color="#fa92b2"/></linearGradient>
<linearGradient id="g118"><stop offset="0.0000" stop-color="#fbafc6"/><stop offset="0.1244" stop-color="#fbb1c8"/><stop offset="0.2519" stop-color="#fbb2c9"/><stop offset="0.3660" stop-color="#fbb3c9"/><stop offset="0.4667" stop-color="#fbb4ca"/><stop offset="0.5540" stop-color="#fbb3c9"/><stop offset="0.6278" stop-color="#fbb0c7"/><stop offset="0.6882" stop-color="#fbacc4"/><stop offset="0.7352" stop-color="#fba8c1"/><stop offset="0.7754" stop-color="#fba1bd"/><stop offset="0.8090" stop-color="#fa9ab7"/><stop offset="0.8358" stop-color="#fa92b2"/><stop offset="0.8573" stop-color="#f98bad"/><stop offset="0.8748" stop-color="#f983a7"/><stop offset="0.8895" stop-color="#f97da3"/><stop offset="0.9016" stop-color="#f9789f"/><stop offset="0.9110" stop-color="#f8759d"/><stop offset="0.9191" stop-color="#f8739c"/><stop offset="0.9258" stop-color="#f8729b"/><stop offset="0.9311" stop-color="#f8739c"/><stop offset="0.9352" stop-color="#f8739c"/><stop offset="0.9385" stop-color="#f8749d"/><stop offset="0.9412" stop-color="#f8759d"/><stop offset="0.9436" stop-color="#f8749d"/><stop offset="0.9455" stop-color="#f979a0"/><stop offset="0.9468" stop-color="#f97ca2"/><stop offset="0.9482" stop-color="#f980a5"/><stop offset="0.9495" stop-color="#f983a7"/><stop offset="0.9509" stop-color="#f986a9"/><stop offset="0.9522" stop-color="#f989ac"/><stop offset="0.9536" stop-color="#fa8dae"/><stop offset="0.9549" stop-color="#fa90b0"/><stop offset="0.9559" stop-color="#fa92b2"/><stop offset="1.0000" stop-color="#fa92b2"/></linearGradient>
<linearGradient id="g119"><stop offset="0.0000" stop-color="#fbb0c7"/><stop offset="0.1244" stop-color="#fbb1c8"/><stop offset="0.2519" stop-color="#fbb3c9"/><stop offset="0.3660" stop-color="#fbb4ca"/><stop offset="0.4667" stop-color="#fbb5ca"/><stop offset="0.5540" stop-color="#fbb4ca"/><stop offset="0.6278" stop-color="#fbb1c8"/><stop offset="0.6882" stop-color="#fbaec5"/><stop offset="0.7352" stop-color="#fba9c2"/><stop offset="0.7754" stop-color="#fba3bd"/><stop offset="0.8090" stop-color="#fa9bb8"/><stop offset="0.8358" stop-color="#fa93b2"/><stop offset="0.8573" stop-color="#f98bac"/><stop offset="0.8748" stop-color="#f983a7"/><stop offset="0.8895" stop-color="#f97ba1"/><stop offset="0.9016" stop-color="#f8749d"/><stop offset="0.9110" stop-color="#f87099"/><stop offset="0.9191" stop-color="#f86c97"/><stop offset="0.9258" stop-color="#f86b96"/><stop offset="0.9311" stop-color="#f86a95"/><stop offset="0.9352" stop-color="#f86a96"/><stop offset="0.9385" stop-color="#f86b96"/><stop offset="0.9436" stop-color="#f86b96"/><stop offset="0.9455" stop-color="#f8719a"/><stop offset="0.9468" stop-color="#f8759d"/><stop offset="0.9482" stop-color="#f97aa0"/><stop offset="0.9495" stop-color="#f97ea4"/><stop offset="0.9509" stop-color="#f982a7"/><stop offset="0.9522" stop-color="#f987aa"/><stop offset="0.9536" stop-color="#f98bad"/><stop offset="0.9549" stop-color="#fa8fb0"/><stop offset="0.9559" stop-color="#fa92b2"/><stop offset="1.0000" stop-color="#fa92b2"/></linearGradient>
<linearGradient id="g120"><stop offset="0.0000" stop-color="#fbb0c7"/><stop offset="0.1244" stop-color="#fbb2c8"/><stop offset="0.2519" stop-color="#fbb4ca"/><stop offset="0.3660" stop-color="#fbb5cb"/><stop offset="0.4667" stop-color="#fbb6cb"/><stop offset="0.5540" stop-color="#fbb5cb"/><stop offset="0.6278" stop-color="#fbb3c9"/><stop offset="0.6882" stop-color="#fbafc6"/><stop offset="0.7352" stop-color="#fbaac3"/><stop offset="0.7754" stop-color="#fba4bf"/><stop offset="0.8090" stop-color="#fa9cb9"/><stop offset="0.8358" stop-color="#fa94b3"/><stop offset="0.8573" stop-color="#f98bad"/><stop offset="0.8748" stop-color="#f983a7"/><stop offset="0.8895" stop-color="#f97aa1"/><stop offset="0.9016" stop-color="#f8729b"/><stop offset="0.9110" stop-color="#f86c97"/><stop offset="0.9191" stop-color="#f86793"/><stop offset="0.9258" stop-color="#f86391"/><stop offset="0.9311" stop-color="#f7628f"/><stop offset="0.9352" stop-color="#f7618f"/><stop offset="0.9412" stop-color="#f7618f"/><stop offset="0.9436" stop-color="#f76290"/><stop offset="0.9455" stop-color="#f86995"/><stop offset="0.9468" stop-color="#f86f99"/><stop offset="0.9482" stop-color="#f8749c"/><stop offset="0.9495" stop-color="#f979a0"/><stop offset="0.9509" stop-color="#f97fa4"/><stop offset="0.9522" stop-color="#f984a8"/><stop offset="0.9536" stop-color="#f989ac"/><stop offset="0.9549" stop-color="#fa8faf"/><stop offset="0.9559" stop-color="#fa93b2"/><stop offset="1.0000" stop-color="#fa93b2"/></linearGradient>
<linearGradient id="g121"><stop offset="0.0000" stop-color="#fbb1c8"/><stop offset="0.1244" stop-color="#fbb3c9"/><stop offset="0.2519" stop-color="#fbb5ca"/><stop offset="0.3660" stop-color="#fcb6cb"/><stop offset="0.4667" stop-color="#fcb7cc"/><stop offset="0.5540" stop-color="#fcb6cb"/><stop offset="0.6278" stop-color="#fbb4ca"/><stop offset="0.6882" stop-color="#fbb1c8"/><stop offset="0.7352" stop-color="#fbacc5"/><stop offset="0.7754" stop-color="#fba6c0"/><stop offset="0.8090" stop-color="#fa9fbb"/><stop offset="0.8358" stop-color="#fa96b5"/><stop offset="0.8573" stop-color="#fa8dae"/><stop offset="0.8748" stop-color="#f984a8"/><stop offset="0.8895" stop-color="#f97ba1"/><stop offset="0.9016" stop-color="#f8729b"/><stop offset="0.9110" stop-color="#f86a95"/><stop offset="0.9191" stop-color="#f86390"/><stop offset="0.9258" stop-color="#f75d8c"/><stop offset="0.9311" stop-color="#f75a8a"/><stop offset="0.9352" stop-color="#f75888"/><stop offset="0.9385" stop-color="#f75788"/><stop offset="0.9412" stop-color="#f75788"/><stop offset="0.9436" stop-color="#f75889"/><stop offset="0.9455" stop-color="#f7618f"/><stop offset="0.9468" stop-color="#f86894"/><stop offset="0.9482" stop-color="#f86e98"/><stop offset="0.9495" stop-color="#f8759d"/><stop offset="0.9509" stop-color="#f97ba1"/><stop offset="0.9522" stop-color="#f982a6"/><stop offset="0.9536" stop-color="#f988ab"/><stop offset="0.9549" stop-color="#fa8eaf"/><stop offset="0.9559" stop-color="#fa93b2"/><stop offset="1.0000" stop-color="#fa93b2"/></linearGradient>
<linearGradient id="g122"><stop offset="0.0000" stop-color="#fbb1c8"/><stop offset="0.1244" stop-color="#fbb3c9"/><stop offset="0.2519" stop-color="#fbb6cb"/><stop offset="0.3660" stop-color="#fcb7cc"/><stop offset="0.4667" stop-color="#fcb8cd"/><stop offset="0.5540" stop-color="#fcb8cd"/><stop offset="0.6278" stop-color="#fcb6cb"/><stop offset="0.6882" stop-color="#fbb3c9"/><stop offset="0.7352" stop-color="#fbafc6"/><stop offset="0.7754" stop-color="#fba9c2"/><stop offset="0.8090" stop-color="#fba1bd"/><stop offset="0.8358" stop-color="#fa99b7"/><stop offset="0.8573" stop-color="#fa90b0"/><stop offset="0.8748" stop-color="#f987aa"/><stop offset="0.8895" stop-color="#f97da3"/><stop offset="0.9016" stop-color="#f8739c"/><stop offset="0.9110" stop-color="#f86a95"/><stop offset="0.9191" stop-color="#f7618f"/><stop offset="0.9258" stop-color="#f7598a"/><stop offset="0.9311" stop-color="#f75385"/><stop offset="0.9352" stop-color="#f75083"/><stop offset="0.9385" stop-color="#f74d81"/><stop offset="0.9412" stop-color="#f64d81"/><stop offset="0.9436" stop-color="#f74e81"/><stop offset="0.9455" stop-color="#f75889"/><stop offset="0.9468" stop-color="#f7608e"/><stop offset="0.9482" stop-color="#f86894"/><stop offset="0.9495" stop-color="#f86f99"/><stop offset="0.9509" stop-color="#f8779f"/><stop offset="0.9522" stop-color="#f97fa4"/><stop offset="0.9536" stop-color="#f986a9"/><stop offset="0.9549" stop-color="#fa8eaf"/><stop offset="0.9559" stop-color="#fa93b3"/><stop offset="1.0000" stop-color="#fa93b3"/></linearGradient>
<linearGradient id="g123"><stop offset="0.0000" stop-color="#fbb2c9"/><stop offset="0.1244" stop-color="#fbb4ca"/><stop offset="0.2519" stop-color="#fcb6cc"/><stop offset="0.3660" stop-color="#fcb8cd"/><stop offset="0.4667" stop-color="#fcb9ce"/><stop offset="0.5540" stop-color="#fcb9ce"/><stop offset="0.6278" stop-color="#fcb8cd"/><stop offset="0.6882" stop-color="#fbb5cb"/><stop offset="0.7352" stop-color="#fbb1c8"/><stop offset="0.7754" stop-color="#fbacc4"/><stop offset="0.8090" stop-color="#fba5bf"/><stop offset="0.8358" stop-color="#fa9db9"/><stop offset="0.8573" stop-color="#fa94b3"/><stop offset="0.8748" stop-color="#f98bad"/><stop offset="0.8895" stop-color="#f980a5"/><stop offset="0.9016" stop-color="#f8769e"/><stop offset="0.9110" stop-color="#f86c97"/><stop offset="0.9191" stop-color="#f7618f"/><stop offset="0.9258" stop-color="#f75888"/><stop offset="0.9311" stop-color="#f74f83"/><stop offset="0.9352" stop-color="#f6497e"/><stop offset="0.9385" stop-color="#f6457b"/><stop offset="0.9412" stop-color="#f64379"/><stop offset="0.9436" stop-color="#f64279"/><stop offset="0.9455" stop-color="#f74e82"/><stop offset="0.9468" stop-color="#f75788"/><stop offset="0.9482" stop-color="#f7608f"/><stop offset="0.9495" stop-color="#f86995"/><stop offset="0.9509" stop-color="#f8729b"/><stop offset="0.9522" stop-color="#f97ca2"/><stop offset="0.9536" stop-color="#f985a8"/><stop offset="0.9549" stop-color="#fa8eaf"/><stop offset="0.9559" stop-color="#fa94b3"/><stop offset="1.0000" stop-color="#fa94b3"/></linearGradient>
<linearGradient id="g124"><stop offset="0.0000" stop-color="#fbb3c9"/><stop offset="0.1244" stop-color="#fbb5cb"/><stop offset="0.2519" stop-color="#fcb7cc"/><stop offset="0.3660" stop-color="#fcb9ce"/><stop offset="0.4667" stop-color="#fcbbcf"/><stop offset="0.5540" stop-color="#fcbbcf"/><stop offset="0.6278" stop-color="#fcbace"/><stop offset="0.6882" stop-color="#fcb8cd"/><stop offset="0.7352" stop-color="#fbb4ca"/><stop offset="0.7754" stop-color="#fbafc6"/><stop offset="0.8090" stop-color="#fba9c2"/><stop offset="0.8358" stop-color="#fba1bd"/><stop offset="0.8573" stop-color="#fa99b7"/><stop offset="0.8748" stop-color="#fa90b0"/><stop offset="0.8895" stop-color="#f986a9"/><stop offset="0.9016" stop-color="#f97ba1"/><stop offset="0.9110" stop-color="#f8709a"/><stop offset="0.9191" stop-color="#f86592"/><stop offset="0.9258" stop-color="#f7598a"/><stop offset="0.9311" stop-color="#f74f82"/><stop offset="0.9352" stop-color="#f6467c"/><stop offset="0.9385" stop-color="#f63f77"/><stop offset="0.9412" stop-color="#f63a73"/><stop offset="0.9436" stop-color="#f53671"/><stop offset="0.9455" stop-color="#f6447b"/><stop offset="0.9468" stop-color="#f74f82"/><stop offset="0.9482" stop-color="#f7598a"/><stop offset="0.9495" stop-color="#f86491"/><stop offset="0.9509" stop-color="#f86e98"/><stop offset="0.9522" stop-color="#f978a0"/><stop offset="0.9536" stop-color="#f983a7"/><stop offset="0.9549" stop-color="#fa8dae"/><stop offset="0.9559" stop-color="#fa94b4"/><stop offset="1.0000" stop-color="#fa94b4"/></linearGradient>
<linearGradient id="g125"><stop offset="0.0000" stop-color="#fbb4ca"/><stop offset="0.1244" stop-color="#fcb6cb"/><stop offset="0.2519" stop-color="#fcb8cd"/><stop offset="0.3660" stop-color="#fcbbce"/><stop offset="0.4667" stop-color="#fcbcd0"/><stop offset="0.5540" stop-color="#fcbdd0"/><stop offset="0.6278" stop-color="#fcbcd0"/><stop offset="0.6882" stop-color="#fcbace"/><stop offset="0.7352" stop-color="#fcb7cc"/><stop offset="0.7754" stop-color="#fbb3c9"/><stop offset="0.8090" stop-color="#fbadc5"/><stop offset="0.8358" stop-color="#fba6c0"/><stop offset="0.8573" stop-color="#fa9fbb"/><stop offset="0.8748" stop-color="#fa97b5"/><stop offset="0.8895" stop-color="#fa8dae"/><stop offset="0.9016" stop-color="#f982a7"/><stop offset="0.9110" stop-color="#f9789f"/><stop offset="0.9191" stop-color="#f86c97"/><stop offset="0.9258" stop-color="#f75f8e"/><stop offset="0.9311" stop-color="#f75385"/><stop offset="0.9352" stop-color="#f6487e"/><stop offset="0.9385" stop-color="#f63e76"/><stop offset="0.9412" stop-color="#f53670"/><stop offset="0.9436" stop-color="#f52e6b"/><stop offset="0.9455" stop-color="#f63d76"/><stop offset="0.9468" stop-color="#f6497e"/><stop offset="0.9482" stop-color="#f75486"/><stop offset="0.9495" stop-color="#f7608e"/><stop offset="0.9509" stop-color="#f86b96"/><stop offset="0.9522" stop-color="#f8769e"/><stop offset="0.9536" stop-color="#f982a6"/><stop offset="0.9549" stop-color="#fa8dae"/><stop offset="0.9559" stop-color="#fa95b4"/><stop offset="1.0000" stop-color="#fa95b4"/></linearGradient>
<linearGradient id="g126"><stop offset="0.0000" stop-color="#fbb4ca"/><stop offset="0.1244" stop-color="#fcb7cc"/><stop offset="0.2519" stop-color="#fcb9ce"/><stop offset="0.3660" stop-color="#fcbccf"/><stop offset="0.4667" stop-color="#fcbdd1"/><stop offset="0.5540" stop-color="#fcbed1"/><stop offset="0.6278" stop-color="#fcbed1"/><stop offset="0.6882" stop-color="#fcbdd0"/><stop offset="0.7352" stop-color="#fcbbcf"/><stop offset="0.7754" stop-color="#fcb7cc"/><stop offset="0.8090" stop-color="#fbb2c8"/><stop offset="0.8358" stop-color="#fbacc4"/><stop offset="0.8573" stop-color="#fba6c0"/><stop offset="0.8748" stop-color="#fa9eba"/><stop offset="0.8895" stop-color="#fa96b4"/><stop offset="0.9016" stop-color="#fa8cae"/><stop offset="0.9110" stop-color="#f982a6"/><stop offset="0.9191" stop-color="#f8769e"/><stop offset="0.9258" stop-color="#f86a95"/><stop offset="0.9311" stop-color="#f75d8c"/><stop offset="0.9352" stop-color="#f75184"/><stop offset="0.9385" stop-color="#f6457b"/><stop offset="0.9412" stop-color="#f63973"/><stop offset="0.9436" stop-color="#f52d6a"/><stop offset="0.9455" stop-color="#f63d76"/><stop offset="0.9468" stop-color="#f6497e"/><stop offset="0.9482" stop-color="#f75486"/><stop offset="0.9495" stop-color="#f7608e"/><stop offset="0.9509" stop-color="#f86b96"/><stop offset="0.9522" stop-color="#f8779e"/><stop offset="0.9536" stop-color="#f982a7"/><stop offset="0.9549" stop-color="#fa8eaf"/><stop offset="0.9559" stop-color="#fa96b4"/><stop offset="1.0000" stop-color="#fa96b4"/></linearGradient>
<linearGradient id="g127"><stop offset="0.0000" stop-color="#fbb5cb"/><stop offset="0.1244" stop-color="#fcb8cc"/><stop offset="0.2519" stop-color="#fcbace"/><stop offset="0.3660" stop-color="#fcbdd0"/><stop offset="0.4667" stop-color="#fcbfd2"/><stop offset="0.5540" stop-color="#fcc0d3"/><stop offset="0.6278" stop-color="#fcc1d3"/><stop offset="0.6882" stop-color="#fcc0d2"/><stop offset="0.7352" stop-color="#fcbed1"/><stop offset="0.7754" stop-color="#fcbbcf"/><stop offset="0.8090" stop-color="#fcb7cc"/><stop offset="0.8358" stop-color="#fbb3c9"/><stop offset="0.8573" stop-color="#fbadc5"/><stop offset="0.8748" stop-color="#fba7c1"/><stop offset="0.8895" stop-color="#faa0bc"/><stop offset="0.9016" stop-color="#fa98b6"/><stop offset="0.9110" stop-color="#fa8fb0"/><stop offset="0.9191" stop-color="#f985a8"/><stop offset="0.9258" stop-color="#f979a0"/><stop offset="0.9311" stop-color="#f86d97"/><stop offset="0.9352" stop-color="#f7618f"/><stop offset="0.9385" stop-color="#f75486"/><stop offset="0.9412" stop-color="#f6487d"/><stop offset="0.9436" stop-color="#f63a73"/><stop offset="0.9455" stop-color="#f6487d"/><stop offset="0.9468" stop-color="#f75284"/><stop offset="0.9482" stop-color="#f75c8c"/><stop offset="0.9495" stop-color="#f86693"/><stop offset="0.9509" stop-color="#f8719a"/><stop offset="0.9522" stop-color="#f97ba1"/><stop offset="0.9536" stop-color="#f985a9"/><stop offset="0.9549" stop-color="#fa8fb0"/><stop offset="0.9559" stop-color="#fa96b5"/><stop offset="1.0000" stop-color="#fa96b5"/></linearGradient>
<linearGradient id="g128"><stop offset="0.0000" stop-color="#fbb6cb"/><stop offset="0.1244" stop-color="#fcb8cd"/><stop offset="0.2519" stop-color="#fcbbcf"/><stop offset="0.3660" stop-color="#fcbed1"/><stop offset="0.4667" stop-color="#fcc0d2"/><stop offset="0.5540" stop-color="#fcc2d4"/><stop offset="0.6278" stop-color="#fcc3d4"/><stop offset="0.6882" stop-color="#fcc3d4"/><stop offset="0.7352" stop-color="#fcc2d3"/><stop offset="0.7754" stop-color="#fcc0d2"/><stop offset="0.8090" stop-color="#fcbdd0"/><stop offset="0.8358" stop-color="#fcb9ce"/><stop offset="0.8573" stop-color="#fbb5cb"/><stop offset="0.8748" stop-color="#fbb1c7"/><stop offset="0.8895" stop-color="#fbabc4"/><stop offset="0.9016" stop-color="#fba5bf"/><stop offset="0.9110" stop-color="#fa9eba"/><stop offset="0.9191" stop-color="#fa96b5"/><stop offset="0.9258" stop-color="#fa8dae"/><stop offset="0.9311" stop-color="#f983a7"/><stop offset="0.9352" stop-color="#f979a0"/><stop offset="0.9385" stop-color="#f86e98"/><stop offset="0.9412" stop-color="#f76290"/><stop offset="0.9436" stop-color="#f75587"/><stop offset="0.9455" stop-color="#f75f8e"/><stop offset="0.9468" stop-color="#f86693"/><stop offset="0.9482" stop-color="#f86e98"/><stop offset="0.9495" stop-color="#f8759d"/><stop offset="0.9509" stop-color="#f97ca2"/><stop offset="0.9522" stop-color="#f983a7"/><stop offset="0.9536" stop-color="#f98bad"/><stop offset="0.9549" stop-color="#fa92b2"/><stop offset="0.9559" stop-color="#fa97b5"/><stop offset="1.0000" stop-color="#fa97b5"/></linearGradient>
<linearGradient id="g129"><stop offset="0.0000" stop-color="#fcb7cc"/><stop offset="0.1244" stop-color="#fcb9ce"/><stop offset="0.2519" stop-color="#fcbcd0"/><stop offset="0.3660" stop-color="#fcbfd2"/><stop offset="0.4667" stop-color="#fcc2d4"/><stop offset="0.5540" stop-color="#fcc4d5"/><stop offset="0.6278" stop-color="#fcc5d6"/><stop offset="0.6882" stop-color="#fcc6d6"/><stop offset="0.7352" stop-color="#fcc5d6"/><stop offset="0.7754" stop-color="#fcc4d5"/><stop offset="0.8090" stop-color="#fcc3d4"/><stop offset="0.8358" stop-color="#fcc0d3"/><stop offset="0.8573" stop-color="#fcbed1"/><stop offset="0.8748" stop-color="#fcbbcf"/><stop offset="0.8895" stop-color="#fcb8cc"/><stop offset="0.9016" stop-color="#fbb4ca"/><stop offset="0.9110" stop-color="#fbafc6"/><stop offset="0.9191" stop-color="#fbaac3"/><stop offset="0.9258" stop-color="#fba4bf"/><stop offset="0.9311" stop-color="#fa9dba"/><stop offset="0.9352" stop-color="#fa97b5"/><stop offset="0.9385" stop-color="#fa8fb0"/><stop offset="0.9412" stop-color="#f988ab"/><stop offset="0.9436" stop-color="#f97fa4"/><stop offset="0.9455" stop-color="#f983a7"/><stop offset="0.9468" stop-color="#f986a9"/><stop offset="0.9482" stop-color="#f988ab"/><stop offset="0.9495" stop-color="#f98bad"/><stop offset="0.9509" stop-color="#fa8eaf"/><stop offset="0.9522" stop-color="#fa91b1"/><stop offset="0.9536" stop-color="#fa93b3"/><stop offset="0.9549" stop-color="#fa96b5"/><stop offset="0.9559" stop-color="#fa98b6"/><stop offset="1.0000" stop-color="#fa98b6"/></linearGradient>
<linearGradient id="g130"><stop offset="0.0000" stop-color="#fcb7cc"/><stop offset="0.1244" stop-color="#fcbace"/><stop offset="0.2519" stop-color="#fcbdd0"/><stop offset="0.3660" stop-color="#fcc0d3"/><stop offset="0.4667" stop-color="#fcc3d5"/><stop offset="0.5540" stop-color="#fcc6d6"/><stop offset="0.6278" stop-color="#fcc8d8"/><stop offset="0.6882" stop-color="#fcc9d9"/><stop offset="0.8090" stop-color="#fcc9d9"/><stop offset="0.8358" stop-color="#fcc8d8"/><stop offset="0.8573" stop-color="#fcc7d7"/><stop offset="0.8748" stop-color="#fcc6d7"/><stop offset="0.8895" stop-color="#fcc5d6"/><stop offset="0.9016" stop-color="#fcc3d5"/><stop offset="0.9110" stop-color="#fcc2d4"/><stop offset="0.9191" stop-color="#fcc0d2"/><stop offset="0.9258" stop-color="#fcbed1"/><stop offset="0.9311" stop-color="#fcbccf"/><stop offset="0.9352" stop-color="#fcb9ce"/><stop offset="0.9385" stop-color="#fcb7cc"/><stop offset="0.9412" stop-color="#fbb5cb"/><stop offset="0.9436" stop-color="#fbb3c9"/><stop offset="0.9455" stop-color="#fbafc6"/><stop offset="0.9468" stop-color="#fbacc4"/><stop offset="0.9482" stop-color="#fba9c2"/><stop offset="0.9495" stop-color="#fba6c0"/><stop offset="0.9509" stop-color="#fba3be"/><stop offset="0.9522" stop-color="#faa0bc"/><stop offset="0.9536" stop-color="#fa9eba"/><stop offset="0.9549" stop-color="#fa9bb8"/><stop offset="0.9559" stop-color="#fa99b7"/><stop offset="1.0000" stop-color="#fa99b7"/></linearGradient>
<linearGradient id="g131"><stop offset="0.0000" stop-color="#fcb8cd"/><stop offset="0.1244" stop-color="#fcbbcf"/><stop offset="0.2519" stop-color="#fcbed1"/><stop offset="0.3660" stop-color="#fcc2d3"/><stop offset="0.4667" stop-color="#fcc5d6"/><stop offset="0.5540" stop-color="#fcc8d8"/><stop offset="0.6278" stop-color="#fccad9"/><stop offset="0.6882" stop-color="#fdccdb"/><stop offset="0.7352" stop-color="#fdcddc"/><stop offset="0.7754" stop-color="#fdcedc"/><stop offset="0.8090" stop-color="#fdcfdd"/><stop offset="0.8358" stop-color="#fdd0dd"/><stop offset="0.8573" stop-color="#fdd0de"/><stop offset="0.8748" stop-color="#fdd1de"/><stop offset="0.8895" stop-color="#fdd2df"/><stop offset="0.9016" stop-color="#fdd3e0"/><stop offset="0.9110" stop-color="#fdd5e1"/><stop offset="0.9191" stop-color="#fdd6e2"/><stop offset="0.9258" stop-color="#fdd8e4"/><stop offset="0.9311" stop-color="#fddbe5"/><stop offset="0.9352" stop-color="#fddde7"/><stop offset="0.9385" stop-color="#fee1e9"/><stop offset="0.9412" stop-color="#fee4ec"/><stop offset="0.9436" stop-color="#fee9ef"/><stop offset="0.9455" stop-color="#fddde7"/><stop offset="0.9468" stop-color="#fdd4e1"/><stop offset="0.9482" stop-color="#fdcbda"/><stop offset="0.9495" stop-color="#fcc3d4"/><stop offset="0.9509" stop-color="#fcbace"/><stop offset="0.9522" stop-color="#fbb1c8"/><stop offset="0.9536" stop-color="#fba9c2"/><stop offset="0.9549" stop-color="#faa0bc"/><stop offset="0.9559" stop-color="#fa9ab7"/><stop offset="1.0000" stop-color="#fa9ab7"/></linearGradient>
<linearGradient id="g132"><stop offset="0.0000" stop-color="#fcb9ce"/><stop offset="0.1244" stop-color="#fcbcd0"/><stop offset="0.2519" stop-color="#fcc0d2"/><stop offset="0.3660" stop-color="#fcc3d4"/><stop offset="0.4667" stop-color="#fcc6d7"/><stop offset="0.5540" stop-color="#fccad9"/><stop offset="0.6278" stop-color="#fdcddb"/><stop offset="0.6882" stop-color="#fdcfdd"/><stop offset="0.7352" stop-color="#fdd1df"/><stop offset="0.7754" stop-color="#fdd3e0"/><stop offset="0.8090" stop-color="#fdd5e1"/><stop offset="0.8358" stop-color="#fdd7e3"/><stop offset="0.8573" stop-color="#fddae5"/><stop offset="0.8748" stop-color="#fddce6"/><stop offset="0.8895" stop-color="#fddfe9"/><stop offset="0.9016" stop-color="#fee3eb"/><stop offset="0.9110" stop-color="#fee7ee"/><stop offset="0.9191" stop-color="#feecf2"/><stop offset="0.9258" stop-color="#fef2f6"/><stop offset="0.9311" stop-color="#fff9fb"/><stop offset="0.9352" stop-color="#fefeff"/><stop offset="0.9385" stop-color="#faf6fe"/><stop offset="0.9412" stop-color="#f5edfd"/><stop offset="0.9436" stop-color="#efe2fb"/><stop offset="0.9455" stop-color="#fbf7fe"/><stop offset="0.9468" stop-color="#fff8fa"/><stop offset="0.9482" stop-color="#feeaf0"/><stop offset="0.9495" stop-color="#fddce7"/><stop offset="0.9509" stop-color="#fdcfdd"/><stop offset="0.9522" stop-color="#fcc1d3"/><stop offset="0.9536" stop-color="#fbb3c9"/><stop offset="0.9549" stop-color="#fba5bf"/><stop offset="0.9559" stop-color="#fa9bb8"/><stop offset="1.0000" stop-color="#fa9bb8"/></linearGradient>
<linearGradient id="g133"><stop offset="0.0000" stop-color="#fcbace"/><stop offset="0.1244" stop-color="#fcbdd0"/><stop offset="0.2519" stop-color="#fcc1d3"/><stop offset="0.3660" stop-color="#fcc4d5"/><stop offset="0.4667" stop-color="#fcc8d8"/><stop offset="0.5540" stop-color="#fdccdb"/><stop offset="0.6278" stop-color="#fdcfdd"/><stop offset="0.6882" stop-color="#fdd2df"/><stop offset="0.7352" stop-color="#fdd5e1"/><stop offset="0.7754" stop-color="#fdd8e4"/><stop offset="0.8090" stop-color="#fddce6"/><stop offset="0.8358" stop-color="#fddfe8"/><stop offset="0.8573" stop-color="#fee3eb"/><stop offset="0.8748" stop-color="#fee7ee"/><stop offset="0.8895" stop-color="#feecf2"/><stop offset="0.9016" stop-color="#fef2f6"/><stop offset="0.9110" stop-color="#fff9fb"/><stop offset="0.9191" stop-color="#fefdff"/><stop offset="0.9258" stop-color="#f8f3fe"/><stop offset="0.9311" stop-color="#f2e8fc"/><stop offset="0.9352" stop-color="#eddefb"/><stop offset="0.9385" stop-color="#e6d2fa"/><stop offset="0.9412" stop-color="#e0c6f8"/><stop offset="0.9436" stop-color="#d9b9f6"/><stop offset="0.9455" stop-color="#e8d4fa"/><stop offset="0.9468" stop-color="#f2e8fc"/><stop offset="0.9482" stop-color="#fdfbff"/><stop offset="0.9495" stop-color="#fef1f5"/><stop offset="0.9509" stop-color="#fddfe8"/><stop offset="0.9522" stop-color="#fdcddb"/><stop offset="0.9536" stop-color="#fcbbcf"/><stop offset="0.9549" stop-color="#fba9c2"/><stop offset="0.9559" stop-color="#fa9cb9"/><stop offset="1.0000" stop-color="#fa9cb9"/></linearGradient>
<linearGradient id="g134"><stop offset="0.0000" stop-color="#fcbccf"/><stop offset="0.1244" stop-color="#fcbed1"/><stop offset="0.2519" stop-color="#fcc2d4"/><stop offset="0.3660" stop-color="#fcc6d6"/><stop offset="0.4667" stop-color="#fccad9"/><stop offset="0.5540" stop-color="#fdcedc"/><stop offset="0.6278" stop-color="#fdd2df"/><stop offset="0.6882" stop-color="#fdd5e2"/><stop offset="0.7352" stop-color="#fdd9e4"/><stop offset="0.7754" stop-color="#fddde7"/><stop offset="0.8090" stop-color="#fee2ea"/><stop offset="0.8358" stop-color="#fee6ee"/><stop offset="0.8573" stop-color="#feecf1"/><stop offset="0.8748" stop-color="#fef1f5"/><stop offset="0.8895" stop-color="#fff8fa"/><stop offset="0.9016" stop-color="#fefeff"/><stop offset="0.9110" stop-color="#f9f4fe"/><stop offset="0.9191" stop-color="#f3e9fc"/><stop offset="0.9258" stop-color="#ecddfb"/><stop offset="0.9311" stop-color="#e5d0f9"/><stop offset="0.9352" stop-color="#dfc4f8"/><stop offset="0.9385" stop-color="#d8b7f6"/><stop offset="0.9412" stop-color="#d1abf5"/><stop offset="0.9436" stop-color="#ca9ef3"/><stop offset="0.9455" stop-color="#dbbdf7"/><stop offset="0.9468" stop-color="#e7d4fa"/><stop offset="0.9482" stop-color="#f3eafc"/><stop offset="0.9495" stop-color="#fffefe"/><stop offset="0.9509" stop-color="#fee9f0"/><stop offset="0.9522" stop-color="#fdd5e1"/><stop offset="0.9536" stop-color="#fcc0d3"/><stop offset="0.9549" stop-color="#fbacc4"/><stop offset="0.9559" stop-color="#fa9dba"/><stop offset="1.0000" stop-color="#fa9dba"/></linearGradient>
<linearGradient id="g135"><stop offset="0.0000" stop-color="#fcbdd0"/><stop offset="0.1244" stop-color="#fcc0d2"/><stop offset="0.2519" stop-color="#fcc3d5"/><stop offset="0.3660" stop-color="#fcc7d7"/><stop offset="0.4667" stop-color="#fdcbda"/><stop offset="0.5540" stop-color="#fdcfdd"/><stop offset="0.6278" stop-color="#fdd4e0"/><stop offset="0.6882" stop-color="#fdd8e4"/><stop offset="0.7352" stop-color="#fddde7"/><stop offset="0.7754" stop-color="#fee2ea"/><stop offset="0.8090" stop-color="#fee7ee"/><stop offset="0.8358" stop-color="#feedf2"/><stop offset="0.8573" stop-color="#fef4f7"/><stop offset="0.8748" stop-color="#fffbfc"/><stop offset="0.8895" stop-color="#fdfafe"/><stop offset="0.9016" stop-color="#f7f0fd"/><stop offset="0.9110" stop-color="#f1e6fc"/><stop offset="0.9191" stop-color="#ead9fa"/><stop offset="0.9258" stop-color="#e3ccf9"/><stop offset="0.9311" stop-color="#dbbef7"/><stop offset="0.9352" stop-color="#d5b2f6"/><stop offset="0.9385" stop-color="#cea6f4"/><stop offset="0.9412" stop-color="#c89bf3"/><stop offset="0.9436" stop-color="#c391f2"/><stop offset="0.9455" stop-color="#d5b2f6"/><stop offset="0.9468" stop-color="#e2c9f8"/><stop offset="0.9482" stop-color="#efe1fb"/><stop offset="0.9495" stop-color="#fbf8fe"/><stop offset="0.9509" stop-color="#feeff4"/><stop offset="0.9522" stop-color="#fdd9e4"/><stop offset="0.9536" stop-color="#fcc4d5"/><stop offset="0.9549" stop-color="#fbaec6"/><stop offset="0.9559" stop-color="#fa9fbb"/><stop offset="1.0000" stop-color="#fa9fbb"/></linearGradient>
<linearGradient id="g136"><stop offset="0.0000" stop-color="#fcbed1"/><stop offset="0.1244" stop-color="#fcc1d3"/><stop offset="0.2519" stop-color="#fcc4d5"/><stop offset="0.3660" stop-color="#fcc8d8"/><stop offset="0.4667" stop-color="#fdcddb"/><stop offset="0.5540" stop-color="#fdd1df"/><stop offset="0.6278" stop-color="#fdd6e2"/><stop offset="0.6882" stop-color="#fddbe6"/><stop offset="0.7352" stop-color="#fee1e9"/><stop offset="0.7754" stop-color="#fee6ee"/><stop offset="0.8090" stop-color="#feedf2"/><stop offset="0.8358" stop-color="#fef4f7"/><stop offset="0.8573" stop-color="#fffbfc"/><stop offset="0.8748" stop-color="#fcfafe"/><stop offset="0.8895" stop-color="#f7f0fd"/><stop offset="0.9016" stop-color="#f1e5fc"/><stop offset="0.9110" stop-color="#ebdafa"/><stop offset="0.9191" stop-color="#e4cdf9"/><stop offset="0.9258" stop-color="#dcc0f7"/><stop offset="0.9311" stop-color="#d5b3f6"/><stop offset="0.9352" stop-color="#cfa7f4"/><stop offset="0.9385" stop-color="#c99df3"/><stop offset="0.9412" stop-color="#c595f2"/><stop offset="0.9436" stop-color="#c18ef1"/><stop offset="0.9455" stop-color="#d3aff5"/><stop offset="0.9468" stop-color="#e0c7f8"/><stop offset="0.9482" stop-color="#eddefb"/><stop offset="0.9495" stop-color="#faf6fe"/><stop offset="0.9509" stop-color="#fef1f5"/><stop offset="0.9522" stop-color="#fddbe6"/><stop offset="0.9536" stop-color="#fcc5d6"/><stop offset="0.9549" stop-color="#fbafc7"/><stop offset="0.9559" stop-color="#faa0bc"/><stop offset="1.0000" stop-color="#faa0bc"/></linearGradient>
<linearGradient id="g137"><stop offset="0.0000" stop-color="#fcbfd1"/><stop offset="0.1244" stop-color="#fcc2d3"/><stop offset="0.2519" stop-color="#fcc5d6"/><stop offset="0.3660" stop-color="#fcc9d9"/><stop offset="0.4667" stop-color="#fdcedc"/><stop offset="0.5540" stop-color="#fdd3e0"/><stop offset="0.6278" stop-color="#fdd8e4"/><stop offset="0.6882" stop-color="#fddee8"/><stop offset="0.7352" stop-color="#fee4ec"/><stop offset="0.7754" stop-color="#feeaf0"/><stop offset="0.8090" stop-color="#fef2f6"/><stop offset="0.8358" stop-color="#fffafb"/><stop offset="0.8573" stop-color="#fdfcff"/><stop offset="0.8748" stop-color="#f8f2fd"/><stop offset="0.8895" stop-color="#f2e8fc"/><stop offset="0.9016" stop-color="#ecdcfb"/><stop offset="0.9110" stop-color="#e6d1f9"/><stop offset="0.9191" stop-color="#dfc5f8"/><stop offset="0.9258" stop-color="#d8b8f6"/><stop offset="0.9311" stop-color="#d2adf5"/><stop offset="0.9352" stop-color="#cda4f4"/><stop offset="0.9385" stop-color="#c89cf3"/><stop offset="0.9412" stop-color="#c596f2"/><stop offset="0.9436" stop-color="#c391f2"/><stop offset="0.9455" stop-color="#d5b2f6"/><stop offset="0.9468" stop-color="#e1c9f8"/><stop offset="0.9482" stop-color="#eee0fb"/><stop offset="0.9495" stop-color="#fbf7fe"/><stop offset="0.9509" stop-color="#fef1f5"/><stop offset="0.9522" stop-color="#fddbe6"/><stop offset="0.9536" stop-color="#fcc6d6"/><stop offset="0.9549" stop-color="#fbb0c7"/><stop offset="0.9559" stop-color="#fba1bd"/><stop offset="1.0000" stop-color="#fba1bd"/></linearGradient>
<linearGradient id="g138"><stop offset="0.0000" stop-color="#fcbfd2"/><stop offset="0.1244" stop-color="#fcc2d4"/><stop offset="0.2519" stop-color="#fcc6d7"/><stop offset="0.3660" stop-color="#fccada"/><stop offset="0.4667" stop-color="#fdcfdd"/><stop offset="0.5540" stop-color="#fdd4e1"/><stop offset="0.6278" stop-color="#fddae5"/><stop offset="0.6882" stop-color="#fee0e9"/><stop offset="0.7352" stop-color="#fee7ee"/><stop offset="0.7754" stop-color="#feeef3"/><stop offset="0.8090" stop-color="#fff6f9"/><stop offset="0.8358" stop-color="#ffffff"/><stop offset="0.8573" stop-color="#faf6fe"/><stop offset="0.8748" stop-color="#f4ecfd"/><stop offset="0.8895" stop-color="#eee1fb"/><stop offset="0.9016" stop-color="#e8d5fa"/><stop offset="0.9110" stop-color="#e2cbf9"/><stop offset="0.9191" stop-color="#dcc0f7"/><stop offset="0.9258" stop-color="#d7b5f6"/><stop offset="0.9311" stop-color="#d2acf5"/><stop offset="0.9352" stop-color="#cea5f4"/><stop offset="0.9385" stop-color="#cba0f3"/><stop offset="0.9412" stop-color="#c89bf3"/><stop offset="0.9436" stop-color="#c798f2"/><stop offset="0.9455" stop-color="#d8b8f6"/><stop offset="0.9468" stop-color="#e4cef9"/><stop offset="0.9482" stop-color="#f0e4fc"/><stop offset="0.9495" stop-color="#fcfafe"/><stop offset="0.9509" stop-color="#feeff3"/><stop offset="0.9522" stop-color="#fddae5"/><stop offset="0.9536" stop-color="#fcc5d6"/><stop offset="0.9549" stop-color="#fbb1c8"/><stop offset="0.9559" stop-color="#fba2bd"/><stop offset="1.0000" stop-color="#fba2bd"/></linearGradient>
<linearGradient id="g139"><stop offset="0.0000" stop-color="#fcc0d3"/><stop offset="0.1244" stop-color="#fcc3d5"/><stop offset="0.2519" stop-color="#fcc7d7"/><stop offset="0.3660" stop-color="#fdccdb"/><stop offset="0.4667" stop-color="#fdd0de"/><stop offset="0.5540" stop-color="#fdd6e2"/><stop offset="0.6278" stop-color="#fddce6"/><stop offset="0.6882" stop-color="#fee3eb"/><stop offset="0.7352" stop-color="#feeaf0"/><stop offset="0.7754" stop-color="#fef2f6"/><stop offset="0.8090" stop-color="#fffafc"/><stop offset="0.8358" stop-color="#fcfafe"/><stop offset="0.8573" stop-color="#f7f0fd"/><stop offset="0.8748" stop-color="#f1e6fc"/><stop offset="0.8895" stop-color="#ebdbfb"/><stop offset="0.9016" stop-color="#e6d1f9"/><stop offset="0.9110" stop-color="#e0c7f8"/><stop offset="0.9191" stop-color="#dbbef7"/><stop offset="0.9258" stop-color="#d7b6f6"/><stop offset="0.9311" stop-color="#d3aff5"/><stop offset="0.9352" stop-color="#d1abf5"/><stop offset="0.9385" stop-color="#cfa7f4"/><stop offset="0.9412" stop-color="#cda5f4"/><stop offset="0.9436" stop-color="#cca2f4"/><stop offset="0.9455" stop-color="#dcc0f7"/><stop offset="0.9468" stop-color="#e8d5fa"/><stop offset="0.9482" stop-color="#f3eafc"/><stop offset="0.9495" stop-color="#ffffff"/><stop offset="0.9509" stop-color="#feecf1"/><stop offset="0.9522" stop-color="#fdd8e4"/><stop offset="0.9536" stop-color="#fcc5d6"/><stop offset="0.9549" stop-color="#fbb1c8"/><stop offset="0.9559" stop-color="#fba4be"/><stop offset="1.0000" stop-color="#fba4be"/></linearGradient>
<linearGradient id="g140"><stop offset="0.0000" stop-color="#fcc2d3"/><stop offset="0.1244" stop-color="#fcc5d6"/><stop offset="0.2519" stop-color="#fcc8d8"/><stop offset="0.3660" stop-color="#fdcddb"/><stop offset="0.4667" stop-color="#fdd2df"/><stop offset="0.5540" stop-color="#fdd7e3"/><stop offset="0.6278" stop-color="#fddee8"/><stop offset="0.6882" stop-color="#fee5ed"/><stop offset="0.7352" stop-color="#feecf2"/><stop offset="0.7754" stop-color="#fff5f8"/><stop offset="0.8090" stop-color="#fffefe"/><stop offset="0.8358" stop-color="#faf6fe"/><stop offset="0.8573" stop-color="#f5ecfd"/><stop offset="0.8748" stop-color="#efe2fb"/><stop offset="0.8895" stop-color="#e9d8fa"/><stop offset="0.9016" stop-color="#e4cef9"/><stop offset="0.9110" stop-color="#e0c6f8"/><stop offset="0.9191" stop-color="#dcbff7"/><stop offset="0.9258" stop-color="#d9b9f7"/><stop offset="0.9311" stop-color="#d7b5f6"/><stop offset="0.9352" stop-color="#d5b3f6"/><stop offset="0.9385" stop-color="#d4b1f5"/><stop offset="0.9412" stop-color="#d3b0f5"/><stop offset="0.9436" stop-color="#d3aef5"/><stop offset="0.9455" stop-color="#e2caf8"/><stop offset="0.9468" stop-color="#ecddfb"/><stop offset="0.9482" stop-color="#f7f1fd"/><stop offset="0.9495" stop-color="#fffafc"/><stop offset="0.9509" stop-color="#fee8ef"/><stop offset="0.9522" stop-color="#fdd6e2"/><stop offset="0.9536" stop-color="#fcc4d5"/><stop offset="0.9549" stop-color="#fbb2c8"/><stop offset="0.9559" stop-color="#fba5bf"/><stop offset="1.0000" stop-color="#fba5bf"/></linearGradient>
<linearGradient id="g141"><stop offset="0.0000" stop-color="#fcc3d4"/><stop offset="0.1244" stop-color="#fcc5d6"/><stop offset="0.2519" stop-color="#fcc9d9"/><stop offset="0.3660" stop-color="#fdcedc"/><stop offset="0.4667" stop-color="#fdd3e0"/><stop offset="0.5540" stop-color="#fdd9e4"/><stop offset="0.6278" stop-color="#fddfe9"/><stop offset="0.6882" stop-color="#fee7ee"/><stop offset="0.7352" stop-color="#feeff3"/><stop offset="0.7754" stop-color="#fff7fa"/><stop offset="0.8090" stop-color="#fefdff"/><stop offset="0.8358" stop-color="#f8f3fe"/><stop offset="0.8573" stop-color="#f3e9fc"/><stop offset="0.8748" stop-color="#eddffb"/><stop offset="0.8895" stop-color="#e8d6fa"/><stop offset="0.9016" stop-color="#e4cdf9"/><stop offset="0.9110" stop-color="#e0c7f8"/><stop offset="0.9191" stop-color="#ddc2f8"/><stop offset="0.9258" stop-color="#dcbef7"/><stop offset="0.9311" stop-color="#dbbdf7"/><stop offset="0.9352" stop-color="#dabcf7"/><stop offset="0.9436" stop-color="#dabcf7"/><stop offset="0.9455" stop-color="#e8d5fa"/><stop offset="0.9468" stop-color="#f2e7fc"/><stop offset="0.9482" stop-color="#fcf9fe"/><stop offset="0.9495" stop-color="#fef4f7"/><stop offset="0.9509" stop-color="#fee4ec"/><stop offset="0.9522" stop-color="#fdd3e0"/><stop offset="0.9536" stop-color="#fcc3d4"/><stop offset="0.9549" stop-color="#fbb2c9"/><stop offset="0.9559" stop-color="#fba7c0"/><stop offset="1.0000" stop-color="#fba7c0"/></linearGradient>
<linearGradient id="g142"><stop offset="0.0000" stop-color="#fcc3d5"/><stop offset="0.1244" stop-color="#fcc6d7"/><stop offset="0.2519" stop-color="#fccada"/><stop offset="0.3660" stop-color="#fdcfdd"/><stop offset="0.4667" stop-color="#fdd4e0"/><stop offset="0.5540" stop-color="#fddae5"/><stop offset="0.6278" stop-color="#fee1ea"/><stop offset="0.6882" stop-color="#fee8ef"/><stop offset="0.7352" stop-color="#fef0f5"/><stop offset="0.7754" stop-color="#fff9fb"/><stop offset="0.8090" stop-color="#fdfbfe"/><stop offset="0.8358" stop-color="#f7f0fd"/><stop offset="0.8573" stop-color="#f2e7fc"/><stop offset="0.8748" stop-color="#edddfb"/><stop offset="0.8895" stop-color="#e8d5fa"/><stop offset="0.9016" stop-color="#e4cef9"/><stop offset="0.9110" stop-color="#e1c9f8"/><stop offset="0.9191" stop-color="#e0c6f8"/><stop offset="0.9258" stop-color="#dfc5f8"/><stop offset="0.9311" stop-color="#dfc5f8"/><stop offset="0.9352" stop-color="#e0c6f8"/><stop offset="0.9385" stop-color="#e0c7f8"/><stop offset="0.9412" stop-color="#e1c9f8"/><stop offset="0.9436" stop-color="#e2caf9"/><stop offset="0.9455" stop-color="#eee1fb"/><stop offset="0.9468" stop-color="#f7f1fd"/><stop offset="0.9482" stop-color="#fffdfe"/><stop offset="0.9495" stop-color="#feeef3"/><stop offset="0.9509" stop-color="#fddfe8"/><stop offset="0.9522" stop-color="#fdd0de"/><stop offset="0.9536" stop-color="#fcc1d3"/><stop offset="0.9549" stop-color="#fbb2c9"/><stop offset="0.9559" stop-color="#fba8c1"/><stop offset="1.0000" stop-color="#fba8c1"/></linearGradient>
<linearGradient id="g143"><stop offset="0.0000" stop-color="#fcc4d5"/><stop offset="0.1244" stop-color="#fcc7d7"/><stop offset="0.2519" stop-color="#fccbda"/><stop offset="0.3660" stop-color="#fdcfdd"/><stop offset="0.4667" stop-color="#fdd4e1"/><stop offset="0.5540" stop-color="#fddae5"/><stop offset="0.6278" stop-color="#fee1ea"/><stop offset="0.6882" stop-color="#fee9f0"/><stop offset="0.7352" stop-color="#fef1f5"/><stop offset="0.7754" stop-color="#fffbfc"/><stop offset="0.8090" stop-color="#fcf9fe"/><stop offset="0.8358" stop-color="#f6effd"/><stop offset="0.8573" stop-color="#f1e6fc"/><stop offset="0.8748" stop-color="#ecddfb"/><stop offset="0.8895" stop-color="#e8d5fa"/><stop offset="0.9016" stop-color="#e5d0f9"/><stop offset="0.9110" stop-color="#e3ccf9"/><stop offset="0.9191" stop-color="#e2caf9"/><stop offset="0.9258" stop-color="#e2caf9"/><stop offset="0.9311" stop-color="#e3cbf9"/><stop offset="0.9352" stop-color="#e4cef9"/><stop offset="0.9385" stop-color="#e5d0f9"/><stop offset="0.9412" stop-color="#e7d2fa"/><stop offset="0.9436" stop-color="#e8d5fa"/><stop offset="0.9455" stop-color="#f3eafc"/><stop offset="0.9468" stop-color="#fcf9fe"/><stop offset="0.9482" stop-color="#fff7f9"/><stop offset="0.9495" stop-color="#fee9f0"/><stop offset="0.9509" stop-color="#fddce6"/><stop offset="0.9522" stop-color="#fdcedc"/><stop offset="0.9536" stop-color="#fcc0d2"/><stop offset="0.9549" stop-color="#fbb2c9"/><stop offset="0.9559" stop-color="#fba9c2"/><stop offset="1.0000" stop-color="#fba9c2"/></linearGradient>
<clipPath id="hc"><rect x="326" y="116" width="745" height="431"/></clipPath>
<linearGradient id="cbg" x1="0" y1="0" x2="0" y2="1"><stop offset="0.0000" stop-color="#7b57e6"/><stop offset="0.0169" stop-color="#7e57e6"/><stop offset="0.0339" stop-color="#8358e7"/><stop offset="0.0508" stop-color="#8758e7"/><stop offset="0.0678" stop-color="#8b59e8"/><stop offset="0.0847" stop-color="#8f59e8"/><stop offset="0.1017" stop-color="#9459e9"/><stop offset="0.1186" stop-color="#985ae9"/><stop offset="0.1356" stop-color="#9c5aea"/><stop offset="0.1525" stop-color="#a15bea"/><stop offset="0.1695" stop-color="#a55beb"/><stop offset="0.1864" stop-color="#a963ec"/><stop offset="0.2034" stop-color="#ae6bed"/><stop offset="0.2203" stop-color="#b374ee"/><stop offset="0.2373" stop-color="#b77cef"/><stop offset="0.2542" stop-color="#bc85f0"/><stop offset="0.2712" stop-color="#c18df1"/><stop offset="0.2881" stop-color="#c596f2"/><stop offset="0.3051" stop-color="#ca9ef3"/><stop offset="0.3220" stop-color="#cea6f4"/><stop offset="0.3390" stop-color="#d3aff5"/><stop offset="0.3559" stop-color="#d8b7f6"/><stop offset="0.3729" stop-color="#dcc0f7"/><stop offset="0.3898" stop-color="#e1c8f8"/><stop offset="0.4068" stop-color="#e6d1f9"/><stop offset="0.4237" stop-color="#ead9fa"/><stop offset="0.4407" stop-color="#efe1fb"/><stop offset="0.4576" stop-color="#f3eafc"/><stop offset="0.4746" stop-color="#f8f2fd"/><stop offset="0.4915" stop-color="#fdfbfe"/><stop offset="0.5085" stop-color="#fffcfd"/><stop offset="0.5254" stop-color="#fff6f8"/><stop offset="0.5424" stop-color="#fef0f3"/><stop offset="0.5593" stop-color="#feeaee"/><stop offset="0.5763" stop-color="#fde3e9"/><stop offset="0.5932" stop-color="#fddbe4"/><stop offset="0.6102" stop-color="#fcd4de"/><stop offset="0.6271" stop-color="#fcccd9"/><stop offset="0.6441" stop-color="#fbc5d4"/><stop offset="0.6610" stop-color="#fabece"/><stop offset="0.6780" stop-color="#fab7c9"/><stop offset="0.6949" stop-color="#f9b0c4"/><stop offset="0.7119" stop-color="#f9aabe"/><stop offset="0.7288" stop-color="#f8a4b9"/><stop offset="0.7458" stop-color="#f89db4"/><stop offset="0.7627" stop-color="#f897ae"/><stop offset="0.7797" stop-color="#f88fa8"/><stop offset="0.7966" stop-color="#f888a2"/><stop offset="0.8136" stop-color="#f8809c"/><stop offset="0.8305" stop-color="#f87995"/><stop offset="0.8475" stop-color="#f7718f"/><stop offset="0.8644" stop-color="#f76889"/><stop offset="0.8814" stop-color="#f66083"/><stop offset="0.8983" stop-color="#f6587d"/><stop offset="0.9153" stop-color="#f64d77"/><stop offset="0.9322" stop-color="#f64271"/><stop offset="0.9492" stop-color="#f5376b"/><stop offset="0.9661" stop-color="#f52c65"/><stop offset="0.9831" stop-color="#f52360"/><stop offset="1.0000" stop-color="#f41a5c"/></linearGradient>
<filter id="vb" x="-2%" y="-2%" width="104%" height="104%"><feGaussianBlur stdDeviation="0 1.2"/></filter>
<filter id="b3" x="-10%" y="-50%" width="120%" height="200%"><feGaussianBlur stdDeviation="1.4"/></filter>
</defs>
<text x="27.5" y="28.2" font-size="13" text-anchor="start" fill="#1a1a1a" font-weight="normal" textLength="209.5" lengthAdjust="spacingAndGlyphs" stroke="#1a1a1a" stroke-width="0.2">SPX Gamma Exposure and GEX by Strike</text>
<text x="27.5" y="43" font-size="8.5" text-anchor="start" fill="#ababab" font-weight="normal" textLength="117" lengthAdjust="spacingAndGlyphs">Last checked for update at 06:40</text>
<path transform="translate(36.94,65.19) scale(0.655)" d="M7 14H5v5h5v-2H7v-3zm-2-4h2V7h3V5H5v5zm12 7h-3v2h5v-5h-2v3zM14 5v2h3v3h2V5h-5z" fill="#2cb9a6"/>
<path transform="translate(1125.89,64.99) scale(0.655)" d="M7 14H5v5h5v-2H7v-3zm-2-4h2V7h3V5H5v5zm12 7h-3v2h5v-5h-2v3zM14 5v2h3v3h2V5h-5z" fill="#2cb9a6"/>
<rect x="74.5" y="59.5" width="48" height="28.299999999999997" rx="3" fill="#fff" stroke="#2cb9a6" stroke-width="1"/>
<text x="83.8" y="75.8" font-size="8.3" text-anchor="start" fill="#222" font-weight="normal" textLength="15.2" lengthAdjust="spacingAndGlyphs" stroke="#222" stroke-width="0.22">GEX</text>
<path d="M107.4,71.5 h6.6 l-3.3,3.3 z" fill="#2cb9a6"/>
<rect x="962.5" y="17.7" width="92.29999999999995" height="28.500000000000004" rx="3" fill="#fff" stroke="#2cb9a6" stroke-width="1"/>
<text x="988.5" y="34.2" font-size="8.3" text-anchor="start" fill="#222" font-weight="normal" textLength="27.8" lengthAdjust="spacingAndGlyphs" stroke="#222" stroke-width="0.22">Gamma</text>
<path d="M1039.5,30 h6.6 l-3.3,3.3 z" fill="#2cb9a6"/>
<rect x="957.0" y="59.7" width="54.10000000000002" height="28.200000000000003" rx="3" fill="#fff" stroke="#2cb9a6" stroke-width="1"/>
<text x="972.4" y="75.9" font-size="8.3" text-anchor="start" fill="#222" font-weight="normal" textLength="11.1" lengthAdjust="spacingAndGlyphs" stroke="#222" stroke-width="0.22">5m</text>
<path d="M996.4,72 h6.6 l-3.3,3.3 z" fill="#2cb9a6"/>
<rect x="150" y="60.3" width="22.69999999999999" height="9.700000000000003" rx="4.850000000000001" fill="#b3b3b3"/>
<circle cx="152.3" cy="66.0" r="7.8" fill="#000" opacity="0.22" filter="url(#b1)"/>
<circle cx="152.3" cy="65.2" r="7.2" fill="#fff"/>
<rect x="908" y="64.7" width="24.299999999999955" height="9.799999999999997" rx="4.899999999999999" fill="#b3b3b3"/>
<circle cx="912" cy="70.39999999999999" r="7.8999999999999995" fill="#000" opacity="0.22" filter="url(#b1)"/>
<circle cx="912" cy="69.6" r="7.3" fill="#fff"/>
<text x="160" y="89.3" font-size="8.6" text-anchor="middle" fill="#222" font-weight="normal" textLength="40" lengthAdjust="spacingAndGlyphs" stroke="#222" stroke-width="0.25">0DTE GEX</text>
<text x="920" y="92.6" font-size="8.6" text-anchor="middle" fill="#222" font-weight="normal" textLength="38" lengthAdjust="spacingAndGlyphs" stroke="#222" stroke-width="0.25">Key levels</text>
<path transform="translate(187.72,63.72) scale(0.64)" d="M11 17h2v-6h-2v6zm1-15C6.48 2 2 6.48 2 12s4.48 10 10 10 10-4.48 10-10S17.52 2 12 2zm0 18c-4.41 0-8-3.59-8-8s3.59-8 8-8 8 3.59 8 8-3.59 8-8 8zM11 9h2V7h-2v2z" fill="#2cb9a6"/>
<path transform="translate(1061.52,23.72) scale(0.64)" d="M11 17h2v-6h-2v6zm1-15C6.48 2 2 6.48 2 12s4.48 10 10 10 10-4.48 10-10S17.52 2 12 2zm0 18c-4.41 0-8-3.59-8-8s3.59-8 8-8 8 3.59 8 8-3.59 8-8 8zM11 9h2V7h-2v2z" fill="#2cb9a6"/>
<rect x="223.3" y="66.9" width="75.39999999999998" height="3" rx="1.5" fill="#a6e2d9"/>
<circle cx="231.2" cy="68.4" r="0.75" fill="#2cb9a6"/>
<circle cx="240.7" cy="68.4" r="0.75" fill="#2cb9a6"/>
<circle cx="250.1" cy="68.4" r="0.75" fill="#2cb9a6"/>
<circle cx="259.5" cy="68.4" r="0.75" fill="#2cb9a6"/>
<circle cx="268.9" cy="68.4" r="0.75" fill="#2cb9a6"/>
<circle cx="278.4" cy="68.4" r="0.75" fill="#2cb9a6"/>
<circle cx="287.8" cy="68.4" r="0.75" fill="#2cb9a6"/>
<circle cx="297.2" cy="68.4" r="0.75" fill="#2cb9a6"/>
<circle cx="223.3" cy="68.4" r="7.3" fill="#2cb9a6"/>
<rect x="1026.9" y="67.1" width="75.69999999999982" height="3" rx="1.5" fill="#a6e2d9"/>
<circle cx="1034.9" cy="68.6" r="0.75" fill="#2cb9a6"/>
<circle cx="1044.3" cy="68.6" r="0.75" fill="#2cb9a6"/>
<circle cx="1053.8" cy="68.6" r="0.75" fill="#2cb9a6"/>
<circle cx="1063.2" cy="68.6" r="0.75" fill="#2cb9a6"/>
<circle cx="1072.7" cy="68.6" r="0.75" fill="#2cb9a6"/>
<circle cx="1082.2" cy="68.6" r="0.75" fill="#2cb9a6"/>
<circle cx="1091.6" cy="68.6" r="0.75" fill="#2cb9a6"/>
<circle cx="1101.1" cy="68.6" r="0.75" fill="#2cb9a6"/>
<circle cx="1026.9" cy="68.6" r="7.3" fill="#2cb9a6"/>
<text x="260.8" y="93" font-size="8.6" text-anchor="middle" fill="#222" font-weight="normal" textLength="63.5" lengthAdjust="spacingAndGlyphs" stroke="#222" stroke-width="0.25">Strike Plot Zoom</text>
<text x="1064.3" y="92.6" font-size="8.6" text-anchor="middle" fill="#222" font-weight="normal" textLength="59.8" lengthAdjust="spacingAndGlyphs" stroke="#222" stroke-width="0.25">Heatmap Zoom</text>
<path d="M899.4,35.2 A18.2,18.2 0 0 1 935.8000000000001,35.2" fill="none" stroke="#9a9a9a" stroke-width="4.2"/>
<path d="M899.4,35.2 A18.2,18.2 0 0 1 900.29,29.58" fill="none" stroke="#2cb9a6" stroke-width="4.2"/>
<text x="917.8" y="35.1" font-size="9.3" text-anchor="middle" fill="#222" font-weight="normal" >10%</text>
<text x="917.5" y="47.8" font-size="8.6" text-anchor="middle" fill="#222" font-weight="normal" textLength="31" lengthAdjust="spacingAndGlyphs">Stability</text>
<rect x="1098.4" y="17.7" width="99.8" height="24.6" rx="2.5" fill="#fff" stroke="#8fdbd0" stroke-width="1"/>
<text x="1108.7" y="33.4" font-size="10" text-anchor="start" fill="#222" font-weight="normal" textLength="52.9" lengthAdjust="spacingAndGlyphs" stroke="#222" stroke-width="0.15">2025-03-19</text>
<path transform="translate(1175.50,22.15) scale(0.65)" d="M17 12h-5v5h5v-5zM16 1v2H8V1H6v2H5c-1.11 0-1.99.9-1.99 2L3 19c0 1.1.89 2 2 2h14c1.1 0 2-.9 2-2V5c0-1.1-.9-2-2-2h-1V1h-2zm3 18H5V8h14v11z" fill="#1a1a1a"/>
<path transform="translate(1153.78,64.53) scale(0.635)" d="M3 17v2h6v-2H3zM3 5v2h10V5H3zm10 16v-2h8v-2h-8v-2h-2v6h2zM7 9v2H3v2h4v2h2V9H7zm14 4v-2H11v2h10zm-6-4h2V7h4V5h-4V3h-2v6z" fill="#2cb9a6"/>
<path transform="translate(1180.56,64.46) scale(0.645)" d="M17.66 7.93L12 2.27 6.34 7.93c-3.12 3.12-3.12 8.19 0 11.31C7.9 20.8 9.95 21.58 12 21.58c2.05 0 4.1-.78 5.66-2.34 3.12-3.12 3.12-8.19 0-11.31zM12 19.59c-1.6 0-3.11-.62-4.24-1.76C6.62 16.69 6 15.19 6 13.59s.62-3.11 1.76-4.24L12 5.1v14.49z" fill="#2cb9a6"/>
<path d="M136.4,114.12 V548.76" stroke="#a3154a" stroke-width="0.9" fill="none"/>
<rect x="135.1" y="114.2" width="2.7" height="3.9" rx="1.1" fill="#2fe3cd" stroke="#a08c3a" stroke-width="0.4"/>
<rect x="135.1" y="120.7" width="2.7" height="3.9" rx="1.1" fill="#2fe3cd" stroke="#a08c3a" stroke-width="0.4"/>
<rect x="135.7" y="127.2" width="2.7" height="3.9" rx="1.1" fill="#2fe3cd" stroke="#a08c3a" stroke-width="0.4"/>
<rect x="135.1" y="133.8" width="2.7" height="3.9" rx="1.1" fill="#2fe3cd" stroke="#a08c3a" stroke-width="0.4"/>
<rect x="135.1" y="140.3" width="2.7" height="3.9" rx="1.1" fill="#2fe3cd" stroke="#a08c3a" stroke-width="0.4"/>
<rect x="132.1" y="146.1" width="4.3" height="5.4" fill="#f0145a"/>
<rect x="131.7" y="146.9" width="2.7" height="3.9" rx="1.1" fill="#2fe3cd" stroke="#a08c3a" stroke-width="0.4"/>
<rect x="134.6" y="152.7" width="1.8" height="5.4" fill="#f0145a"/>
<rect x="134.1" y="153.4" width="2.7" height="3.9" rx="1.1" fill="#2fe3cd" stroke="#a08c3a" stroke-width="0.4"/>
<rect x="136.4" y="159.2" width="1.6" height="5.4" fill="#7b57e6"/>
<rect x="135.8" y="160.0" width="2.7" height="3.9" rx="1.1" fill="#2fe3cd" stroke="#a08c3a" stroke-width="0.4"/>
<rect x="135.1" y="166.5" width="2.7" height="3.9" rx="1.1" fill="#2fe3cd" stroke="#a08c3a" stroke-width="0.4"/>
<rect x="136.4" y="172.3" width="7.3" height="5.4" fill="#7b57e6"/>
<rect x="141.5" y="173.0" width="2.7" height="3.9" rx="1.1" fill="#2fe3cd" stroke="#a08c3a" stroke-width="0.4"/>
<rect x="135.1" y="179.6" width="2.7" height="3.9" rx="1.1" fill="#2fe3cd" stroke="#a08c3a" stroke-width="0.4"/>
<rect x="135.1" y="186.1" width="2.7" height="3.9" rx="1.1" fill="#2fe3cd" stroke="#a08c3a" stroke-width="0.4"/>
<rect x="136.4" y="191.9" width="6.3" height="5.4" fill="#7b57e6"/>
<rect x="140.4" y="192.7" width="2.7" height="3.9" rx="1.1" fill="#2fe3cd" stroke="#a08c3a" stroke-width="0.4"/>
<rect x="136.4" y="198.4" width="4.9" height="5.4" fill="#7b57e6"/>
<rect x="139.0" y="199.2" width="2.7" height="3.9" rx="1.1" fill="#2fe3cd" stroke="#a08c3a" stroke-width="0.4"/>
<rect x="134.8" y="205.0" width="1.6" height="5.4" fill="#f0145a"/>
<rect x="134.3" y="205.7" width="2.7" height="3.9" rx="1.1" fill="#2fe3cd" stroke="#a08c3a" stroke-width="0.4"/>
<rect x="128.1" y="211.5" width="8.3" height="5.4" fill="#f0145a"/>
<rect x="127.6" y="212.3" width="2.7" height="3.9" rx="1.1" fill="#2fe3cd" stroke="#a08c3a" stroke-width="0.4"/>
<rect x="133.4" y="218.1" width="3.0" height="5.4" fill="#f0145a"/>
<rect x="132.9" y="218.8" width="2.7" height="3.9" rx="1.1" fill="#2fe3cd" stroke="#a08c3a" stroke-width="0.4"/>
<rect x="136.4" y="224.6" width="38.2" height="5.4" fill="#7b57e6"/>
<rect x="172.3" y="225.4" width="2.7" height="3.9" rx="1.1" fill="#2fe3cd" stroke="#a08c3a" stroke-width="0.4"/>
<rect x="134.2" y="231.1" width="2.2" height="5.4" fill="#f0145a"/>
<rect x="133.7" y="231.9" width="2.7" height="3.9" rx="1.1" fill="#2fe3cd" stroke="#a08c3a" stroke-width="0.4"/>
<rect x="135.7" y="238.4" width="2.7" height="3.9" rx="1.1" fill="#2fe3cd" stroke="#a08c3a" stroke-width="0.4"/>
<rect x="134.2" y="244.2" width="2.2" height="5.4" fill="#f0145a"/>
<rect x="133.7" y="245.0" width="2.7" height="3.9" rx="1.1" fill="#2fe3cd" stroke="#a08c3a" stroke-width="0.4"/>
<rect x="134.6" y="251.5" width="2.7" height="3.9" rx="1.1" fill="#2fe3cd" stroke="#a08c3a" stroke-width="0.4"/>
<rect x="120.8" y="257.3" width="15.6" height="5.4" fill="#f0145a"/>
<rect x="120.3" y="258.1" width="2.7" height="3.9" rx="1.1" fill="#2fe3cd" stroke="#a08c3a" stroke-width="0.4"/>
<rect x="136.4" y="263.8" width="1.8" height="5.4" fill="#7b57e6"/>
<rect x="136.0" y="264.6" width="2.7" height="3.9" rx="1.1" fill="#2fe3cd" stroke="#a08c3a" stroke-width="0.4"/>
<rect x="136.4" y="270.4" width="4.7" height="5.4" fill="#7b57e6"/>
<rect x="138.8" y="271.1" width="2.7" height="3.9" rx="1.1" fill="#2fe3cd" stroke="#a08c3a" stroke-width="0.4"/>
<rect x="136.4" y="276.9" width="1.8" height="5.4" fill="#7b57e6"/>
<rect x="136.0" y="277.7" width="2.7" height="3.9" rx="1.1" fill="#2fe3cd" stroke="#a08c3a" stroke-width="0.4"/>
<rect x="133.8" y="283.5" width="2.6" height="5.4" fill="#f0145a"/>
<rect x="133.3" y="284.2" width="2.7" height="3.9" rx="1.1" fill="#2fe3cd" stroke="#a08c3a" stroke-width="0.4"/>
<rect x="136.4" y="290.0" width="5.5" height="5.4" fill="#7b57e6"/>
<rect x="139.6" y="290.8" width="2.7" height="3.9" rx="1.1" fill="#2fe3cd" stroke="#a08c3a" stroke-width="0.4"/>
<rect x="134.6" y="296.5" width="1.8" height="5.4" fill="#f0145a"/>
<rect x="134.1" y="297.3" width="2.7" height="3.9" rx="1.1" fill="#2fe3cd" stroke="#a08c3a" stroke-width="0.4"/>
<rect x="136.4" y="303.1" width="4.3" height="5.4" fill="#7b57e6"/>
<rect x="138.4" y="303.8" width="2.7" height="3.9" rx="1.1" fill="#2fe3cd" stroke="#a08c3a" stroke-width="0.4"/>
<rect x="128.7" y="309.6" width="7.7" height="5.4" fill="#f0145a"/>
<rect x="128.2" y="310.4" width="2.7" height="3.9" rx="1.1" fill="#2fe3cd" stroke="#a08c3a" stroke-width="0.4"/>
<rect x="134.6" y="316.2" width="1.8" height="5.4" fill="#f0145a"/>
<rect x="134.1" y="316.9" width="2.7" height="3.9" rx="1.1" fill="#2fe3cd" stroke="#a08c3a" stroke-width="0.4"/>
<rect x="136.4" y="322.7" width="7.3" height="5.4" fill="#7b57e6"/>
<rect x="141.5" y="323.5" width="2.7" height="3.9" rx="1.1" fill="#2fe3cd" stroke="#a08c3a" stroke-width="0.4"/>
<rect x="135.7" y="330.0" width="2.7" height="3.9" rx="1.1" fill="#2fe3cd" stroke="#a08c3a" stroke-width="0.4"/>
<rect x="135.1" y="336.5" width="2.7" height="3.9" rx="1.1" fill="#2fe3cd" stroke="#a08c3a" stroke-width="0.4"/>
<rect x="136.4" y="342.3" width="3.7" height="5.4" fill="#7b57e6"/>
<rect x="137.8" y="343.1" width="2.7" height="3.9" rx="1.1" fill="#2fe3cd" stroke="#a08c3a" stroke-width="0.4"/>
<rect x="135.1" y="349.6" width="2.7" height="3.9" rx="1.1" fill="#2fe3cd" stroke="#a08c3a" stroke-width="0.4"/>
<rect x="104.5" y="355.4" width="31.9" height="5.4" fill="#f0145a"/>
<rect x="104.1" y="356.2" width="2.7" height="3.9" rx="1.1" fill="#2fe3cd" stroke="#a08c3a" stroke-width="0.4"/>
<rect x="134.5" y="362.7" width="2.7" height="3.9" rx="1.1" fill="#2fe3cd" stroke="#a08c3a" stroke-width="0.4"/>
<rect x="133.6" y="368.5" width="2.8" height="5.4" fill="#f0145a"/>
<rect x="133.1" y="369.2" width="2.7" height="3.9" rx="1.1" fill="#2fe3cd" stroke="#a08c3a" stroke-width="0.4"/>
<rect x="136.4" y="375.0" width="7.3" height="5.4" fill="#7b57e6"/>
<rect x="141.5" y="375.8" width="2.7" height="3.9" rx="1.1" fill="#2fe3cd" stroke="#a08c3a" stroke-width="0.4"/>
<rect x="134.7" y="382.3" width="2.7" height="3.9" rx="1.1" fill="#2fe3cd" stroke="#a08c3a" stroke-width="0.4"/>
<rect x="136.4" y="388.1" width="2.0" height="5.4" fill="#7b57e6"/>
<rect x="136.2" y="388.9" width="2.7" height="3.9" rx="1.1" fill="#2fe3cd" stroke="#a08c3a" stroke-width="0.4"/>
<rect x="136.4" y="394.6" width="3.2" height="5.4" fill="#7b57e6"/>
<rect x="137.4" y="395.4" width="2.7" height="3.9" rx="1.1" fill="#2fe3cd" stroke="#a08c3a" stroke-width="0.4"/>
<rect x="54.6" y="401.2" width="81.8" height="5.4" fill="#f0145a"/>
<rect x="54.1" y="401.9" width="2.7" height="3.9" rx="1.1" fill="#2fe3cd" stroke="#a08c3a" stroke-width="0.4"/>
<rect x="136.4" y="407.7" width="3.7" height="5.4" fill="#7b57e6"/>
<rect x="137.8" y="408.5" width="2.7" height="3.9" rx="1.1" fill="#2fe3cd" stroke="#a08c3a" stroke-width="0.4"/>
<rect x="135.1" y="415.0" width="2.7" height="3.9" rx="1.1" fill="#2fe3cd" stroke="#a08c3a" stroke-width="0.4"/>
<rect x="134.5" y="421.6" width="2.7" height="3.9" rx="1.1" fill="#2fe3cd" stroke="#a08c3a" stroke-width="0.4"/>
<rect x="135.1" y="428.1" width="2.7" height="3.9" rx="1.1" fill="#2fe3cd" stroke="#a08c3a" stroke-width="0.4"/>
<rect x="131.5" y="433.9" width="4.9" height="5.4" fill="#f0145a"/>
<rect x="131.1" y="434.6" width="2.7" height="3.9" rx="1.1" fill="#2fe3cd" stroke="#a08c3a" stroke-width="0.4"/>
<rect x="135.1" y="441.2" width="2.7" height="3.9" rx="1.1" fill="#2fe3cd" stroke="#a08c3a" stroke-width="0.4"/>
<rect x="136.4" y="447.0" width="3.2" height="5.4" fill="#7b57e6"/>
<rect x="137.4" y="447.7" width="2.7" height="3.9" rx="1.1" fill="#2fe3cd" stroke="#a08c3a" stroke-width="0.4"/>
<rect x="134.4" y="453.5" width="2.0" height="5.4" fill="#f0145a"/>
<rect x="133.9" y="454.3" width="2.7" height="3.9" rx="1.1" fill="#2fe3cd" stroke="#a08c3a" stroke-width="0.4"/>
<rect x="135.1" y="460.8" width="2.7" height="3.9" rx="1.1" fill="#2fe3cd" stroke="#a08c3a" stroke-width="0.4"/>
<rect x="130.1" y="466.6" width="6.3" height="5.4" fill="#f0145a"/>
<rect x="129.7" y="467.3" width="2.7" height="3.9" rx="1.1" fill="#2fe3cd" stroke="#a08c3a" stroke-width="0.4"/>
<rect x="136.4" y="473.1" width="5.5" height="5.4" fill="#7b57e6"/>
<rect x="139.6" y="473.9" width="2.7" height="3.9" rx="1.1" fill="#2fe3cd" stroke="#a08c3a" stroke-width="0.4"/>
<rect x="135.1" y="480.4" width="2.7" height="3.9" rx="1.1" fill="#2fe3cd" stroke="#a08c3a" stroke-width="0.4"/>
<rect x="136.4" y="486.2" width="19.1" height="5.4" fill="#7b57e6"/>
<rect x="153.2" y="487.0" width="2.7" height="3.9" rx="1.1" fill="#2fe3cd" stroke="#a08c3a" stroke-width="0.4"/>
<rect x="135.1" y="493.5" width="2.7" height="3.9" rx="1.1" fill="#2fe3cd" stroke="#a08c3a" stroke-width="0.4"/>
<rect x="134.7" y="500.0" width="2.7" height="3.9" rx="1.1" fill="#2fe3cd" stroke="#a08c3a" stroke-width="0.4"/>
<rect x="132.7" y="505.8" width="3.7" height="5.4" fill="#f0145a"/>
<rect x="132.3" y="506.6" width="2.7" height="3.9" rx="1.1" fill="#2fe3cd" stroke="#a08c3a" stroke-width="0.4"/>
<rect x="135.1" y="513.1" width="2.7" height="3.9" rx="1.1" fill="#2fe3cd" stroke="#a08c3a" stroke-width="0.4"/>
<rect x="136.4" y="518.9" width="11.8" height="5.4" fill="#7b57e6"/>
<rect x="145.9" y="519.6" width="2.7" height="3.9" rx="1.1" fill="#2fe3cd" stroke="#a08c3a" stroke-width="0.4"/>
<rect x="134.9" y="526.2" width="2.7" height="3.9" rx="1.1" fill="#2fe3cd" stroke="#a08c3a" stroke-width="0.4"/>
<rect x="135.1" y="532.7" width="2.7" height="3.9" rx="1.1" fill="#2fe3cd" stroke="#a08c3a" stroke-width="0.4"/>
<rect x="134.6" y="538.5" width="1.8" height="5.4" fill="#f0145a"/>
<rect x="134.1" y="539.3" width="2.7" height="3.9" rx="1.1" fill="#2fe3cd" stroke="#a08c3a" stroke-width="0.4"/>
<rect x="135.1" y="545.8" width="2.7" height="3.9" rx="1.1" fill="#2fe3cd" stroke="#a08c3a" stroke-width="0.4"/>
<rect x="52.4" y="402.9" width="2" height="2" fill="#222"/>
<rect x="156.5" y="488.1" width="1.4" height="1.6" fill="#222"/>
<rect x="149.2" y="520.8" width="1.4" height="1.6" fill="#222"/>
<text x="35.2" y="560" font-size="8.7" text-anchor="middle" fill="#222" font-weight="normal" textLength="22.8" lengthAdjust="spacingAndGlyphs">−50M</text>
<text x="136.6" y="560" font-size="8.7" text-anchor="middle" fill="#222" font-weight="normal" textLength="5.1" lengthAdjust="spacingAndGlyphs">0</text>
<text x="238.2" y="560" font-size="8.7" text-anchor="middle" fill="#222" font-weight="normal" textLength="18.1" lengthAdjust="spacingAndGlyphs">50M</text>
<text x="136.5" y="581.7" font-size="8.6" text-anchor="middle" fill="#222" font-weight="normal" textLength="52" lengthAdjust="spacingAndGlyphs">GEX by Strike</text>
<g clip-path="url(#hc)">
<g filter="url(#vb)"><rect x="326" y="116" width="745" height="3.6" fill="url(#g0)"/>
<rect x="326" y="119" width="745" height="3.6" fill="url(#g1)"/>
<rect x="326" y="122" width="745" height="3.6" fill="url(#g2)"/>
<rect x="326" y="125" width="745" height="3.6" fill="url(#g3)"/>
<rect x="326" y="128" width="745" height="3.6" fill="url(#g4)"/>
<rect x="326" y="131" width="745" height="3.6" fill="url(#g5)"/>
<rect x="326" y="134" width="745" height="3.6" fill="url(#g6)"/>
<rect x="326" y="137" width="745" height="3.6" fill="url(#g7)"/>
<rect x="326" y="140" width="745" height="3.6" fill="url(#g8)"/>
<rect x="326" y="143" width="745" height="3.6" fill="url(#g9)"/>
<rect x="326" y="146" width="745" height="3.6" fill="url(#g10)"/>
<rect x="326" y="149" width="745" height="3.6" fill="url(#g11)"/>
<rect x="326" y="152" width="745" height="3.6" fill="url(#g12)"/>
<rect x="326" y="155" width="745" height="3.6" fill="url(#g13)"/>
<rect x="326" y="158" width="745" height="3.6" fill="url(#g14)"/>
<rect x="326" y="161" width="745" height="3.6" fill="url(#g15)"/>
<rect x="326" y="164" width="745" height="3.6" fill="url(#g16)"/>
<rect x="326" y="167" width="745" height="3.6" fill="url(#g17)"/>
<rect x="326" y="170" width="745" height="3.6" fill="url(#g18)"/>
<rect x="326" y="173" width="745" height="3.6" fill="url(#g19)"/>
<rect x="326" y="176" width="745" height="3.6" fill="url(#g20)"/>
<rect x="326" y="179" width="745" height="3.6" fill="url(#g21)"/>
<rect x="326" y="182" width="745" height="3.6" fill="url(#g22)"/>
<rect x="326" y="185" width="745" height="3.6" fill="url(#g23)"/>
<rect x="326" y="188" width="745" height="3.6" fill="url(#g24)"/>
<rect x="326" y="191" width="745" height="3.6" fill="url(#g25)"/>
<rect x="326" y="194" width="745" height="3.6" fill="url(#g26)"/>
<rect x="326" y="197" width="745" height="3.6" fill="url(#g27)"/>
<rect x="326" y="200" width="745" height="3.6" fill="url(#g28)"/>
<rect x="326" y="203" width="745" height="3.6" fill="url(#g29)"/>
<rect x="326" y="206" width="745" height="3.6" fill="url(#g30)"/>
<rect x="326" y="209" width="745" height="3.6" fill="url(#g31)"/>
<rect x="326" y="212" width="745" height="3.6" fill="url(#g32)"/>
<rect x="326" y="215" width="745" height="3.6" fill="url(#g33)"/>
<rect x="326" y="218" width="745" height="3.6" fill="url(#g34)"/>
<rect x="326" y="221" width="745" height="3.6" fill="url(#g35)"/>
<rect x="326" y="224" width="745" height="3.6" fill="url(#g36)"/>
<rect x="326" y="227" width="745" height="3.6" fill="url(#g37)"/>
<rect x="326" y="230" width="745" height="3.6" fill="url(#g38)"/>
<rect x="326" y="233" width="745" height="3.6" fill="url(#g39)"/>
<rect x="326" y="236" width="745" height="3.6" fill="url(#g40)"/>
<rect x="326" y="239" width="745" height="3.6" fill="url(#g41)"/>
<rect x="326" y="242" width="745" height="3.6" fill="url(#g42)"/>
<rect x="326" y="245" width="745" height="3.6" fill="url(#g43)"/>
<rect x="326" y="248" width="745" height="3.6" fill="url(#g44)"/>
<rect x="326" y="251" width="745" height="3.6" fill="url(#g45)"/>
<rect x="326" y="254" width="745" height="3.6" fill="url(#g46)"/>
<rect x="326" y="257" width="745" height="3.6" fill="url(#g47)"/>
<rect x="326" y="260" width="745" height="3.6" fill="url(#g48)"/>
<rect x="326" y="263" width="745" height="3.6" fill="url(#g49)"/>
<rect x="326" y="266" width="745" height="3.6" fill="url(#g50)"/>
<rect x="326" y="269" width="745" height="3.6" fill="url(#g51)"/>
<rect x="326" y="272" width="745" height="3.6" fill="url(#g52)"/>
<rect x="326" y="275" width="745" height="3.6" fill="url(#g53)"/>
<rect x="326" y="278" width="745" height="3.6" fill="url(#g54)"/>
<rect x="326" y="281" width="745" height="3.6" fill="url(#g55)"/>
<rect x="326" y="284" width="745" height="3.6" fill="url(#g56)"/>
<rect x="326" y="287" width="745" height="3.6" fill="url(#g57)"/>
<rect x="326" y="290" width="745" height="3.6" fill="url(#g58)"/>
<rect x="326" y="293" width="745" height="3.6" fill="url(#g59)"/>
<rect x="326" y="296" width="745" height="3.6" fill="url(#g60)"/>
<rect x="326" y="299" width="745" height="3.6" fill="url(#g61)"/>
<rect x="326" y="302" width="745" height="3.6" fill="url(#g62)"/>
<rect x="326" y="305" width="745" height="3.6" fill="url(#g63)"/>
<rect x="326" y="308" width="745" height="3.6" fill="url(#g64)"/>
<rect x="326" y="311" width="745" height="3.6" fill="url(#g65)"/>
<rect x="326" y="314" width="745" height="3.6" fill="url(#g66)"/>
<rect x="326" y="317" width="745" height="3.6" fill="url(#g67)"/>
<rect x="326" y="320" width="745" height="3.6" fill="url(#g68)"/>
<rect x="326" y="323" width="745" height="3.6" fill="url(#g69)"/>
<rect x="326" y="326" width="745" height="3.6" fill="url(#g70)"/>
<rect x="326" y="329" width="745" height="3.6" fill="url(#g71)"/>
<rect x="326" y="332" width="745" height="3.6" fill="url(#g72)"/>
<rect x="326" y="335" width="745" height="3.6" fill="url(#g73)"/>
<rect x="326" y="338" width="745" height="3.6" fill="url(#g74)"/>
<rect x="326" y="341" width="745" height="3.6" fill="url(#g75)"/>
<rect x="326" y="344" width="745" height="3.6" fill="url(#g76)"/>
<rect x="326" y="347" width="745" height="3.6" fill="url(#g77)"/>
<rect x="326" y="350" width="745" height="3.6" fill="url(#g78)"/>
<rect x="326" y="353" width="745" height="3.6" fill="url(#g79)"/>
<rect x="326" y="356" width="745" height="3.6" fill="url(#g80)"/>
<rect x="326" y="359" width="745" height="3.6" fill="url(#g81)"/>
<rect x="326" y="362" width="745" height="3.6" fill="url(#g82)"/>
<rect x="326" y="365" width="745" height="3.6" fill="url(#g83)"/>
<rect x="326" y="368" width="745" height="3.6" fill="url(#g84)"/>
<rect x="326" y="371" width="745" height="3.6" fill="url(#g85)"/>
<rect x="326" y="374" width="745" height="3.6" fill="url(#g86)"/>
<rect x="326" y="377" width="745" height="3.6" fill="url(#g87)"/>
<rect x="326" y="380" width="745" height="3.6" fill="url(#g88)"/>
<rect x="326" y="383" width="745" height="3.6" fill="url(#g89)"/>
<rect x="326" y="386" width="745" height="3.6" fill="url(#g90)"/>
<rect x="326" y="389" width="745" height="3.6" fill="url(#g91)"/>
<rect x="326" y="392" width="745" height="3.6" fill="url(#g92)"/>
<rect x="326" y="395" width="745" height="3.6" fill="url(#g93)"/>
<rect x="326" y="398" width="745" height="3.6" fill="url(#g94)"/>
<rect x="326" y="401" width="745" height="3.6" fill="url(#g95)"/>
<rect x="326" y="404" width="745" height="3.6" fill="url(#g96)"/>
<rect x="326" y="407" width="745" height="3.6" fill="url(#g97)"/>
<rect x="326" y="410" width="745" height="3.6" fill="url(#g98)"/>
<rect x="326" y="413" width="745" height="3.6" fill="url(#g99)"/>
<rect x="326" y="416" width="745" height="3.6" fill="url(#g100)"/>
<rect x="326" y="419" width="745" height="3.6" fill="url(#g101)"/>
<rect x="326" y="422" width="745" height="3.6" fill="url(#g102)"/>
<rect x="326" y="425" width="745" height="3.6" fill="url(#g103)"/>
<rect x="326" y="428" width="745" height="3.6" fill="url(#g104)"/>
<rect x="326" y="431" width="745" height="3.6" fill="url(#g105)"/>
<rect x="326" y="434" width="745" height="3.6" fill="url(#g106)"/>
<rect x="326" y="437" width="745" height="3.6" fill="url(#g107)"/>
<rect x="326" y="440" width="745" height="3.6" fill="url(#g108)"/>
<rect x="326" y="443" width="745" height="3.6" fill="url(#g109)"/>
<rect x="326" y="446" width="745" height="3.6" fill="url(#g110)"/>
<rect x="326" y="449" width="745" height="3.6" fill="url(#g111)"/>
<rect x="326" y="452" width="745" height="3.6" fill="url(#g112)"/>
<rect x="326" y="455" width="745" height="3.6" fill="url(#g113)"/>
<rect x="326" y="458" width="745" height="3.6" fill="url(#g114)"/>
<rect x="326" y="461" width="745" height="3.6" fill="url(#g115)"/>
<rect x="326" y="464" width="745" height="3.6" fill="url(#g116)"/>
<rect x="326" y="467" width="745" height="3.6" fill="url(#g117)"/>
<rect x="326" y="470" width="745" height="3.6" fill="url(#g118)"/>
<rect x="326" y="473" width="745" height="3.6" fill="url(#g119)"/>
<rect x="326" y="476" width="745" height="3.6" fill="url(#g120)"/>
<rect x="326" y="479" width="745" height="3.6" fill="url(#g121)"/>
<rect x="326" y="482" width="745" height="3.6" fill="url(#g122)"/>
<rect x="326" y="485" width="745" height="3.6" fill="url(#g123)"/>
<rect x="326" y="488" width="745" height="3.6" fill="url(#g124)"/>
<rect x="326" y="491" width="745" height="3.6" fill="url(#g125)"/>
<rect x="326" y="494" width="745" height="3.6" fill="url(#g126)"/>
<rect x="326" y="497" width="745" height="3.6" fill="url(#g127)"/>
<rect x="326" y="500" width="745" height="3.6" fill="url(#g128)"/>
<rect x="326" y="503" width="745" height="3.6" fill="url(#g129)"/>
<rect x="326" y="506" width="745" height="3.6" fill="url(#g130)"/>
<rect x="326" y="509" width="745" height="3.6" fill="url(#g131)"/>
<rect x="326" y="512" width="745" height="3.6" fill="url(#g132)"/>
<rect x="326" y="515" width="745" height="3.6" fill="url(#g133)"/>
<rect x="326" y="518" width="745" height="3.6" fill="url(#g134)"/>
<rect x="326" y="521" width="745" height="3.6" fill="url(#g135)"/>
<rect x="326" y="524" width="745" height="3.6" fill="url(#g136)"/>
<rect x="326" y="527" width="745" height="3.6" fill="url(#g137)"/>
<rect x="326" y="530" width="745" height="3.6" fill="url(#g138)"/>
<rect x="326" y="533" width="745" height="3.6" fill="url(#g139)"/>
<rect x="326" y="536" width="745" height="3.6" fill="url(#g140)"/>
<rect x="326" y="539" width="745" height="3.6" fill="url(#g141)"/>
<rect x="326" y="542" width="745" height="3.6" fill="url(#g142)"/>
<rect x="326" y="545" width="745" height="2" fill="url(#g143)"/></g>
<g fill="none" stroke="#4a3a44" stroke-width="0.7" stroke-opacity="0.62">
<path d="M1029.0,207.3 L1027.0,209.0 L1024.9,211.0 L1024.0,212.0 L1023.3,213.0 L1022.3,215.0 L1022.0,216.4 L1022.1,218.0 L1023.0,220.0 L1023.7,221.0 L1024.7,222.0 L1025.9,223.0 L1029.0,225.2 L1029.5,223.0 L1030.0,219.0 L1030.1,214.0 L1029.9,211.0 L1029.5,209.0 L1029.0,207.3"/>
<path d="M1026.0,485.8 L1024.1,487.0 L1023.4,488.0 L1022.9,490.0 L1023.2,492.0 L1024.1,494.0 L1025.4,496.0 L1027.0,498.0 L1027.9,499.0 L1028.9,500.0 L1029.9,499.0 L1030.8,497.0 L1031.2,495.0 L1031.2,493.0 L1030.9,491.0 L1030.4,489.0 L1029.2,486.0 L1028.0,485.5 L1026.0,485.8"/>
<path d="M1029.0,201.9 L1016.9,207.0 L1013.0,209.0 L1011.4,210.0 L1010.0,211.0 L1008.7,212.0 L1007.7,213.0 L1006.9,214.0 L1006.2,215.0 L1005.3,217.0 L1005.2,219.0 L1005.8,221.0 L1007.0,222.8 L1008.2,224.0 L1009.5,225.0 L1011.2,226.0 L1013.2,227.0 L1018.6,229.0 L1029.0,231.9 L1030.0,230.5 L1030.8,229.0 L1031.5,227.0 L1032.1,224.0 L1032.7,217.0 L1032.6,212.0 L1032.3,209.0 L1031.8,207.0 L1031.1,205.0 L1030.0,203.1 L1029.1,202.0 L1029.0,201.9"/>
<path d="M1028.0,286.9 L1026.6,288.0 L1025.6,289.0 L1024.8,290.0 L1024.1,291.0 L1023.3,293.0 L1023.2,295.0 L1023.9,297.0 L1024.6,298.0 L1025.7,299.0 L1027.0,299.8 L1029.0,300.7 L1029.8,299.0 L1030.5,297.0 L1030.9,295.0 L1031.0,293.0 L1030.9,291.0 L1030.4,289.0 L1029.5,287.0 L1028.0,286.9"/>
<path d="M1016.0,477.0 L1014.0,477.6 L1012.8,478.0 L1011.0,479.0 L1010.0,479.9 L1009.1,481.0 L1008.4,483.0 L1008.5,485.0 L1009.0,486.5 L1009.8,488.0 L1010.5,489.0 L1011.3,490.0 L1013.3,492.0 L1015.6,494.0 L1019.6,497.0 L1026.0,501.0 L1029.0,502.7 L1030.4,502.0 L1031.7,501.0 L1032.5,500.0 L1033.4,498.0 L1033.8,496.0 L1033.9,494.0 L1033.7,491.0 L1033.0,487.0 L1031.5,482.0 L1030.0,478.5 L1029.0,476.6 L1022.0,476.3 L1019.0,476.5 L1016.0,477.0"/>
<path d="M1026.0,199.0 L1012.0,201.4 L998.0,204.3 L989.3,207.0 L984.5,209.0 L980.6,211.0 L977.6,213.0 L976.3,214.0 L975.2,215.0 L974.2,216.0 L973.4,217.0 L972.3,219.0 L971.8,221.0 L971.9,223.0 L972.8,225.0 L973.5,226.0 L974.5,227.0 L975.8,228.0 L977.3,229.0 L979.3,230.0 L984.5,232.0 L993.0,234.0 L1007.0,235.7 L1021.0,236.4 L1029.0,236.5 L1031.0,235.1 L1032.0,234.1 L1032.7,233.0 L1033.7,231.0 L1034.2,229.0 L1034.9,225.0 L1035.2,212.0 L1034.8,207.0 L1034.4,205.0 L1034.0,203.6 L1033.3,202.0 L1032.0,200.3 L1031.0,199.4 L1029.0,198.4 L1026.0,199.0"/>
<path d="M1027.0,281.8 L1018.3,284.0 L1013.0,286.0 L1009.1,288.0 L1007.5,289.0 L1006.2,290.0 L1005.0,291.0 L1004.1,292.0 L1003.3,293.0 L1002.2,295.0 L1001.9,297.0 L1002.2,299.0 L1003.0,300.5 L1004.0,301.7 L1005.5,303.0 L1007.0,304.0 L1009.0,305.0 L1011.6,306.0 L1015.5,307.0 L1020.0,307.7 L1026.0,307.8 L1029.0,307.7 L1030.0,306.8 L1031.0,305.7 L1032.0,304.3 L1032.7,303.0 L1033.4,301.0 L1033.9,299.0 L1034.3,296.0 L1034.5,293.0 L1034.3,290.0 L1034.0,288.0 L1033.4,286.0 L1032.2,284.0 L1031.3,283.0 L1030.0,282.0 L1028.0,281.7 L1027.0,281.8"/>
<path d="M1029.0,368.5 L1028.0,369.2 L1027.0,370.3 L1026.2,372.0 L1026.2,374.0 L1026.8,376.0 L1028.1,378.0 L1029.0,378.9 L1029.8,378.0 L1030.7,376.0 L1031.0,374.0 L1030.7,372.0 L1030.0,370.0 L1029.4,369.0 L1029.0,368.5"/>
<path d="M994.0,465.0 L989.0,466.0 L985.9,467.0 L983.5,468.0 L981.5,469.0 L980.0,470.0 L978.8,471.0 L977.9,472.0 L977.0,473.8 L976.7,475.0 L977.0,477.0 L977.8,479.0 L978.5,480.0 L979.3,481.0 L980.3,482.0 L981.4,483.0 L983.9,485.0 L986.9,487.0 L996.2,492.0 L1010.0,497.9 L1023.8,503.0 L1029.0,504.7 L1031.0,504.4 L1032.3,504.0 L1034.0,503.1 L1035.0,502.1 L1035.6,501.0 L1036.0,499.6 L1036.3,498.0 L1036.5,492.0 L1035.5,479.0 L1034.7,475.0 L1034.1,473.0 L1033.2,471.0 L1032.0,469.3 L1031.0,468.4 L1030.0,467.7 L1028.0,467.0 L1014.0,464.6 L1006.0,464.1 L998.0,464.4 L994.0,465.0"/>
<path d="M1071.0,317.0 L1056.0,317.0 L1041.0,317.0 L1039.0,317.0 L1038.2,318.0 L1037.9,320.0 L1037.4,334.0 L1036.2,345.0 L1035.6,348.0 L1035.0,350.0 L1034.1,352.0 L1033.4,353.0 L1032.4,354.0 L1031.0,354.9 L1029.0,355.7 L1025.0,354.4 L1016.0,352.9 L1002.0,352.0 L988.0,351.8 L984.0,352.1 L982.0,352.5 L980.8,353.0 L979.7,354.0 L979.2,356.0 L979.6,358.0 L980.4,360.0 L981.5,362.0 L982.8,364.0 L983.6,365.0 L985.4,367.0 L987.5,369.0 L989.9,371.0 L992.7,373.0 L997.7,376.0 L1003.9,379.0 L1014.5,383.0 L1025.0,385.8 L1030.0,386.7 L1032.0,387.4 L1034.0,388.8 L1034.8,390.0 L1035.7,392.0 L1036.1,394.0 L1036.8,408.0 L1036.3,422.0 L1035.4,429.0 L1034.2,434.0 L1032.0,440.0 L1029.9,445.0 L1029.0,447.8 L1027.0,448.5 L1013.0,448.6 L999.0,448.1 L985.0,447.6 L971.0,447.2 L957.0,447.2 L943.0,447.6 L929.0,448.7 L915.0,451.0 L907.8,453.0 L904.0,454.6 L901.3,456.0 L899.9,457.0 L898.8,458.0 L897.9,459.0 L897.0,460.6 L896.6,462.0 L896.6,464.0 L897.0,465.3 L897.8,467.0 L898.5,468.0 L899.3,469.0 L900.2,470.0 L901.3,471.0 L902.6,472.0 L905.6,474.0 L913.5,478.0 L927.0,483.2 L941.0,487.6 L955.0,491.4 L969.0,494.8 L983.0,497.9 L997.0,500.7 L1011.0,503.4 L1025.0,505.9 L1029.0,506.5 L1032.0,506.8 L1033.2,507.0 L1035.0,507.5 L1036.6,509.0 L1037.3,511.0 L1038.0,524.7 L1039.0,530.0 L1054.0,530.0 L1069.0,530.0 L1071.0,530.0"/>
<path d="M976.0,194.9 L962.0,196.3 L948.0,198.3 L934.0,200.7 L920.0,203.3 L906.0,206.1 L892.0,208.9 L878.0,211.7 L864.0,214.4 L850.0,217.1 L836.0,219.7 L822.0,222.2 L808.0,224.7 L794.0,227.2 L780.0,229.7 L766.0,232.1 L752.0,234.6 L738.0,237.2 L724.0,239.8 L710.0,242.5 L696.0,245.4 L682.0,248.3 L668.0,251.5 L658.7,256.8 L619.0,262.8 L585.3,266.7 L625.0,272.7 L599.2,275.9 L559.5,278.7 L531.7,283.8 L537.7,292.5 L533.7,298.5 L547.6,304.4 L531.7,312.4 L539.7,318.3 L579.4,324.3 L599.2,328.3 L609.0,329.5 L614.5,327.0 L617.1,318.6 L634.9,318.3 L658.7,320.3 L671.0,321.2 L685.0,323.3 L699.0,325.1 L713.0,326.8 L727.0,328.2 L741.0,329.6 L755.0,330.8 L769.0,331.9 L783.0,333.0 L797.0,334.0 L811.0,335.2 L825.0,336.3 L839.0,337.6 L853.0,338.9 L867.0,340.3 L881.0,341.8 L895.0,343.3 L909.0,344.8 L923.0,346.2 L937.0,347.4 L951.0,348.4 L965.0,348.8 L969.0,348.6 L971.0,348.2 L973.0,347.3 L974.0,346.5 L975.0,345.2 L977.8,341.0 L978.6,340.0 L980.3,338.0 L982.3,336.0 L984.7,334.0 L987.5,332.0 L990.7,330.0 L996.8,327.0 L1010.0,322.0 L1024.0,317.3 L1029.0,315.5 L1036.0,315.4 L1037.4,315.0 L1037.8,313.0 L1038.0,299.0 L1037.8,285.0 L1037.7,282.0 L1037.3,280.0 L1036.0,278.3 L1034.0,277.8 L1029.0,277.5 L1015.0,275.8 L1001.0,274.0 L994.0,272.4 L989.8,271.0 L987.6,270.0 L985.9,269.0 L984.5,268.0 L983.5,267.0 L982.6,266.0 L982.0,264.9 L981.5,263.0 L981.6,261.0 L982.0,259.8 L983.0,258.0 L983.8,257.0 L984.7,256.0 L985.9,255.0 L987.2,254.0 L990.3,252.0 L994.3,250.0 L1002.6,247.0 L1017.0,243.6 L1029.0,241.0 L1033.0,240.7 L1035.0,240.1 L1036.4,239.0 L1037.0,237.6 L1037.3,236.0 L1037.8,222.0 L1037.7,208.0 L1037.4,201.0 L1037.1,199.0 L1036.3,197.0 L1035.0,196.1 L1033.0,195.6 L1029.0,195.2 L1015.0,195.2 L1001.0,194.5 L987.0,194.4 L976.0,194.9"/>
<path d="M1036.4,116.0 L1036.8,130.0 L1036.4,140.0 L1036.0,143.2 L1035.6,145.0 L1035.0,146.9 L1034.5,148.0 L1033.0,150.0 L1032.0,150.9 L1031.0,151.6 L1029.0,152.6 L1027.4,154.0 L1026.6,155.0 L1025.6,157.0 L1025.3,159.0 L1025.8,161.0 L1027.0,162.6 L1028.0,163.4 L1031.0,165.3 L1032.0,166.1 L1032.8,167.0 L1033.6,168.0 L1034.5,170.0 L1035.1,172.0 L1035.6,175.0 L1035.8,180.0 L1035.6,183.0 L1035.3,185.0 L1035.0,186.3 L1034.4,188.0 L1033.0,190.0 L1032.0,190.9 L1030.0,191.9 L1028.0,192.0 L1018.0,190.0 L1004.0,185.7 L993.0,183.1 L979.0,181.3 L965.0,180.5 L951.0,180.3 L937.0,180.3 L923.0,180.4 L909.0,180.4 L895.0,180.5 L881.0,180.5 L867.0,180.4 L853.0,180.2 L839.0,179.9 L825.0,179.5 L811.0,179.0 L797.0,178.3 L783.0,177.5 L769.0,176.5 L755.0,175.4 L698.4,174.8 L658.7,169.5 L640.0,166.0 L623.0,161.6 L619.5,152.0 L618.5,146.0 L613.1,141.7 L650.8,127.9 L684.5,116.0"/>
<path d="M326.0,534.3 L340.0,533.1 L354.0,531.9 L368.0,530.5 L382.0,529.0 L396.0,527.5 L410.0,526.0 L424.0,524.6 L438.0,523.2 L452.0,521.8 L466.0,520.4 L480.0,519.1 L494.0,517.7 L508.0,516.3 L522.0,515.0 L536.0,513.6 L550.0,512.3 L564.0,511.0 L578.0,509.7 L592.0,508.5 L606.0,507.2 L620.0,506.1 L634.0,504.9 L648.0,503.8 L662.0,502.8 L676.0,501.9 L690.0,501.0 L704.0,500.3 L718.0,499.6 L732.0,499.1 L746.0,498.7 L760.0,498.4 L774.0,498.3 L788.0,498.3 L802.0,498.4 L816.0,498.6 L830.0,498.9 L844.0,499.3 L858.0,499.8 L872.0,500.4 L886.0,501.1 L900.0,501.8 L914.0,502.6 L928.0,503.4 L942.0,504.1 L956.0,504.9 L970.0,505.6 L984.0,506.3 L998.0,507.0 L1012.0,507.6 L1026.0,508.2 L1029.0,508.3 L1031.0,508.9 L1033.0,509.9 L1034.0,510.9 L1034.8,512.0 L1035.6,514.0 L1036.0,516.0 L1036.6,530.0 L1036.4,544.0 L1036.3,547.0"/>
<path d="M1028.0,247.9 L1029.7,248.0 L1030.5,249.0 L1031.5,251.0 L1032.0,253.0 L1032.9,259.0 L1033.1,263.0 L1033.1,265.0 L1032.8,267.0 L1032.3,269.0 L1031.2,271.0 L1030.2,272.0 L1029.0,272.9 L1020.7,268.0 L1019.2,267.0 L1017.9,266.0 L1016.9,265.0 L1016.0,264.0 L1015.3,263.0 L1014.4,261.0 L1014.4,259.0 L1015.0,257.0 L1015.6,256.0 L1016.4,255.0 L1017.5,254.0 L1018.7,253.0 L1020.2,252.0 L1028.0,247.9"/>
<path d="M1025.0,393.0 L1029.0,392.4 L1030.0,393.4 L1031.0,394.8 L1031.6,396.0 L1032.4,398.0 L1033.1,401.0 L1033.6,406.0 L1033.6,413.0 L1032.9,419.0 L1032.0,423.2 L1031.0,426.2 L1030.0,428.4 L1029.0,430.3 L1017.0,431.3 L1008.0,431.1 L999.0,429.8 L991.0,427.9 L983.2,425.0 L979.1,423.0 L975.9,421.0 L974.6,420.0 L973.5,419.0 L972.5,418.0 L971.7,417.0 L971.0,415.9 L970.2,414.0 L970.1,412.0 L970.6,410.0 L971.8,408.0 L972.7,407.0 L973.8,406.0 L975.2,405.0 L978.7,403.0 L983.4,401.0 L995.0,397.6 L1009.0,395.0 L1023.0,393.2 L1025.0,393.0"/>
<path d="M1034.3,116.0 L1035.0,130.0 L1034.7,137.0 L1034.3,140.0 L1033.8,142.0 L1033.0,144.0 L1032.0,145.8 L1031.0,147.0 L1030.0,147.9 L1029.0,148.7 L1026.0,149.5 L1022.1,151.0 L1020.2,152.0 L1018.6,153.0 L1017.2,154.0 L1014.9,156.0 L1013.0,158.0 L1012.2,159.0 L1010.0,162.0 L1009.0,163.3 L1008.0,164.2 L1007.0,164.9 L1005.0,165.6 L1003.0,166.0 L989.0,165.9 L975.0,164.9 L961.0,163.7 L947.0,162.1 L933.0,160.2 L919.0,157.9 L905.0,155.1 L891.0,151.3 L881.7,148.0 L875.4,145.0 L872.2,143.0 L870.8,142.0 L869.7,141.0 L868.7,140.0 L867.8,139.0 L867.0,137.6 L866.4,136.0 L866.2,134.0 L866.6,132.0 L867.7,130.0 L868.5,129.0 L869.4,128.0 L870.5,127.0 L873.1,125.0 L876.4,123.0 L885.2,119.0 L893.8,116.0"/>
<path d="M776.0,547.0 L777.3,546.0 L779.1,545.0 L783.7,543.0 L798.0,538.7 L812.0,535.3 L826.0,532.3 L840.0,529.6 L854.0,527.2 L868.0,525.1 L882.0,523.2 L896.0,521.5 L910.0,520.0 L924.0,518.7 L938.0,517.4 L952.0,516.3 L966.0,515.2 L980.0,514.1 L994.0,513.0 L1008.0,511.9 L1022.0,510.7 L1029.0,510.0 L1030.9,511.0 L1032.0,511.9 L1032.9,513.0 L1033.9,515.0 L1034.5,517.0 L1035.0,520.0 L1035.1,534.0 L1034.0,547.0"/>
<path d="M1025.0,169.0 L1029.0,168.8 L1030.0,169.8 L1030.9,171.0 L1031.9,173.0 L1032.6,175.0 L1032.9,177.0 L1033.0,179.0 L1032.9,181.0 L1032.6,183.0 L1032.0,184.9 L1031.0,186.8 L1030.0,188.0 L1029.0,188.9 L1024.6,187.0 L1022.8,186.0 L1021.2,185.0 L1019.9,184.0 L1018.7,183.0 L1017.7,182.0 L1016.8,181.0 L1016.0,180.0 L1015.3,179.0 L1014.2,177.0 L1013.6,175.0 L1013.4,173.0 L1014.0,171.5 L1015.0,170.6 L1016.2,170.0 L1018.0,169.6 L1025.0,169.0"/>
<path d="M1029.0,399.8 L1029.4,401.0 L1029.9,403.0 L1030.4,406.0 L1030.6,410.0 L1030.3,414.0 L1029.6,418.0 L1029.0,420.1 L1025.9,419.0 L1023.7,418.0 L1022.0,417.0 L1020.7,416.0 L1019.7,415.0 L1018.9,414.0 L1018.1,412.0 L1018.1,410.0 L1018.8,408.0 L1020.1,406.0 L1021.1,405.0 L1022.2,404.0 L1023.5,403.0 L1026.7,401.0 L1029.0,399.8"/>
<path d="M1032.1,116.0 L1033.2,127.0 L1033.3,133.0 L1032.8,137.0 L1032.4,139.0 L1031.8,141.0 L1031.0,142.7 L1030.2,144.0 L1029.4,145.0 L1028.0,145.3 L1014.0,145.7 L1000.0,146.6 L990.0,146.3 L981.2,145.0 L973.7,143.0 L968.7,141.0 L966.8,140.0 L965.2,139.0 L963.8,138.0 L962.6,137.0 L961.7,136.0 L961.0,135.0 L960.1,133.0 L959.9,131.0 L960.4,129.0 L961.0,127.8 L962.3,126.0 L963.2,125.0 L964.3,124.0 L967.0,122.0 L972.0,119.0 L978.6,116.0"/>
<path d="M912.0,547.0 L912.9,546.0 L913.9,545.0 L915.2,544.0 L916.7,543.0 L920.4,541.0 L934.0,535.5 L948.0,531.1 L962.0,527.3 L976.0,523.9 L990.0,520.7 L1004.0,517.5 L1018.0,514.4 L1029.0,511.7 L1030.0,512.5 L1031.0,513.5 L1032.0,515.0 L1032.8,517.0 L1033.3,519.0 L1033.7,522.0 L1033.5,534.0 L1031.7,547.0"/>
<path d="M1029.0,173.8 L1029.5,175.0 L1030.1,177.0 L1030.2,179.0 L1030.1,181.0 L1029.6,183.0 L1029.0,184.4 L1027.7,183.0 L1027.0,182.0 L1026.2,180.0 L1026.1,178.0 L1026.9,176.0 L1027.6,175.0 L1028.7,174.0 L1029.0,173.8"/>
<path d="M1029.9,116.0 L1031.1,123.0 L1031.6,130.0 L1031.4,134.0 L1031.2,136.0 L1030.7,138.0 L1030.0,140.0 L1029.0,141.9 L1015.0,137.0 L1010.6,135.0 L1009.0,134.0 L1007.6,133.0 L1006.4,132.0 L1005.5,131.0 L1004.8,130.0 L1004.0,128.1 L1003.9,126.0 L1004.5,124.0 L1005.9,122.0 L1006.8,121.0 L1008.0,120.0 L1009.5,119.0 L1011.2,118.0 L1015.0,116.3 L1015.8,116.0"/>
<path d="M974.7,547.0 L974.7,545.0 L975.4,543.0 L976.9,541.0 L977.8,540.0 L978.9,539.0 L981.4,537.0 L989.2,532.0 L1002.0,525.3 L1015.0,519.5 L1028.0,514.1 L1029.3,514.0 L1030.1,515.0 L1031.0,516.6 L1031.5,518.0 L1032.0,520.0 L1032.4,523.0 L1032.1,532.0 L1031.1,540.0 L1029.4,547.0"/>
<path d="M1028.0,121.8 L1029.3,123.0 L1029.8,129.0 L1029.8,132.0 L1029.7,134.0 L1029.3,136.0 L1029.0,137.2 L1027.5,136.0 L1026.5,135.0 L1025.5,134.0 L1024.7,133.0 L1024.0,132.0 L1023.0,130.0 L1022.6,128.0 L1023.0,126.1 L1023.6,125.0 L1024.4,124.0 L1025.7,123.0 L1027.0,122.2 L1028.0,121.8"/>
<path d="M1028.0,516.8 L1029.0,516.1 L1030.0,518.0 L1030.5,520.0 L1030.9,522.0 L1031.0,526.0 L1030.4,534.0 L1029.2,540.0 L1028.0,541.0 L1021.0,541.1 L1019.0,540.9 L1017.0,540.6 L1015.0,540.0 L1013.0,539.0 L1012.0,538.1 L1011.3,537.0 L1010.8,535.0 L1011.0,533.3 L1011.4,532.0 L1012.4,530.0 L1013.1,529.0 L1013.9,528.0 L1014.7,527.0 L1015.7,526.0 L1016.7,525.0 L1017.9,524.0 L1021.7,521.0 L1028.0,516.8"/>
<path d="M1029.0,519.7 L1029.3,521.0 L1029.6,523.0 L1029.6,527.0 L1029.0,533.0 L1027.1,532.0 L1026.0,531.1 L1025.2,530.0 L1024.8,528.0 L1025.0,526.3 L1025.4,525.0 L1026.0,523.9 L1027.2,522.0 L1028.0,521.0 L1028.8,520.0 L1029.0,519.7"/>
<path d="M617,303.8 L628.5,302.6 L630,306.2 L619.5,308.6 Z"/>
</g>
<path d="M326,318.4H1071" stroke="#8f7783" stroke-opacity="0.85" stroke-width="0.65" stroke-dasharray="2.3,2.15" fill="none"/>
<path d="M326,326.9H1071" stroke="#e6a3dc" stroke-opacity="0.85" stroke-width="1.2" stroke-dasharray="2,2.45" fill="none"/>
<g fill="none" stroke="#78b2bf" stroke-width="1.45" opacity="0.95">
<path d="M352.31,509.99A10.2,10.2 0 0 0 348.45,524.41"/>
<path d="M367.20,520.42A10.2,10.2 0 0 0 357.46,508.81"/>
<path d="M351.69,527.65A10.2,10.2 0 0 0 364.68,525.83"/>
<path d="M353.44,512.11A7.8,7.8 0 0 0 350.49,523.13"/>
<path d="M364.82,520.09A7.8,7.8 0 0 0 357.37,511.20"/>
<path d="M352.97,525.61A7.8,7.8 0 0 0 362.90,524.22"/>
<path stroke-width="1.8" d="M360.70,516.48A4.4,4.4 0 1 0 361.23,520.50"/>
<path d="M357.3,519.2h6.4" stroke-width="1.8"/>
</g>
<text x="328.5" y="543" font-size="7.4" fill="#78b2bf" opacity="0.95" textLength="57" lengthAdjust="spacing"><tspan stroke="#78b2bf" stroke-width="0.35">SPOT</tspan>GAMMA</text>
</g>
<path d="M324.40000000000003,331.4h4.4l-2.2,3.4z" fill="#4d4d55"/>
<rect x="329.90000000000003" y="329.7" width="3.4" height="3" fill="#a3aaa6"/>
<rect x="335.2" y="329.4" width="3.6" height="9.2" fill="#4d4d55"/>
<rect x="340.8" y="336.4" width="3.4" height="2" fill="#a3aaa6"/>
<rect x="346.6" y="333.3" width="2.8" height="3" fill="#fff" stroke="#a3aaa6" stroke-width="0.8"/>
<rect x="352.0" y="328.1" width="2.8" height="3" fill="#fff" stroke="#a3aaa6" stroke-width="0.8"/>
<path d="M358.8,322.20000000000005v6.8" stroke="#a3aaa6" stroke-width="0.8"/><rect x="357.2" y="323.6" width="3.2" height="4" fill="#e9e3e6" stroke="#a3aaa6" stroke-width="0.8"/>
<rect x="362.5" y="322.8" width="3.4" height="2" fill="#a3aaa6"/>
<path d="M367.6,321.7h4l-2,2.8z" fill="#a3aaa6"/>
<rect x="373.3" y="320.5" width="3.4" height="3" fill="#a3aaa6"/>
<rect x="379.0" y="318.5" width="2.8" height="3" fill="#fff" stroke="#a3aaa6" stroke-width="0.8"/>
<rect x="384.1" y="317.9" width="3.4" height="3" fill="#4d4d55"/>
<rect x="389.8" y="316.4" width="2.8" height="3.2" fill="#e6e0e3" stroke="#a3aaa6" stroke-width="0.8"/>
<rect x="394.90000000000003" y="316.3" width="3.4" height="3" fill="#4d4d55"/>
<path d="M400,319.7h4l-2,-3.2z" fill="#a3aaa6"/>
<path d="M405.2,316.59999999999997h4.4l-2.2,3.4z" fill="#4d4d55"/>
<rect x="411.0" y="317.1" width="3.6" height="1.8" fill="#4d4d55"/>
<rect x="416.5" y="316.1" width="3.4" height="3" fill="#a3aaa6"/>
<path d="M421.6,317.5h4l-2,-3.2z" fill="#a3aaa6"/>
<rect x="427.3" y="315.3" width="3.4" height="3" fill="#4d4d55"/>
<rect x="432.59999999999997" y="317.5" width="3.6" height="1.8" fill="#4d4d55"/>
<path d="M326,333.5 L331.5,333.7 L337,333.6 L342.5,333.4 L348,333 L353.5,332 L358.8,333.6 L364.2,332.5 L369.6,331.2 L375,332.6 L380.4,328.6 L385.8,329.6 L391.2,328.2 L396.6,328.9 L402,328.1 L407.4,327.5 L412.8,327.3 L418.2,327.7 L423.6,328 L429,327 L434.4,326.8" fill="none" stroke="#3d3dc4" stroke-width="1.2" stroke-linejoin="round"/>
<text x="314" y="165.6" font-size="9.3" text-anchor="end" fill="#222" font-weight="normal" textLength="20.8" lengthAdjust="spacingAndGlyphs">5750</text>
<path d="M316.3,162.1h3.4" stroke="#444" stroke-width="0.8"/>
<text x="314" y="231.0" font-size="9.3" text-anchor="end" fill="#222" font-weight="normal" textLength="20.8" lengthAdjust="spacingAndGlyphs">5700</text>
<path d="M316.3,227.5h3.4" stroke="#444" stroke-width="0.8"/>
<text x="314" y="296.4" font-size="9.3" text-anchor="end" fill="#222" font-weight="normal" textLength="20.8" lengthAdjust="spacingAndGlyphs">5650</text>
<path d="M316.3,292.9h3.4" stroke="#444" stroke-width="0.8"/>
<text x="314" y="361.8" font-size="9.3" text-anchor="end" fill="#222" font-weight="normal" textLength="20.8" lengthAdjust="spacingAndGlyphs">5600</text>
<path d="M316.3,358.3h3.4" stroke="#444" stroke-width="0.8"/>
<text x="314" y="427.2" font-size="9.3" text-anchor="end" fill="#222" font-weight="normal" textLength="20.8" lengthAdjust="spacingAndGlyphs">5550</text>
<path d="M316.3,423.7h3.4" stroke="#444" stroke-width="0.8"/>
<text x="314" y="492.6" font-size="9.3" text-anchor="end" fill="#222" font-weight="normal" textLength="20.8" lengthAdjust="spacingAndGlyphs">5500</text>
<path d="M316.3,489.1h3.4" stroke="#444" stroke-width="0.8"/>
<path d="M323.4,129.5h2.6" stroke="#ddd" stroke-width="0.7"/>
<path d="M323.4,194.9h2.6" stroke="#ddd" stroke-width="0.7"/>
<path d="M323.4,260.3h2.6" stroke="#ddd" stroke-width="0.7"/>
<path d="M323.4,325.7h2.6" stroke="#ddd" stroke-width="0.7"/>
<path d="M323.4,391.1h2.6" stroke="#ddd" stroke-width="0.7"/>
<path d="M323.4,456.5h2.6" stroke="#ddd" stroke-width="0.7"/>
<path d="M323.4,521.9h2.6" stroke="#ddd" stroke-width="0.7"/>
<text transform="translate(281.3,332) rotate(-90)" font-size="10" text-anchor="middle" fill="#111" textLength="71" lengthAdjust="spacingAndGlyphs">Strike / Price ($)</text>
<rect x="288.9" y="312" width="23.9" height="13.2" fill="#7a7a7a"/>
<text x="300.9" y="322" font-size="8.6" text-anchor="middle" fill="#fff" font-weight="normal" >5630</text>
<path d="M390.7,551.2v3.3" stroke="#444" stroke-width="0.8"/>
<text x="391.1" y="565.7" font-size="9.2" text-anchor="middle" fill="#222" font-weight="normal" textLength="24.2" lengthAdjust="spacingAndGlyphs">06:00</text>
<path d="M520.3,551.2v3.3" stroke="#444" stroke-width="0.8"/>
<text x="520.7" y="565.7" font-size="9.2" text-anchor="middle" fill="#222" font-weight="normal" textLength="24.2" lengthAdjust="spacingAndGlyphs">08:00</text>
<path d="M649.9,551.2v3.3" stroke="#444" stroke-width="0.8"/>
<text x="650.3" y="565.7" font-size="9.2" text-anchor="middle" fill="#222" font-weight="normal" textLength="24.2" lengthAdjust="spacingAndGlyphs">10:00</text>
<path d="M779.5,551.2v3.3" stroke="#444" stroke-width="0.8"/>
<text x="779.9" y="565.7" font-size="9.2" text-anchor="middle" fill="#222" font-weight="normal" textLength="24.2" lengthAdjust="spacingAndGlyphs">12:00</text>
<path d="M909.1,551.2v3.3" stroke="#444" stroke-width="0.8"/>
<text x="909.5" y="565.7" font-size="9.2" text-anchor="middle" fill="#222" font-weight="normal" textLength="24.2" lengthAdjust="spacingAndGlyphs">14:00</text>
<path d="M1038.7,551.2v3.3" stroke="#444" stroke-width="0.8"/>
<text x="1039.1" y="565.7" font-size="9.2" text-anchor="middle" fill="#222" font-weight="normal" textLength="24.2" lengthAdjust="spacingAndGlyphs">16:00</text>
<text x="391.3" y="577.1" font-size="9.2" text-anchor="middle" fill="#222" font-weight="normal" textLength="50.7" lengthAdjust="spacingAndGlyphs">Mar 19, 2025</text>
<text x="1078.0" y="143.5" font-size="9.0" text-anchor="start" fill="#222" font-weight="normal" textLength="10.2" lengthAdjust="spacingAndGlyphs">2B</text>
<text x="1078.0" y="191.5" font-size="9.0" text-anchor="start" fill="#222" font-weight="normal" textLength="16.3" lengthAdjust="spacingAndGlyphs">1.5B</text>
<text x="1078.0" y="239.5" font-size="9.0" text-anchor="start" fill="#222" font-weight="normal" textLength="8.9" lengthAdjust="spacingAndGlyphs">1B</text>
<text x="1078.0" y="287.5" font-size="9.0" text-anchor="start" fill="#222" font-weight="normal" textLength="17.6" lengthAdjust="spacingAndGlyphs">0.5B</text>
<text x="1078.0" y="335.5" font-size="9.0" text-anchor="start" fill="#222" font-weight="normal" textLength="4.6" lengthAdjust="spacingAndGlyphs">0</text>
<text x="1078.0" y="383.5" font-size="9.0" text-anchor="start" fill="#222" font-weight="normal" textLength="23" lengthAdjust="spacingAndGlyphs">−0.5B</text>
<text x="1078.0" y="431.5" font-size="9.0" text-anchor="start" fill="#222" font-weight="normal" textLength="14.3" lengthAdjust="spacingAndGlyphs">−1B</text>
<text x="1078.0" y="479.5" font-size="9.0" text-anchor="start" fill="#222" font-weight="normal" textLength="21.7" lengthAdjust="spacingAndGlyphs">−1.5B</text>
<text x="1078.0" y="527.5" font-size="9.0" text-anchor="start" fill="#222" font-weight="normal" textLength="15.6" lengthAdjust="spacingAndGlyphs">−2B</text>
<text transform="translate(1110.2,331.7) rotate(-90)" font-size="10" text-anchor="middle" fill="#111" textLength="23.6" lengthAdjust="spacingAndGlyphs">HIRO</text>
<rect x="1081.8" y="320.5" width="21.5" height="12.9" fill="#5a55c8"/>
<text x="1092.6" y="330.3" font-size="8.2" text-anchor="middle" fill="#fff" font-weight="normal" >48M</text>
<rect x="1133.4" y="123.3" width="23.09999999999991" height="415.49999999999994" fill="url(#cbg)" stroke="#8a8a8a" stroke-width="1"/>
<path d="M1133.4,138.4H1156.5" stroke="#5a4a66" stroke-opacity="0.45" stroke-width="0.8"/>
<path d="M1133.4,166.1H1156.5" stroke="#5a4a66" stroke-opacity="0.45" stroke-width="0.8"/>
<path d="M1133.4,193.8H1156.5" stroke="#5a4a66" stroke-opacity="0.45" stroke-width="0.8"/>
<path d="M1133.4,221.5H1156.5" stroke="#5a4a66" stroke-opacity="0.45" stroke-width="0.8"/>
<path d="M1133.4,249.2H1156.5" stroke="#5a4a66" stroke-opacity="0.45" stroke-width="0.8"/>
<path d="M1133.4,276.9H1156.5" stroke="#5a4a66" stroke-opacity="0.45" stroke-width="0.8"/>
<path d="M1133.4,304.5H1156.5" stroke="#5a4a66" stroke-opacity="0.45" stroke-width="0.8"/>
<path d="M1133.4,332.2H1156.5" stroke="#5a4a66" stroke-opacity="0.45" stroke-width="0.8"/>
<path d="M1133.4,359.9H1156.5" stroke="#5a4a66" stroke-opacity="0.45" stroke-width="0.8"/>
<path d="M1133.4,387.6H1156.5" stroke="#5a4a66" stroke-opacity="0.45" stroke-width="0.8"/>
<path d="M1133.4,415.3H1156.5" stroke="#5a4a66" stroke-opacity="0.45" stroke-width="0.8"/>
<path d="M1133.4,443.0H1156.5" stroke="#5a4a66" stroke-opacity="0.45" stroke-width="0.8"/>
<path d="M1133.4,470.7H1156.5" stroke="#5a4a66" stroke-opacity="0.45" stroke-width="0.8"/>
<path d="M1133.4,498.4H1156.5" stroke="#5a4a66" stroke-opacity="0.45" stroke-width="0.8"/>
<path d="M1133.4,526.1H1156.5" stroke="#5a4a66" stroke-opacity="0.45" stroke-width="0.8"/>
<text x="1158.8" y="141.4" font-size="9" fill="#222" textLength="22.3" lengthAdjust="spacingAndGlyphs">67.1M</text>
<text x="1158.8" y="196.8" font-size="9" fill="#222" textLength="22.3" lengthAdjust="spacingAndGlyphs">47.1M</text>
<text x="1158.8" y="252.2" font-size="9" fill="#222" textLength="22.3" lengthAdjust="spacingAndGlyphs">27.1M</text>
<text x="1158.8" y="307.5" font-size="9" fill="#222" textLength="16.6" lengthAdjust="spacingAndGlyphs">7.1M</text>
<text x="1158.8" y="362.9" font-size="9" fill="#222" textLength="29.0" lengthAdjust="spacingAndGlyphs">−12.9M</text>
<text x="1158.8" y="418.3" font-size="9" fill="#222" textLength="30.2" lengthAdjust="spacingAndGlyphs">−32.9M</text>
<text x="1158.8" y="473.7" font-size="9" fill="#222" textLength="30.2" lengthAdjust="spacingAndGlyphs">−52.9M</text>
<text x="1158.8" y="529.1" font-size="9" fill="#222" textLength="30.2" lengthAdjust="spacingAndGlyphs">−72.9M</text>
<text transform="translate(1199.6,332) rotate(-90)" font-size="10" text-anchor="middle" fill="#111" textLength="90.3" lengthAdjust="spacingAndGlyphs">Gamma ($ Notional)</text>
<rect x="1116.8" y="568.2" width="49.6" height="18.6" rx="1.2" fill="#777"/><path d="M1136.8,586.6h8.6l-4.3,4.3z" fill="#777"/>
<text x="1141.5" y="580.2" font-size="8.6" text-anchor="middle" fill="#f4f4f4" font-weight="normal" textLength="32" lengthAdjust="spacingAndGlyphs">6:30:00</text>
<path d="M189.4,229.1L844.8,229.1" stroke="#000" stroke-opacity="0.35" stroke-width="3" filter="url(#b2)"/>
<path d="M189.4,227.5L844.8,227.5" stroke="#000" stroke-width="3.1"/>
<path d="M190.9,363.40000000000003L783.7,366.0" stroke="#000" stroke-opacity="0.35" stroke-width="3" filter="url(#b2)"/>
<path d="M190.9,361.8L783.7,364.4" stroke="#000" stroke-width="3.1"/>
<path d="M189.9,493.90000000000003L866.4,493.8" stroke="#000" stroke-opacity="0.35" stroke-width="3" filter="url(#b2)"/>
<path d="M189.9,492.3L866.4,492.2" stroke="#000" stroke-width="3.1"/>
<text x="853.1" y="236.7" font-size="20" font-weight="bold" font-style="italic" textLength="178.6" lengthAdjust="spacingAndGlyphs" fill="#000" fill-opacity="0.5" filter="url(#b3)">5,700 Resistance</text>
<text x="851.6" y="234.7" font-size="20" font-weight="bold" font-style="italic" textLength="178.6" lengthAdjust="spacingAndGlyphs" fill="#000">5,700 Resistance</text>
<text x="791.7" y="374.1" font-size="20" font-weight="bold" font-style="italic" textLength="238.8" lengthAdjust="spacingAndGlyphs" fill="#000" fill-opacity="0.5" filter="url(#b3)">&lt;5,600 Vol Accelerates</text>
<text x="790.2" y="372.1" font-size="20" font-weight="bold" font-style="italic" textLength="238.8" lengthAdjust="spacingAndGlyphs" fill="#000">&lt;5,600 Vol Accelerates</text>
<text x="874.4" y="502.3" font-size="20" font-weight="bold" font-style="italic" textLength="146.5" lengthAdjust="spacingAndGlyphs" fill="#000" fill-opacity="0.5" filter="url(#b3)">5,500 Support</text>
<text x="872.9" y="500.3" font-size="20" font-weight="bold" font-style="italic" textLength="146.5" lengthAdjust="spacingAndGlyphs" fill="#000">5,500 Support</text>
</svg>
</body></html>
